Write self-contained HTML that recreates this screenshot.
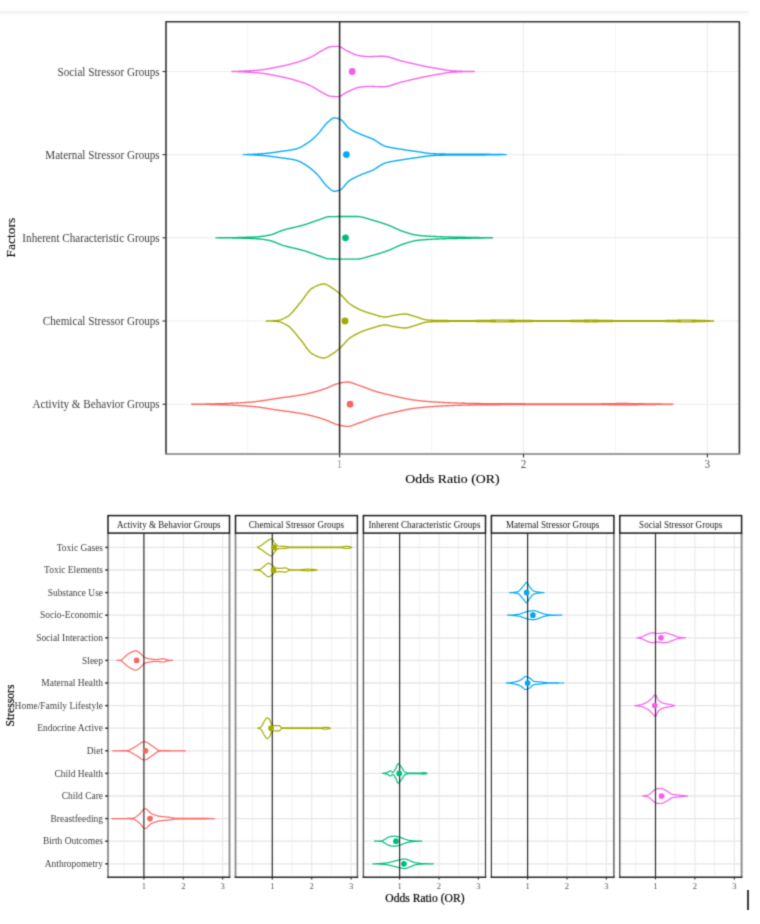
<!DOCTYPE html>
<html><head><meta charset="utf-8"><title>Violin plots</title><style>
html,body{margin:0;padding:0;background:#fff;width:760px;height:924px;overflow:hidden}
svg{display:block}
#w{width:760px;height:924px}
.faint{fill:#c8c8c8}
text{font-family:"Liberation Serif",serif}
.ax{font-size:11.15px;fill:#404040}
.ti{font-size:13.8px;fill:#000;stroke:#000;stroke-width:0.12px}
.st{font-size:9.1px;fill:#1a1a1a}
.bax{font-size:9.45px;fill:#404040}
.tnum{font-size:11.15px;fill:#555}
.one{fill:#999}
.bnum{font-size:8.6px;fill:#5a5a5a}
.fac{font-size:13.5px}
.bti{font-size:11.6px;fill:#000;stroke:#000;stroke-width:0.2px}
</style></head>
<body><div id="w">
<svg width="760" height="924" viewBox="0 0 760 924">
<defs><filter id="bl" x="0" y="0" width="100%" height="100%" color-interpolation-filters="sRGB"><feConvolveMatrix order="3" kernelMatrix="0.0276 0.1109 0.0276 0.1109 0.4462 0.1109 0.0276 0.1109 0.0276" divisor="1" edgeMode="duplicate" preserveAlpha="true"/></filter></defs><g filter="url(#bl)">
<rect x="0" y="0" width="760" height="924" fill="#fff"/>
<rect x="0" y="10.8" width="748.5" height="2.4" fill="#f3f3f3"/>
<rect x="0" y="13.2" width="748.5" height="1.6" fill="#fafafa"/>
<line x1="247.65" y1="21.7" x2="247.65" y2="454.0" stroke="#f4f4f4" stroke-width="0.8"/>
<line x1="431.55" y1="21.7" x2="431.55" y2="454.0" stroke="#f4f4f4" stroke-width="0.8"/>
<line x1="615.45" y1="21.7" x2="615.45" y2="454.0" stroke="#f4f4f4" stroke-width="0.8"/>
<line x1="339.60" y1="21.7" x2="339.60" y2="454.0" stroke="#ebebeb" stroke-width="1.1"/>
<line x1="523.50" y1="21.7" x2="523.50" y2="454.0" stroke="#ebebeb" stroke-width="1.1"/>
<line x1="707.40" y1="21.7" x2="707.40" y2="454.0" stroke="#ebebeb" stroke-width="1.1"/>
<line x1="166.0" y1="71.5" x2="739.4" y2="71.5" stroke="#ebebeb" stroke-width="1.1"/>
<line x1="166.0" y1="154.6" x2="739.4" y2="154.6" stroke="#ebebeb" stroke-width="1.1"/>
<line x1="166.0" y1="237.8" x2="739.4" y2="237.8" stroke="#ebebeb" stroke-width="1.1"/>
<line x1="166.0" y1="321.0" x2="739.4" y2="321.0" stroke="#ebebeb" stroke-width="1.1"/>
<line x1="166.0" y1="404.2" x2="739.4" y2="404.2" stroke="#ebebeb" stroke-width="1.1"/>
<path d="M232.00,71.50 L232.50,71.49 L233.00,71.47 L233.50,71.46 L234.00,71.44 L234.50,71.43 L235.00,71.41 L235.50,71.40 L236.00,71.38 L236.51,71.36 L237.01,71.34 L237.51,71.32 L238.01,71.30 L238.51,71.29 L239.01,71.27 L239.51,71.25 L240.01,71.22 L240.51,71.20 L241.01,71.18 L241.51,71.16 L242.01,71.14 L242.51,71.12 L243.01,71.09 L243.51,71.07 L244.01,71.05 L244.52,71.02 L245.02,71.00 L245.52,70.98 L246.02,70.95 L246.52,70.93 L247.02,70.90 L247.52,70.88 L248.02,70.85 L248.52,70.82 L249.02,70.80 L249.52,70.77 L250.02,70.74 L250.52,70.71 L251.02,70.68 L251.52,70.65 L252.02,70.62 L252.53,70.59 L253.03,70.56 L253.53,70.53 L254.03,70.49 L254.53,70.46 L255.03,70.42 L255.53,70.39 L256.03,70.35 L256.53,70.31 L257.03,70.27 L257.53,70.23 L258.03,70.19 L258.53,70.14 L259.03,70.10 L259.53,70.05 L260.03,70.00 L260.54,69.94 L261.04,69.89 L261.54,69.83 L262.04,69.76 L262.54,69.70 L263.04,69.63 L263.54,69.56 L264.04,69.48 L264.54,69.41 L265.04,69.33 L265.54,69.25 L266.04,69.16 L266.54,69.08 L267.04,68.99 L267.54,68.91 L268.04,68.82 L268.55,68.73 L269.05,68.63 L269.55,68.54 L270.05,68.45 L270.55,68.35 L271.05,68.26 L271.55,68.16 L272.05,68.07 L272.55,67.97 L273.05,67.87 L273.55,67.77 L274.05,67.68 L274.55,67.58 L275.05,67.48 L275.55,67.39 L276.05,67.29 L276.56,67.19 L277.06,67.10 L277.56,67.00 L278.06,66.90 L278.56,66.80 L279.06,66.70 L279.56,66.60 L280.06,66.49 L280.56,66.39 L281.06,66.28 L281.56,66.18 L282.06,66.07 L282.56,65.96 L283.06,65.85 L283.56,65.74 L284.06,65.63 L284.57,65.52 L285.07,65.40 L285.57,65.29 L286.07,65.17 L286.57,65.05 L287.07,64.93 L287.57,64.81 L288.07,64.69 L288.57,64.57 L289.07,64.44 L289.57,64.32 L290.07,64.19 L290.57,64.06 L291.07,63.93 L291.57,63.80 L292.07,63.66 L292.57,63.53 L293.08,63.39 L293.58,63.25 L294.08,63.11 L294.58,62.97 L295.08,62.83 L295.58,62.68 L296.08,62.53 L296.58,62.38 L297.08,62.23 L297.58,62.08 L298.08,61.93 L298.58,61.77 L299.08,61.61 L299.58,61.45 L300.08,61.29 L300.58,61.12 L301.09,60.96 L301.59,60.79 L302.09,60.61 L302.59,60.44 L303.09,60.26 L303.59,60.08 L304.09,59.90 L304.59,59.71 L305.09,59.53 L305.59,59.34 L306.09,59.14 L306.59,58.95 L307.09,58.75 L307.59,58.54 L308.09,58.34 L308.59,58.13 L309.10,57.91 L309.60,57.70 L310.10,57.48 L310.60,57.26 L311.10,57.02 L311.60,56.77 L312.10,56.51 L312.60,56.23 L313.10,55.95 L313.60,55.65 L314.10,55.35 L314.60,55.04 L315.10,54.72 L315.60,54.41 L316.10,54.09 L316.60,53.77 L317.11,53.45 L317.61,53.14 L318.11,52.83 L318.61,52.53 L319.11,52.23 L319.61,51.94 L320.11,51.66 L320.61,51.40 L321.11,51.14 L321.61,50.87 L322.11,50.60 L322.61,50.32 L323.11,50.03 L323.61,49.75 L324.11,49.46 L324.61,49.18 L325.12,48.90 L325.62,48.63 L326.12,48.36 L326.62,48.11 L327.12,47.87 L327.62,47.65 L328.12,47.44 L328.62,47.25 L329.12,47.09 L329.62,46.95 L330.12,46.83 L330.62,46.75 L331.12,46.69 L331.62,46.64 L332.12,46.60 L332.62,46.55 L333.13,46.51 L333.63,46.47 L334.13,46.44 L334.63,46.41 L335.13,46.38 L335.63,46.36 L336.13,46.33 L336.63,46.32 L337.13,46.31 L337.63,46.30 L338.13,46.30 L338.63,46.35 L339.13,46.45 L339.63,46.60 L340.13,46.80 L340.63,47.03 L341.14,47.29 L341.64,47.58 L342.14,47.89 L342.64,48.22 L343.14,48.55 L343.64,48.88 L344.14,49.21 L344.64,49.53 L345.14,49.84 L345.64,50.12 L346.14,50.38 L346.64,50.61 L347.14,50.84 L347.64,51.07 L348.14,51.31 L348.64,51.55 L349.15,51.79 L349.65,52.03 L350.15,52.28 L350.65,52.52 L351.15,52.76 L351.65,53.00 L352.15,53.24 L352.65,53.47 L353.15,53.69 L353.65,53.92 L354.15,54.13 L354.65,54.34 L355.15,54.53 L355.65,54.72 L356.15,54.90 L356.65,55.07 L357.15,55.22 L357.66,55.36 L358.16,55.49 L358.66,55.60 L359.16,55.70 L359.66,55.78 L360.16,55.85 L360.66,55.91 L361.16,55.98 L361.66,56.04 L362.16,56.10 L362.66,56.16 L363.16,56.22 L363.66,56.27 L364.16,56.32 L364.66,56.37 L365.16,56.41 L365.67,56.45 L366.17,56.49 L366.67,56.52 L367.17,56.55 L367.67,56.57 L368.17,56.58 L368.67,56.60 L369.17,56.60 L369.67,56.60 L370.17,56.60 L370.67,56.59 L371.17,56.58 L371.67,56.57 L372.17,56.55 L372.67,56.54 L373.17,56.52 L373.68,56.50 L374.18,56.48 L374.68,56.46 L375.18,56.44 L375.68,56.41 L376.18,56.39 L376.68,56.37 L377.18,56.35 L377.68,56.33 L378.18,56.31 L378.68,56.29 L379.18,56.27 L379.68,56.25 L380.18,56.24 L380.68,56.22 L381.18,56.21 L381.69,56.21 L382.19,56.20 L382.69,56.20 L383.19,56.21 L383.69,56.23 L384.19,56.26 L384.69,56.30 L385.19,56.36 L385.69,56.42 L386.19,56.50 L386.69,56.58 L387.19,56.68 L387.69,56.78 L388.19,56.89 L388.69,57.01 L389.19,57.14 L389.70,57.27 L390.20,57.41 L390.70,57.55 L391.20,57.70 L391.70,57.85 L392.20,58.01 L392.70,58.17 L393.20,58.33 L393.70,58.50 L394.20,58.66 L394.70,58.83 L395.20,59.00 L395.70,59.17 L396.20,59.33 L396.70,59.50 L397.20,59.66 L397.71,59.83 L398.21,59.98 L398.71,60.14 L399.21,60.29 L399.71,60.44 L400.21,60.58 L400.71,60.72 L401.21,60.85 L401.71,60.98 L402.21,61.10 L402.71,61.22 L403.21,61.34 L403.71,61.46 L404.21,61.58 L404.71,61.70 L405.21,61.82 L405.72,61.94 L406.22,62.06 L406.72,62.18 L407.22,62.30 L407.72,62.42 L408.22,62.54 L408.72,62.66 L409.22,62.78 L409.72,62.90 L410.22,63.01 L410.72,63.13 L411.22,63.25 L411.72,63.37 L412.22,63.48 L412.72,63.60 L413.22,63.71 L413.73,63.83 L414.23,63.94 L414.73,64.06 L415.23,64.17 L415.73,64.28 L416.23,64.39 L416.73,64.50 L417.23,64.62 L417.73,64.72 L418.23,64.83 L418.73,64.94 L419.23,65.05 L419.73,65.16 L420.23,65.26 L420.73,65.37 L421.23,65.47 L421.73,65.57 L422.24,65.68 L422.74,65.78 L423.24,65.88 L423.74,65.98 L424.24,66.09 L424.74,66.19 L425.24,66.29 L425.74,66.39 L426.24,66.49 L426.74,66.59 L427.24,66.69 L427.74,66.79 L428.24,66.88 L428.74,66.98 L429.24,67.08 L429.74,67.18 L430.25,67.27 L430.75,67.37 L431.25,67.46 L431.75,67.56 L432.25,67.65 L432.75,67.74 L433.25,67.83 L433.75,67.93 L434.25,68.02 L434.75,68.11 L435.25,68.19 L435.75,68.28 L436.25,68.37 L436.75,68.46 L437.25,68.54 L437.75,68.63 L438.26,68.71 L438.76,68.80 L439.26,68.88 L439.76,68.96 L440.26,69.04 L440.76,69.12 L441.26,69.21 L441.76,69.29 L442.26,69.38 L442.76,69.47 L443.26,69.56 L443.76,69.64 L444.26,69.73 L444.76,69.82 L445.26,69.90 L445.76,69.99 L446.27,70.07 L446.77,70.15 L447.27,70.23 L447.77,70.31 L448.27,70.38 L448.77,70.45 L449.27,70.52 L449.77,70.58 L450.27,70.64 L450.77,70.70 L451.27,70.75 L451.77,70.80 L452.27,70.84 L452.77,70.87 L453.27,70.90 L453.77,70.92 L454.28,70.95 L454.78,70.97 L455.28,71.00 L455.78,71.02 L456.28,71.04 L456.78,71.07 L457.28,71.09 L457.78,71.11 L458.28,71.13 L458.78,71.15 L459.28,71.17 L459.78,71.19 L460.28,71.21 L460.78,71.23 L461.28,71.25 L461.78,71.27 L462.29,71.28 L462.79,71.30 L463.29,71.32 L463.79,71.33 L464.29,71.35 L464.79,71.36 L465.29,71.37 L465.79,71.39 L466.29,71.40 L466.79,71.41 L467.29,71.42 L467.79,71.43 L468.29,71.44 L468.79,71.45 L469.29,71.46 L469.79,71.47 L470.30,71.47 L470.80,71.48 L471.30,71.49 L471.80,71.49 L472.30,71.49 L472.80,71.50 L473.30,71.50 L473.80,71.50 L474.30,71.50 L474.30,71.50 L473.80,71.50 L473.30,71.50 L472.80,71.50 L472.30,71.51 L471.80,71.51 L471.30,71.51 L470.80,71.52 L470.30,71.53 L469.79,71.53 L469.29,71.54 L468.79,71.55 L468.29,71.56 L467.79,71.57 L467.29,71.58 L466.79,71.59 L466.29,71.60 L465.79,71.61 L465.29,71.63 L464.79,71.64 L464.29,71.65 L463.79,71.67 L463.29,71.68 L462.79,71.70 L462.29,71.72 L461.78,71.73 L461.28,71.75 L460.78,71.77 L460.28,71.79 L459.78,71.81 L459.28,71.83 L458.78,71.85 L458.28,71.87 L457.78,71.89 L457.28,71.91 L456.78,71.93 L456.28,71.96 L455.78,71.98 L455.28,72.00 L454.78,72.03 L454.28,72.05 L453.77,72.08 L453.27,72.10 L452.77,72.13 L452.27,72.16 L451.77,72.20 L451.27,72.25 L450.77,72.30 L450.27,72.36 L449.77,72.42 L449.27,72.48 L448.77,72.55 L448.27,72.62 L447.77,72.69 L447.27,72.77 L446.77,72.85 L446.27,72.93 L445.76,73.01 L445.26,73.10 L444.76,73.18 L444.26,73.27 L443.76,73.36 L443.26,73.44 L442.76,73.53 L442.26,73.62 L441.76,73.71 L441.26,73.79 L440.76,73.88 L440.26,73.96 L439.76,74.04 L439.26,74.12 L438.76,74.20 L438.26,74.29 L437.75,74.37 L437.25,74.46 L436.75,74.54 L436.25,74.63 L435.75,74.72 L435.25,74.81 L434.75,74.89 L434.25,74.98 L433.75,75.07 L433.25,75.17 L432.75,75.26 L432.25,75.35 L431.75,75.44 L431.25,75.54 L430.75,75.63 L430.25,75.73 L429.74,75.82 L429.24,75.92 L428.74,76.02 L428.24,76.12 L427.74,76.21 L427.24,76.31 L426.74,76.41 L426.24,76.51 L425.74,76.61 L425.24,76.71 L424.74,76.81 L424.24,76.91 L423.74,77.02 L423.24,77.12 L422.74,77.22 L422.24,77.32 L421.73,77.43 L421.23,77.53 L420.73,77.63 L420.23,77.74 L419.73,77.84 L419.23,77.95 L418.73,78.06 L418.23,78.17 L417.73,78.28 L417.23,78.38 L416.73,78.50 L416.23,78.61 L415.73,78.72 L415.23,78.83 L414.73,78.94 L414.23,79.06 L413.73,79.17 L413.22,79.29 L412.72,79.40 L412.22,79.52 L411.72,79.63 L411.22,79.75 L410.72,79.87 L410.22,79.99 L409.72,80.10 L409.22,80.22 L408.72,80.34 L408.22,80.46 L407.72,80.58 L407.22,80.70 L406.72,80.82 L406.22,80.94 L405.72,81.06 L405.21,81.18 L404.71,81.30 L404.21,81.42 L403.71,81.54 L403.21,81.66 L402.71,81.78 L402.21,81.90 L401.71,82.02 L401.21,82.15 L400.71,82.28 L400.21,82.42 L399.71,82.56 L399.21,82.71 L398.71,82.86 L398.21,83.02 L397.71,83.17 L397.20,83.34 L396.70,83.50 L396.20,83.67 L395.70,83.83 L395.20,84.00 L394.70,84.17 L394.20,84.34 L393.70,84.50 L393.20,84.67 L392.70,84.83 L392.20,84.99 L391.70,85.15 L391.20,85.30 L390.70,85.45 L390.20,85.59 L389.70,85.73 L389.19,85.86 L388.69,85.99 L388.19,86.11 L387.69,86.22 L387.19,86.32 L386.69,86.42 L386.19,86.50 L385.69,86.58 L385.19,86.64 L384.69,86.70 L384.19,86.74 L383.69,86.77 L383.19,86.79 L382.69,86.80 L382.19,86.80 L381.69,86.79 L381.18,86.79 L380.68,86.78 L380.18,86.76 L379.68,86.75 L379.18,86.73 L378.68,86.71 L378.18,86.69 L377.68,86.67 L377.18,86.65 L376.68,86.63 L376.18,86.61 L375.68,86.59 L375.18,86.56 L374.68,86.54 L374.18,86.52 L373.68,86.50 L373.17,86.48 L372.67,86.46 L372.17,86.45 L371.67,86.43 L371.17,86.42 L370.67,86.41 L370.17,86.40 L369.67,86.40 L369.17,86.40 L368.67,86.40 L368.17,86.42 L367.67,86.43 L367.17,86.45 L366.67,86.48 L366.17,86.51 L365.67,86.55 L365.16,86.59 L364.66,86.63 L364.16,86.68 L363.66,86.73 L363.16,86.78 L362.66,86.84 L362.16,86.90 L361.66,86.96 L361.16,87.02 L360.66,87.09 L360.16,87.15 L359.66,87.22 L359.16,87.30 L358.66,87.40 L358.16,87.51 L357.66,87.64 L357.15,87.78 L356.65,87.93 L356.15,88.10 L355.65,88.28 L355.15,88.47 L354.65,88.66 L354.15,88.87 L353.65,89.08 L353.15,89.31 L352.65,89.53 L352.15,89.76 L351.65,90.00 L351.15,90.24 L350.65,90.48 L350.15,90.72 L349.65,90.97 L349.15,91.21 L348.64,91.45 L348.14,91.69 L347.64,91.93 L347.14,92.16 L346.64,92.39 L346.14,92.62 L345.64,92.88 L345.14,93.16 L344.64,93.47 L344.14,93.79 L343.64,94.12 L343.14,94.45 L342.64,94.78 L342.14,95.11 L341.64,95.42 L341.14,95.71 L340.63,95.97 L340.13,96.20 L339.63,96.40 L339.13,96.55 L338.63,96.65 L338.13,96.70 L337.63,96.70 L337.13,96.69 L336.63,96.68 L336.13,96.67 L335.63,96.64 L335.13,96.62 L334.63,96.59 L334.13,96.56 L333.63,96.53 L333.13,96.49 L332.62,96.45 L332.12,96.40 L331.62,96.36 L331.12,96.31 L330.62,96.25 L330.12,96.17 L329.62,96.05 L329.12,95.91 L328.62,95.75 L328.12,95.56 L327.62,95.35 L327.12,95.13 L326.62,94.89 L326.12,94.64 L325.62,94.37 L325.12,94.10 L324.61,93.82 L324.11,93.54 L323.61,93.25 L323.11,92.97 L322.61,92.68 L322.11,92.40 L321.61,92.13 L321.11,91.86 L320.61,91.60 L320.11,91.34 L319.61,91.06 L319.11,90.77 L318.61,90.47 L318.11,90.17 L317.61,89.86 L317.11,89.55 L316.60,89.23 L316.10,88.91 L315.60,88.59 L315.10,88.28 L314.60,87.96 L314.10,87.65 L313.60,87.35 L313.10,87.05 L312.60,86.77 L312.10,86.49 L311.60,86.23 L311.10,85.98 L310.60,85.74 L310.10,85.52 L309.60,85.30 L309.10,85.09 L308.59,84.87 L308.09,84.66 L307.59,84.46 L307.09,84.25 L306.59,84.05 L306.09,83.86 L305.59,83.66 L305.09,83.47 L304.59,83.29 L304.09,83.10 L303.59,82.92 L303.09,82.74 L302.59,82.56 L302.09,82.39 L301.59,82.21 L301.09,82.04 L300.58,81.88 L300.08,81.71 L299.58,81.55 L299.08,81.39 L298.58,81.23 L298.08,81.07 L297.58,80.92 L297.08,80.77 L296.58,80.62 L296.08,80.47 L295.58,80.32 L295.08,80.17 L294.58,80.03 L294.08,79.89 L293.58,79.75 L293.08,79.61 L292.57,79.47 L292.07,79.34 L291.57,79.20 L291.07,79.07 L290.57,78.94 L290.07,78.81 L289.57,78.68 L289.07,78.56 L288.57,78.43 L288.07,78.31 L287.57,78.19 L287.07,78.07 L286.57,77.95 L286.07,77.83 L285.57,77.71 L285.07,77.60 L284.57,77.48 L284.06,77.37 L283.56,77.26 L283.06,77.15 L282.56,77.04 L282.06,76.93 L281.56,76.82 L281.06,76.72 L280.56,76.61 L280.06,76.51 L279.56,76.40 L279.06,76.30 L278.56,76.20 L278.06,76.10 L277.56,76.00 L277.06,75.90 L276.56,75.81 L276.05,75.71 L275.55,75.61 L275.05,75.52 L274.55,75.42 L274.05,75.32 L273.55,75.23 L273.05,75.13 L272.55,75.03 L272.05,74.93 L271.55,74.84 L271.05,74.74 L270.55,74.65 L270.05,74.55 L269.55,74.46 L269.05,74.37 L268.55,74.27 L268.04,74.18 L267.54,74.09 L267.04,74.01 L266.54,73.92 L266.04,73.84 L265.54,73.75 L265.04,73.67 L264.54,73.59 L264.04,73.52 L263.54,73.44 L263.04,73.37 L262.54,73.30 L262.04,73.24 L261.54,73.17 L261.04,73.11 L260.54,73.06 L260.03,73.00 L259.53,72.95 L259.03,72.90 L258.53,72.86 L258.03,72.81 L257.53,72.77 L257.03,72.73 L256.53,72.69 L256.03,72.65 L255.53,72.61 L255.03,72.58 L254.53,72.54 L254.03,72.51 L253.53,72.47 L253.03,72.44 L252.53,72.41 L252.02,72.38 L251.52,72.35 L251.02,72.32 L250.52,72.29 L250.02,72.26 L249.52,72.23 L249.02,72.20 L248.52,72.18 L248.02,72.15 L247.52,72.12 L247.02,72.10 L246.52,72.07 L246.02,72.05 L245.52,72.02 L245.02,72.00 L244.52,71.98 L244.01,71.95 L243.51,71.93 L243.01,71.91 L242.51,71.88 L242.01,71.86 L241.51,71.84 L241.01,71.82 L240.51,71.80 L240.01,71.78 L239.51,71.75 L239.01,71.73 L238.51,71.71 L238.01,71.70 L237.51,71.68 L237.01,71.66 L236.51,71.64 L236.00,71.62 L235.50,71.60 L235.00,71.59 L234.50,71.57 L234.00,71.56 L233.50,71.54 L233.00,71.53 L232.50,71.51 L232.00,71.50Z" fill="#fff" stroke="#F55CEE" stroke-width="1.35" stroke-linejoin="round"/>
<path d="M243.30,154.60 L243.80,154.60 L244.30,154.59 L244.80,154.58 L245.30,154.58 L245.80,154.57 L246.30,154.55 L246.80,154.54 L247.30,154.53 L247.80,154.51 L248.30,154.50 L248.80,154.48 L249.30,154.46 L249.80,154.44 L250.30,154.42 L250.80,154.40 L251.30,154.38 L251.80,154.36 L252.30,154.33 L252.80,154.31 L253.30,154.28 L253.80,154.25 L254.30,154.23 L254.80,154.20 L255.30,154.17 L255.80,154.14 L256.30,154.11 L256.80,154.08 L257.30,154.05 L257.80,154.02 L258.30,153.99 L258.80,153.95 L259.30,153.92 L259.80,153.89 L260.30,153.86 L260.80,153.82 L261.30,153.79 L261.80,153.75 L262.30,153.72 L262.80,153.69 L263.30,153.65 L263.80,153.61 L264.30,153.57 L264.80,153.53 L265.30,153.48 L265.80,153.43 L266.30,153.38 L266.80,153.33 L267.30,153.28 L267.80,153.22 L268.30,153.16 L268.80,153.10 L269.30,153.04 L269.80,152.98 L270.30,152.92 L270.80,152.85 L271.30,152.79 L271.80,152.72 L272.30,152.65 L272.80,152.58 L273.30,152.51 L273.80,152.44 L274.30,152.37 L274.80,152.30 L275.30,152.23 L275.80,152.15 L276.30,152.08 L276.80,152.01 L277.30,151.94 L277.80,151.86 L278.30,151.79 L278.80,151.72 L279.30,151.64 L279.80,151.57 L280.30,151.50 L280.80,151.43 L281.30,151.36 L281.80,151.29 L282.30,151.22 L282.80,151.15 L283.30,151.09 L283.80,151.02 L284.30,150.96 L284.80,150.89 L285.30,150.83 L285.80,150.76 L286.30,150.69 L286.80,150.63 L287.30,150.56 L287.80,150.49 L288.30,150.42 L288.80,150.34 L289.30,150.27 L289.80,150.19 L290.30,150.11 L290.80,150.03 L291.30,149.94 L291.80,149.85 L292.30,149.76 L292.80,149.67 L293.30,149.57 L293.80,149.46 L294.30,149.35 L294.80,149.24 L295.30,149.12 L295.80,149.00 L296.30,148.87 L296.80,148.72 L297.30,148.56 L297.80,148.38 L298.30,148.19 L298.80,147.98 L299.30,147.77 L299.80,147.54 L300.30,147.30 L300.80,147.05 L301.30,146.80 L301.80,146.53 L302.30,146.25 L302.80,145.97 L303.30,145.67 L303.80,145.37 L304.30,145.07 L304.80,144.76 L305.30,144.44 L305.80,144.12 L306.30,143.80 L306.80,143.47 L307.30,143.14 L307.80,142.80 L308.30,142.47 L308.80,142.13 L309.30,141.79 L309.80,141.42 L310.30,141.04 L310.80,140.65 L311.30,140.25 L311.80,139.83 L312.30,139.40 L312.80,138.96 L313.30,138.51 L313.80,138.05 L314.30,137.58 L314.80,137.10 L315.30,136.61 L315.80,136.12 L316.30,135.62 L316.80,135.12 L317.30,134.61 L317.80,134.10 L318.30,133.58 L318.80,133.02 L319.30,132.43 L319.80,131.82 L320.30,131.18 L320.80,130.53 L321.30,129.87 L321.80,129.20 L322.30,128.53 L322.80,127.86 L323.30,127.19 L323.80,126.55 L324.30,125.91 L324.80,125.30 L325.30,124.72 L325.80,124.16 L326.30,123.64 L326.80,123.17 L327.30,122.73 L327.80,122.28 L328.30,121.83 L328.80,121.36 L329.30,120.91 L329.80,120.45 L330.30,120.02 L330.80,119.61 L331.30,119.22 L331.80,118.87 L332.30,118.57 L332.80,118.31 L333.30,118.11 L333.80,117.97 L334.30,117.91 L334.80,117.91 L335.30,117.94 L335.80,118.00 L336.30,118.08 L336.80,118.19 L337.30,118.31 L337.80,118.45 L338.30,118.61 L338.80,118.77 L339.30,118.95 L339.80,119.13 L340.30,119.32 L340.80,119.60 L341.30,119.94 L341.80,120.35 L342.30,120.81 L342.80,121.32 L343.30,121.87 L343.80,122.45 L344.30,123.06 L344.80,123.67 L345.30,124.30 L345.80,124.92 L346.30,125.52 L346.80,126.11 L347.30,126.67 L347.80,127.20 L348.30,127.68 L348.80,128.10 L349.30,128.47 L349.80,128.80 L350.30,129.13 L350.80,129.44 L351.30,129.74 L351.80,130.04 L352.30,130.32 L352.80,130.59 L353.30,130.86 L353.80,131.12 L354.30,131.37 L354.80,131.62 L355.30,131.86 L355.80,132.10 L356.30,132.33 L356.80,132.56 L357.30,132.79 L357.80,133.01 L358.30,133.24 L358.80,133.46 L359.30,133.69 L359.80,133.91 L360.30,134.13 L360.80,134.35 L361.30,134.56 L361.80,134.77 L362.30,134.97 L362.80,135.17 L363.30,135.36 L363.80,135.55 L364.30,135.74 L364.80,135.93 L365.30,136.11 L365.80,136.29 L366.30,136.48 L366.80,136.66 L367.30,136.84 L367.80,137.03 L368.30,137.22 L368.80,137.41 L369.30,137.60 L369.80,137.80 L370.30,138.00 L370.80,138.21 L371.30,138.42 L371.80,138.64 L372.30,138.86 L372.80,139.09 L373.30,139.34 L373.80,139.61 L374.30,139.89 L374.80,140.18 L375.30,140.49 L375.80,140.80 L376.30,141.12 L376.80,141.45 L377.30,141.78 L377.80,142.11 L378.30,142.44 L378.80,142.78 L379.30,143.11 L379.80,143.43 L380.30,143.75 L380.80,144.06 L381.30,144.36 L381.80,144.65 L382.30,144.92 L382.80,145.18 L383.30,145.43 L383.80,145.65 L384.30,145.86 L384.80,146.04 L385.30,146.20 L385.80,146.34 L386.30,146.48 L386.80,146.62 L387.30,146.75 L387.80,146.87 L388.30,146.99 L388.80,147.11 L389.30,147.22 L389.80,147.33 L390.30,147.43 L390.80,147.54 L391.30,147.63 L391.80,147.73 L392.30,147.82 L392.80,147.91 L393.30,148.00 L393.80,148.09 L394.30,148.17 L394.80,148.26 L395.30,148.34 L395.80,148.42 L396.30,148.50 L396.80,148.58 L397.30,148.66 L397.80,148.73 L398.30,148.81 L398.80,148.89 L399.30,148.97 L399.80,149.05 L400.30,149.12 L400.80,149.20 L401.30,149.28 L401.80,149.37 L402.30,149.45 L402.80,149.53 L403.30,149.61 L403.80,149.69 L404.30,149.77 L404.80,149.85 L405.30,149.93 L405.80,150.01 L406.30,150.08 L406.80,150.16 L407.30,150.24 L407.80,150.31 L408.30,150.38 L408.80,150.46 L409.30,150.53 L409.80,150.60 L410.30,150.68 L410.80,150.75 L411.30,150.82 L411.80,150.89 L412.30,150.96 L412.80,151.03 L413.30,151.10 L413.80,151.17 L414.30,151.24 L414.80,151.31 L415.30,151.38 L415.80,151.45 L416.30,151.52 L416.80,151.59 L417.30,151.66 L417.80,151.73 L418.30,151.80 L418.80,151.87 L419.30,151.94 L419.80,152.02 L420.30,152.09 L420.80,152.17 L421.30,152.25 L421.80,152.33 L422.30,152.41 L422.80,152.49 L423.30,152.58 L423.80,152.66 L424.30,152.74 L424.80,152.82 L425.30,152.90 L425.80,152.97 L426.30,153.05 L426.80,153.12 L427.30,153.19 L427.80,153.25 L428.30,153.32 L428.80,153.37 L429.30,153.43 L429.80,153.47 L430.30,153.52 L430.80,153.55 L431.30,153.58 L431.80,153.61 L432.30,153.63 L432.80,153.66 L433.30,153.68 L433.80,153.70 L434.30,153.72 L434.80,153.74 L435.30,153.76 L435.80,153.78 L436.30,153.80 L436.80,153.82 L437.30,153.83 L437.80,153.85 L438.30,153.87 L438.80,153.88 L439.30,153.90 L439.80,153.92 L440.30,153.93 L440.80,153.94 L441.30,153.96 L441.80,153.97 L442.30,153.98 L442.80,153.99 L443.30,154.01 L443.80,154.02 L444.30,154.03 L444.80,154.04 L445.30,154.04 L445.80,154.05 L446.30,154.06 L446.80,154.07 L447.30,154.07 L447.80,154.08 L448.30,154.09 L448.80,154.09 L449.30,154.09 L449.80,154.10 L450.30,154.10 L450.80,154.10 L451.30,154.11 L451.80,154.11 L452.30,154.11 L452.80,154.12 L453.30,154.12 L453.80,154.12 L454.30,154.12 L454.80,154.12 L455.30,154.13 L455.80,154.13 L456.30,154.13 L456.80,154.13 L457.30,154.13 L457.80,154.14 L458.30,154.14 L458.80,154.14 L459.30,154.14 L459.80,154.14 L460.30,154.14 L460.80,154.14 L461.30,154.14 L461.80,154.15 L462.30,154.15 L462.80,154.15 L463.30,154.15 L463.80,154.15 L464.30,154.15 L464.80,154.15 L465.30,154.15 L465.80,154.15 L466.30,154.16 L466.80,154.16 L467.30,154.16 L467.80,154.16 L468.30,154.16 L468.80,154.16 L469.30,154.16 L469.80,154.16 L470.30,154.16 L470.80,154.17 L471.30,154.17 L471.80,154.17 L472.30,154.17 L472.80,154.17 L473.30,154.17 L473.80,154.17 L474.30,154.18 L474.80,154.18 L475.30,154.18 L475.80,154.18 L476.30,154.18 L476.80,154.18 L477.30,154.19 L477.80,154.19 L478.30,154.19 L478.80,154.19 L479.30,154.20 L479.80,154.20 L480.30,154.20 L480.80,154.20 L481.30,154.21 L481.80,154.21 L482.30,154.22 L482.80,154.22 L483.30,154.22 L483.80,154.23 L484.30,154.23 L484.80,154.24 L485.30,154.24 L485.80,154.25 L486.30,154.25 L486.80,154.26 L487.30,154.27 L487.80,154.27 L488.30,154.28 L488.80,154.29 L489.30,154.29 L489.80,154.30 L490.30,154.31 L490.80,154.31 L491.30,154.32 L491.80,154.33 L492.30,154.34 L492.80,154.34 L493.30,154.35 L493.80,154.36 L494.30,154.37 L494.80,154.38 L495.30,154.39 L495.80,154.39 L496.30,154.40 L496.80,154.41 L497.30,154.42 L497.80,154.43 L498.30,154.44 L498.80,154.45 L499.30,154.46 L499.80,154.47 L500.30,154.48 L500.80,154.49 L501.30,154.50 L501.80,154.51 L502.30,154.52 L502.80,154.53 L503.30,154.54 L503.80,154.55 L504.30,154.56 L504.80,154.57 L505.30,154.58 L505.80,154.59 L506.30,154.60 L506.30,154.60 L505.80,154.61 L505.30,154.62 L504.80,154.63 L504.30,154.64 L503.80,154.65 L503.30,154.66 L502.80,154.67 L502.30,154.68 L501.80,154.69 L501.30,154.70 L500.80,154.71 L500.30,154.72 L499.80,154.73 L499.30,154.74 L498.80,154.75 L498.30,154.76 L497.80,154.77 L497.30,154.78 L496.80,154.79 L496.30,154.80 L495.80,154.81 L495.30,154.81 L494.80,154.82 L494.30,154.83 L493.80,154.84 L493.30,154.85 L492.80,154.86 L492.30,154.86 L491.80,154.87 L491.30,154.88 L490.80,154.89 L490.30,154.89 L489.80,154.90 L489.30,154.91 L488.80,154.91 L488.30,154.92 L487.80,154.93 L487.30,154.93 L486.80,154.94 L486.30,154.95 L485.80,154.95 L485.30,154.96 L484.80,154.96 L484.30,154.97 L483.80,154.97 L483.30,154.98 L482.80,154.98 L482.30,154.98 L481.80,154.99 L481.30,154.99 L480.80,155.00 L480.30,155.00 L479.80,155.00 L479.30,155.00 L478.80,155.01 L478.30,155.01 L477.80,155.01 L477.30,155.01 L476.80,155.02 L476.30,155.02 L475.80,155.02 L475.30,155.02 L474.80,155.02 L474.30,155.02 L473.80,155.03 L473.30,155.03 L472.80,155.03 L472.30,155.03 L471.80,155.03 L471.30,155.03 L470.80,155.03 L470.30,155.04 L469.80,155.04 L469.30,155.04 L468.80,155.04 L468.30,155.04 L467.80,155.04 L467.30,155.04 L466.80,155.04 L466.30,155.04 L465.80,155.05 L465.30,155.05 L464.80,155.05 L464.30,155.05 L463.80,155.05 L463.30,155.05 L462.80,155.05 L462.30,155.05 L461.80,155.05 L461.30,155.06 L460.80,155.06 L460.30,155.06 L459.80,155.06 L459.30,155.06 L458.80,155.06 L458.30,155.06 L457.80,155.06 L457.30,155.07 L456.80,155.07 L456.30,155.07 L455.80,155.07 L455.30,155.07 L454.80,155.08 L454.30,155.08 L453.80,155.08 L453.30,155.08 L452.80,155.08 L452.30,155.09 L451.80,155.09 L451.30,155.09 L450.80,155.10 L450.30,155.10 L449.80,155.10 L449.30,155.11 L448.80,155.11 L448.30,155.11 L447.80,155.12 L447.30,155.13 L446.80,155.13 L446.30,155.14 L445.80,155.15 L445.30,155.16 L444.80,155.16 L444.30,155.17 L443.80,155.18 L443.30,155.19 L442.80,155.21 L442.30,155.22 L441.80,155.23 L441.30,155.24 L440.80,155.26 L440.30,155.27 L439.80,155.28 L439.30,155.30 L438.80,155.32 L438.30,155.33 L437.80,155.35 L437.30,155.37 L436.80,155.38 L436.30,155.40 L435.80,155.42 L435.30,155.44 L434.80,155.46 L434.30,155.48 L433.80,155.50 L433.30,155.52 L432.80,155.54 L432.30,155.57 L431.80,155.59 L431.30,155.62 L430.80,155.65 L430.30,155.68 L429.80,155.73 L429.30,155.77 L428.80,155.83 L428.30,155.88 L427.80,155.95 L427.30,156.01 L426.80,156.08 L426.30,156.15 L425.80,156.23 L425.30,156.30 L424.80,156.38 L424.30,156.46 L423.80,156.54 L423.30,156.62 L422.80,156.71 L422.30,156.79 L421.80,156.87 L421.30,156.95 L420.80,157.03 L420.30,157.11 L419.80,157.18 L419.30,157.26 L418.80,157.33 L418.30,157.40 L417.80,157.47 L417.30,157.54 L416.80,157.61 L416.30,157.68 L415.80,157.75 L415.30,157.82 L414.80,157.89 L414.30,157.96 L413.80,158.03 L413.30,158.10 L412.80,158.17 L412.30,158.24 L411.80,158.31 L411.30,158.38 L410.80,158.45 L410.30,158.52 L409.80,158.60 L409.30,158.67 L408.80,158.74 L408.30,158.82 L407.80,158.89 L407.30,158.96 L406.80,159.04 L406.30,159.12 L405.80,159.19 L405.30,159.27 L404.80,159.35 L404.30,159.43 L403.80,159.51 L403.30,159.59 L402.80,159.67 L402.30,159.75 L401.80,159.83 L401.30,159.92 L400.80,160.00 L400.30,160.08 L399.80,160.15 L399.30,160.23 L398.80,160.31 L398.30,160.39 L397.80,160.47 L397.30,160.54 L396.80,160.62 L396.30,160.70 L395.80,160.78 L395.30,160.86 L394.80,160.94 L394.30,161.03 L393.80,161.11 L393.30,161.20 L392.80,161.29 L392.30,161.38 L391.80,161.47 L391.30,161.57 L390.80,161.66 L390.30,161.77 L389.80,161.87 L389.30,161.98 L388.80,162.09 L388.30,162.21 L387.80,162.33 L387.30,162.45 L386.80,162.58 L386.30,162.72 L385.80,162.86 L385.30,163.00 L384.80,163.16 L384.30,163.34 L383.80,163.55 L383.30,163.77 L382.80,164.02 L382.30,164.28 L381.80,164.55 L381.30,164.84 L380.80,165.14 L380.30,165.45 L379.80,165.77 L379.30,166.09 L378.80,166.42 L378.30,166.76 L377.80,167.09 L377.30,167.42 L376.80,167.75 L376.30,168.08 L375.80,168.40 L375.30,168.71 L374.80,169.02 L374.30,169.31 L373.80,169.59 L373.30,169.86 L372.80,170.11 L372.30,170.34 L371.80,170.56 L371.30,170.78 L370.80,170.99 L370.30,171.20 L369.80,171.40 L369.30,171.60 L368.80,171.79 L368.30,171.98 L367.80,172.17 L367.30,172.36 L366.80,172.54 L366.30,172.72 L365.80,172.91 L365.30,173.09 L364.80,173.27 L364.30,173.46 L363.80,173.65 L363.30,173.84 L362.80,174.03 L362.30,174.23 L361.80,174.43 L361.30,174.64 L360.80,174.85 L360.30,175.07 L359.80,175.29 L359.30,175.51 L358.80,175.74 L358.30,175.96 L357.80,176.19 L357.30,176.41 L356.80,176.64 L356.30,176.87 L355.80,177.10 L355.30,177.34 L354.80,177.58 L354.30,177.83 L353.80,178.08 L353.30,178.34 L352.80,178.61 L352.30,178.88 L351.80,179.16 L351.30,179.46 L350.80,179.76 L350.30,180.07 L349.80,180.40 L349.30,180.73 L348.80,181.10 L348.30,181.52 L347.80,182.00 L347.30,182.53 L346.80,183.09 L346.30,183.68 L345.80,184.28 L345.30,184.90 L344.80,185.53 L344.30,186.14 L343.80,186.75 L343.30,187.33 L342.80,187.88 L342.30,188.39 L341.80,188.85 L341.30,189.26 L340.80,189.60 L340.30,189.88 L339.80,190.07 L339.30,190.25 L338.80,190.43 L338.30,190.59 L337.80,190.75 L337.30,190.89 L336.80,191.01 L336.30,191.12 L335.80,191.20 L335.30,191.26 L334.80,191.29 L334.30,191.29 L333.80,191.23 L333.30,191.09 L332.80,190.89 L332.30,190.63 L331.80,190.33 L331.30,189.98 L330.80,189.59 L330.30,189.18 L329.80,188.75 L329.30,188.29 L328.80,187.84 L328.30,187.37 L327.80,186.92 L327.30,186.47 L326.80,186.03 L326.30,185.56 L325.80,185.04 L325.30,184.48 L324.80,183.90 L324.30,183.29 L323.80,182.65 L323.30,182.01 L322.80,181.34 L322.30,180.67 L321.80,180.00 L321.30,179.33 L320.80,178.67 L320.30,178.02 L319.80,177.38 L319.30,176.77 L318.80,176.18 L318.30,175.62 L317.80,175.10 L317.30,174.59 L316.80,174.08 L316.30,173.58 L315.80,173.08 L315.30,172.59 L314.80,172.10 L314.30,171.62 L313.80,171.15 L313.30,170.69 L312.80,170.24 L312.30,169.80 L311.80,169.37 L311.30,168.95 L310.80,168.55 L310.30,168.16 L309.80,167.78 L309.30,167.41 L308.80,167.07 L308.30,166.73 L307.80,166.40 L307.30,166.06 L306.80,165.73 L306.30,165.40 L305.80,165.08 L305.30,164.76 L304.80,164.44 L304.30,164.13 L303.80,163.83 L303.30,163.53 L302.80,163.23 L302.30,162.95 L301.80,162.67 L301.30,162.40 L300.80,162.15 L300.30,161.90 L299.80,161.66 L299.30,161.43 L298.80,161.22 L298.30,161.01 L297.80,160.82 L297.30,160.64 L296.80,160.48 L296.30,160.33 L295.80,160.20 L295.30,160.08 L294.80,159.96 L294.30,159.85 L293.80,159.74 L293.30,159.63 L292.80,159.53 L292.30,159.44 L291.80,159.35 L291.30,159.26 L290.80,159.17 L290.30,159.09 L289.80,159.01 L289.30,158.93 L288.80,158.86 L288.30,158.78 L287.80,158.71 L287.30,158.64 L286.80,158.57 L286.30,158.51 L285.80,158.44 L285.30,158.37 L284.80,158.31 L284.30,158.24 L283.80,158.18 L283.30,158.11 L282.80,158.05 L282.30,157.98 L281.80,157.91 L281.30,157.84 L280.80,157.77 L280.30,157.70 L279.80,157.63 L279.30,157.56 L278.80,157.48 L278.30,157.41 L277.80,157.34 L277.30,157.26 L276.80,157.19 L276.30,157.12 L275.80,157.05 L275.30,156.97 L274.80,156.90 L274.30,156.83 L273.80,156.76 L273.30,156.69 L272.80,156.62 L272.30,156.55 L271.80,156.48 L271.30,156.41 L270.80,156.35 L270.30,156.28 L269.80,156.22 L269.30,156.16 L268.80,156.10 L268.30,156.04 L267.80,155.98 L267.30,155.92 L266.80,155.87 L266.30,155.82 L265.80,155.77 L265.30,155.72 L264.80,155.67 L264.30,155.63 L263.80,155.59 L263.30,155.55 L262.80,155.51 L262.30,155.48 L261.80,155.45 L261.30,155.41 L260.80,155.38 L260.30,155.34 L259.80,155.31 L259.30,155.28 L258.80,155.25 L258.30,155.21 L257.80,155.18 L257.30,155.15 L256.80,155.12 L256.30,155.09 L255.80,155.06 L255.30,155.03 L254.80,155.00 L254.30,154.97 L253.80,154.95 L253.30,154.92 L252.80,154.89 L252.30,154.87 L251.80,154.84 L251.30,154.82 L250.80,154.80 L250.30,154.78 L249.80,154.76 L249.30,154.74 L248.80,154.72 L248.30,154.70 L247.80,154.69 L247.30,154.67 L246.80,154.66 L246.30,154.65 L245.80,154.63 L245.30,154.62 L244.80,154.62 L244.30,154.61 L243.80,154.60 L243.30,154.60Z" fill="#fff" stroke="#00A8F4" stroke-width="1.35" stroke-linejoin="round"/>
<path d="M215.90,237.80 L216.40,237.80 L216.90,237.80 L217.40,237.80 L217.90,237.80 L218.40,237.80 L218.90,237.79 L219.40,237.79 L219.90,237.79 L220.40,237.79 L220.90,237.79 L221.40,237.78 L221.90,237.78 L222.40,237.78 L222.91,237.77 L223.41,237.77 L223.91,237.76 L224.41,237.76 L224.91,237.75 L225.41,237.75 L225.91,237.74 L226.41,237.74 L226.91,237.73 L227.41,237.72 L227.91,237.72 L228.41,237.71 L228.91,237.70 L229.41,237.69 L229.91,237.69 L230.41,237.68 L230.91,237.67 L231.41,237.66 L231.91,237.65 L232.41,237.64 L232.91,237.63 L233.41,237.62 L233.91,237.61 L234.41,237.60 L234.91,237.59 L235.41,237.58 L235.91,237.57 L236.41,237.56 L236.92,237.55 L237.42,237.54 L237.92,237.53 L238.42,237.51 L238.92,237.50 L239.42,237.49 L239.92,237.48 L240.42,237.46 L240.92,237.45 L241.42,237.43 L241.92,237.42 L242.42,237.41 L242.92,237.39 L243.42,237.38 L243.92,237.36 L244.42,237.35 L244.92,237.33 L245.42,237.32 L245.92,237.30 L246.42,237.28 L246.92,237.27 L247.42,237.25 L247.92,237.23 L248.42,237.22 L248.92,237.20 L249.42,237.18 L249.92,237.16 L250.42,237.15 L250.93,237.13 L251.43,237.11 L251.93,237.09 L252.43,237.07 L252.93,237.05 L253.43,237.03 L253.93,237.01 L254.43,236.99 L254.93,236.97 L255.43,236.95 L255.93,236.92 L256.43,236.89 L256.93,236.85 L257.43,236.81 L257.93,236.77 L258.43,236.73 L258.93,236.68 L259.43,236.63 L259.93,236.58 L260.43,236.52 L260.93,236.47 L261.43,236.41 L261.93,236.34 L262.43,236.28 L262.93,236.21 L263.43,236.15 L263.93,236.07 L264.44,236.00 L264.94,235.93 L265.44,235.85 L265.94,235.77 L266.44,235.69 L266.94,235.61 L267.44,235.53 L267.94,235.44 L268.44,235.36 L268.94,235.26 L269.44,235.15 L269.94,235.03 L270.44,234.90 L270.94,234.76 L271.44,234.60 L271.94,234.45 L272.44,234.28 L272.94,234.10 L273.44,233.92 L273.94,233.74 L274.44,233.55 L274.94,233.35 L275.44,233.15 L275.94,232.95 L276.44,232.75 L276.94,232.54 L277.44,232.34 L277.94,232.13 L278.45,231.93 L278.95,231.72 L279.45,231.52 L279.95,231.32 L280.45,231.13 L280.95,230.94 L281.45,230.75 L281.95,230.57 L282.45,230.39 L282.95,230.23 L283.45,230.07 L283.95,229.91 L284.45,229.77 L284.95,229.63 L285.45,229.49 L285.95,229.35 L286.45,229.22 L286.95,229.09 L287.45,228.96 L287.95,228.83 L288.45,228.71 L288.95,228.59 L289.45,228.47 L289.95,228.35 L290.45,228.23 L290.95,228.11 L291.45,227.99 L291.95,227.88 L292.46,227.76 L292.96,227.65 L293.46,227.53 L293.96,227.42 L294.46,227.31 L294.96,227.19 L295.46,227.08 L295.96,226.96 L296.46,226.85 L296.96,226.73 L297.46,226.61 L297.96,226.49 L298.46,226.37 L298.96,226.25 L299.46,226.13 L299.96,226.01 L300.46,225.88 L300.96,225.75 L301.46,225.62 L301.96,225.49 L302.46,225.35 L302.96,225.21 L303.46,225.07 L303.96,224.92 L304.46,224.77 L304.96,224.62 L305.46,224.46 L305.97,224.31 L306.47,224.14 L306.97,223.98 L307.47,223.81 L307.97,223.64 L308.47,223.47 L308.97,223.29 L309.47,223.11 L309.97,222.94 L310.47,222.76 L310.97,222.58 L311.47,222.40 L311.97,222.22 L312.47,222.04 L312.97,221.86 L313.47,221.67 L313.97,221.49 L314.47,221.31 L314.97,221.14 L315.47,220.96 L315.97,220.78 L316.47,220.61 L316.97,220.43 L317.47,220.26 L317.97,220.10 L318.47,219.93 L318.97,219.77 L319.47,219.61 L319.98,219.45 L320.48,219.27 L320.98,219.09 L321.48,218.91 L321.98,218.72 L322.48,218.52 L322.98,218.33 L323.48,218.14 L323.98,217.95 L324.48,217.77 L324.98,217.60 L325.48,217.43 L325.98,217.28 L326.48,217.14 L326.98,217.02 L327.48,216.91 L327.98,216.82 L328.48,216.76 L328.98,216.71 L329.48,216.69 L329.98,216.68 L330.48,216.67 L330.98,216.65 L331.48,216.64 L331.98,216.63 L332.48,216.62 L332.98,216.61 L333.48,216.60 L333.99,216.59 L334.49,216.58 L334.99,216.57 L335.49,216.56 L335.99,216.55 L336.49,216.55 L336.99,216.54 L337.49,216.53 L337.99,216.53 L338.49,216.52 L338.99,216.52 L339.49,216.51 L339.99,216.51 L340.49,216.51 L340.99,216.50 L341.49,216.50 L341.99,216.50 L342.49,216.50 L342.99,216.50 L343.49,216.50 L343.99,216.50 L344.49,216.50 L344.99,216.50 L345.49,216.50 L345.99,216.50 L346.49,216.50 L346.99,216.50 L347.50,216.50 L348.00,216.50 L348.50,216.50 L349.00,216.50 L349.50,216.50 L350.00,216.50 L350.50,216.50 L351.00,216.50 L351.50,216.50 L352.00,216.50 L352.50,216.50 L353.00,216.50 L353.50,216.50 L354.00,216.50 L354.50,216.50 L355.00,216.50 L355.50,216.50 L356.00,216.50 L356.50,216.50 L357.00,216.50 L357.50,216.51 L358.00,216.54 L358.50,216.58 L359.00,216.63 L359.50,216.69 L360.00,216.77 L360.50,216.85 L361.00,216.94 L361.51,217.04 L362.01,217.15 L362.51,217.27 L363.01,217.39 L363.51,217.52 L364.01,217.66 L364.51,217.80 L365.01,217.94 L365.51,218.09 L366.01,218.24 L366.51,218.39 L367.01,218.54 L367.51,218.70 L368.01,218.85 L368.51,219.00 L369.01,219.16 L369.51,219.31 L370.01,219.46 L370.51,219.60 L371.01,219.74 L371.51,219.88 L372.01,220.01 L372.51,220.14 L373.01,220.28 L373.51,220.42 L374.01,220.56 L374.51,220.70 L375.02,220.84 L375.52,220.99 L376.02,221.13 L376.52,221.28 L377.02,221.43 L377.52,221.58 L378.02,221.73 L378.52,221.88 L379.02,222.04 L379.52,222.19 L380.02,222.35 L380.52,222.51 L381.02,222.67 L381.52,222.83 L382.02,222.99 L382.52,223.16 L383.02,223.32 L383.52,223.49 L384.02,223.66 L384.52,223.83 L385.02,224.00 L385.52,224.18 L386.02,224.35 L386.52,224.53 L387.02,224.70 L387.52,224.88 L388.02,225.06 L388.52,225.25 L389.03,225.43 L389.53,225.63 L390.03,225.83 L390.53,226.04 L391.03,226.25 L391.53,226.46 L392.03,226.69 L392.53,226.91 L393.03,227.14 L393.53,227.37 L394.03,227.60 L394.53,227.83 L395.03,228.07 L395.53,228.30 L396.03,228.54 L396.53,228.77 L397.03,229.00 L397.53,229.23 L398.03,229.45 L398.53,229.68 L399.03,229.90 L399.53,230.11 L400.03,230.32 L400.53,230.53 L401.03,230.73 L401.53,230.92 L402.03,231.10 L402.53,231.28 L403.04,231.45 L403.54,231.61 L404.04,231.77 L404.54,231.93 L405.04,232.09 L405.54,232.25 L406.04,232.41 L406.54,232.57 L407.04,232.73 L407.54,232.89 L408.04,233.04 L408.54,233.20 L409.04,233.35 L409.54,233.49 L410.04,233.64 L410.54,233.78 L411.04,233.92 L411.54,234.05 L412.04,234.18 L412.54,234.31 L413.04,234.43 L413.54,234.54 L414.04,234.65 L414.54,234.76 L415.04,234.86 L415.54,234.95 L416.04,235.04 L416.55,235.12 L417.05,235.19 L417.55,235.26 L418.05,235.32 L418.55,235.37 L419.05,235.43 L419.55,235.48 L420.05,235.53 L420.55,235.58 L421.05,235.62 L421.55,235.67 L422.05,235.72 L422.55,235.76 L423.05,235.80 L423.55,235.84 L424.05,235.88 L424.55,235.92 L425.05,235.96 L425.55,235.99 L426.05,236.03 L426.55,236.06 L427.05,236.09 L427.55,236.13 L428.05,236.16 L428.55,236.19 L429.05,236.22 L429.55,236.24 L430.05,236.27 L430.56,236.30 L431.06,236.33 L431.56,236.35 L432.06,236.38 L432.56,236.40 L433.06,236.42 L433.56,236.45 L434.06,236.47 L434.56,236.49 L435.06,236.52 L435.56,236.54 L436.06,236.56 L436.56,236.58 L437.06,236.60 L437.56,236.62 L438.06,236.64 L438.56,236.66 L439.06,236.68 L439.56,236.70 L440.06,236.71 L440.56,236.73 L441.06,236.75 L441.56,236.76 L442.06,236.78 L442.56,236.80 L443.06,236.81 L443.56,236.83 L444.06,236.84 L444.57,236.86 L445.07,236.87 L445.57,236.89 L446.07,236.90 L446.57,236.91 L447.07,236.93 L447.57,236.94 L448.07,236.95 L448.57,236.97 L449.07,236.98 L449.57,236.99 L450.07,237.00 L450.57,237.01 L451.07,237.02 L451.57,237.04 L452.07,237.05 L452.57,237.06 L453.07,237.07 L453.57,237.08 L454.07,237.09 L454.57,237.10 L455.07,237.11 L455.57,237.11 L456.07,237.12 L456.57,237.13 L457.07,237.14 L457.57,237.15 L458.08,237.16 L458.58,237.17 L459.08,237.18 L459.58,237.18 L460.08,237.19 L460.58,237.20 L461.08,237.21 L461.58,237.22 L462.08,237.23 L462.58,237.23 L463.08,237.24 L463.58,237.25 L464.08,237.26 L464.58,237.27 L465.08,237.28 L465.58,237.29 L466.08,237.30 L466.58,237.31 L467.08,237.31 L467.58,237.32 L468.08,237.33 L468.58,237.34 L469.08,237.35 L469.58,237.36 L470.08,237.37 L470.58,237.38 L471.08,237.39 L471.58,237.40 L472.09,237.41 L472.59,237.42 L473.09,237.43 L473.59,237.44 L474.09,237.45 L474.59,237.46 L475.09,237.47 L475.59,237.47 L476.09,237.48 L476.59,237.49 L477.09,237.50 L477.59,237.51 L478.09,237.52 L478.59,237.53 L479.09,237.54 L479.59,237.55 L480.09,237.56 L480.59,237.57 L481.09,237.58 L481.59,237.59 L482.09,237.60 L482.59,237.61 L483.09,237.62 L483.59,237.63 L484.09,237.64 L484.59,237.65 L485.09,237.66 L485.59,237.66 L486.10,237.67 L486.60,237.68 L487.10,237.69 L487.60,237.70 L488.10,237.71 L488.60,237.72 L489.10,237.73 L489.60,237.74 L490.10,237.75 L490.60,237.76 L491.10,237.77 L491.60,237.78 L492.10,237.79 L492.60,237.80 L492.60,237.80 L492.10,237.81 L491.60,237.82 L491.10,237.83 L490.60,237.84 L490.10,237.85 L489.60,237.86 L489.10,237.87 L488.60,237.88 L488.10,237.89 L487.60,237.90 L487.10,237.91 L486.60,237.92 L486.10,237.93 L485.59,237.94 L485.09,237.94 L484.59,237.95 L484.09,237.96 L483.59,237.97 L483.09,237.98 L482.59,237.99 L482.09,238.00 L481.59,238.01 L481.09,238.02 L480.59,238.03 L480.09,238.04 L479.59,238.05 L479.09,238.06 L478.59,238.07 L478.09,238.08 L477.59,238.09 L477.09,238.10 L476.59,238.11 L476.09,238.12 L475.59,238.13 L475.09,238.13 L474.59,238.14 L474.09,238.15 L473.59,238.16 L473.09,238.17 L472.59,238.18 L472.09,238.19 L471.58,238.20 L471.08,238.21 L470.58,238.22 L470.08,238.23 L469.58,238.24 L469.08,238.25 L468.58,238.26 L468.08,238.27 L467.58,238.28 L467.08,238.29 L466.58,238.29 L466.08,238.30 L465.58,238.31 L465.08,238.32 L464.58,238.33 L464.08,238.34 L463.58,238.35 L463.08,238.36 L462.58,238.37 L462.08,238.37 L461.58,238.38 L461.08,238.39 L460.58,238.40 L460.08,238.41 L459.58,238.42 L459.08,238.42 L458.58,238.43 L458.08,238.44 L457.57,238.45 L457.07,238.46 L456.57,238.47 L456.07,238.48 L455.57,238.49 L455.07,238.49 L454.57,238.50 L454.07,238.51 L453.57,238.52 L453.07,238.53 L452.57,238.54 L452.07,238.55 L451.57,238.56 L451.07,238.58 L450.57,238.59 L450.07,238.60 L449.57,238.61 L449.07,238.62 L448.57,238.63 L448.07,238.65 L447.57,238.66 L447.07,238.67 L446.57,238.69 L446.07,238.70 L445.57,238.71 L445.07,238.73 L444.57,238.74 L444.06,238.76 L443.56,238.77 L443.06,238.79 L442.56,238.80 L442.06,238.82 L441.56,238.84 L441.06,238.85 L440.56,238.87 L440.06,238.89 L439.56,238.90 L439.06,238.92 L438.56,238.94 L438.06,238.96 L437.56,238.98 L437.06,239.00 L436.56,239.02 L436.06,239.04 L435.56,239.06 L435.06,239.08 L434.56,239.11 L434.06,239.13 L433.56,239.15 L433.06,239.18 L432.56,239.20 L432.06,239.22 L431.56,239.25 L431.06,239.27 L430.56,239.30 L430.05,239.33 L429.55,239.36 L429.05,239.38 L428.55,239.41 L428.05,239.44 L427.55,239.47 L427.05,239.51 L426.55,239.54 L426.05,239.57 L425.55,239.61 L425.05,239.64 L424.55,239.68 L424.05,239.72 L423.55,239.76 L423.05,239.80 L422.55,239.84 L422.05,239.88 L421.55,239.93 L421.05,239.98 L420.55,240.02 L420.05,240.07 L419.55,240.12 L419.05,240.17 L418.55,240.23 L418.05,240.28 L417.55,240.34 L417.05,240.41 L416.55,240.48 L416.04,240.56 L415.54,240.65 L415.04,240.74 L414.54,240.84 L414.04,240.95 L413.54,241.06 L413.04,241.17 L412.54,241.29 L412.04,241.42 L411.54,241.55 L411.04,241.68 L410.54,241.82 L410.04,241.96 L409.54,242.11 L409.04,242.25 L408.54,242.40 L408.04,242.56 L407.54,242.71 L407.04,242.87 L406.54,243.03 L406.04,243.19 L405.54,243.35 L405.04,243.51 L404.54,243.67 L404.04,243.83 L403.54,243.99 L403.04,244.15 L402.53,244.32 L402.03,244.50 L401.53,244.68 L401.03,244.87 L400.53,245.07 L400.03,245.28 L399.53,245.49 L399.03,245.70 L398.53,245.92 L398.03,246.15 L397.53,246.37 L397.03,246.60 L396.53,246.83 L396.03,247.06 L395.53,247.30 L395.03,247.53 L394.53,247.77 L394.03,248.00 L393.53,248.23 L393.03,248.46 L392.53,248.69 L392.03,248.91 L391.53,249.14 L391.03,249.35 L390.53,249.56 L390.03,249.77 L389.53,249.97 L389.03,250.17 L388.52,250.35 L388.02,250.54 L387.52,250.72 L387.02,250.90 L386.52,251.07 L386.02,251.25 L385.52,251.42 L385.02,251.60 L384.52,251.77 L384.02,251.94 L383.52,252.11 L383.02,252.28 L382.52,252.44 L382.02,252.61 L381.52,252.77 L381.02,252.93 L380.52,253.09 L380.02,253.25 L379.52,253.41 L379.02,253.56 L378.52,253.72 L378.02,253.87 L377.52,254.02 L377.02,254.17 L376.52,254.32 L376.02,254.47 L375.52,254.61 L375.02,254.76 L374.51,254.90 L374.01,255.04 L373.51,255.18 L373.01,255.32 L372.51,255.46 L372.01,255.59 L371.51,255.72 L371.01,255.86 L370.51,256.00 L370.01,256.14 L369.51,256.29 L369.01,256.44 L368.51,256.60 L368.01,256.75 L367.51,256.90 L367.01,257.06 L366.51,257.21 L366.01,257.36 L365.51,257.51 L365.01,257.66 L364.51,257.80 L364.01,257.94 L363.51,258.08 L363.01,258.21 L362.51,258.33 L362.01,258.45 L361.51,258.56 L361.00,258.66 L360.50,258.75 L360.00,258.83 L359.50,258.91 L359.00,258.97 L358.50,259.02 L358.00,259.06 L357.50,259.09 L357.00,259.10 L356.50,259.10 L356.00,259.10 L355.50,259.10 L355.00,259.10 L354.50,259.10 L354.00,259.10 L353.50,259.10 L353.00,259.10 L352.50,259.10 L352.00,259.10 L351.50,259.10 L351.00,259.10 L350.50,259.10 L350.00,259.10 L349.50,259.10 L349.00,259.10 L348.50,259.10 L348.00,259.10 L347.50,259.10 L346.99,259.10 L346.49,259.10 L345.99,259.10 L345.49,259.10 L344.99,259.10 L344.49,259.10 L343.99,259.10 L343.49,259.10 L342.99,259.10 L342.49,259.10 L341.99,259.10 L341.49,259.10 L340.99,259.10 L340.49,259.09 L339.99,259.09 L339.49,259.09 L338.99,259.08 L338.49,259.08 L337.99,259.07 L337.49,259.07 L336.99,259.06 L336.49,259.05 L335.99,259.05 L335.49,259.04 L334.99,259.03 L334.49,259.02 L333.99,259.01 L333.48,259.00 L332.98,258.99 L332.48,258.98 L331.98,258.97 L331.48,258.96 L330.98,258.95 L330.48,258.93 L329.98,258.92 L329.48,258.91 L328.98,258.89 L328.48,258.84 L327.98,258.78 L327.48,258.69 L326.98,258.58 L326.48,258.46 L325.98,258.32 L325.48,258.17 L324.98,258.00 L324.48,257.83 L323.98,257.65 L323.48,257.46 L322.98,257.27 L322.48,257.08 L321.98,256.88 L321.48,256.69 L320.98,256.51 L320.48,256.33 L319.98,256.15 L319.47,255.99 L318.97,255.83 L318.47,255.67 L317.97,255.50 L317.47,255.34 L316.97,255.17 L316.47,254.99 L315.97,254.82 L315.47,254.64 L314.97,254.46 L314.47,254.29 L313.97,254.11 L313.47,253.93 L312.97,253.74 L312.47,253.56 L311.97,253.38 L311.47,253.20 L310.97,253.02 L310.47,252.84 L309.97,252.66 L309.47,252.49 L308.97,252.31 L308.47,252.13 L307.97,251.96 L307.47,251.79 L306.97,251.62 L306.47,251.46 L305.97,251.29 L305.46,251.14 L304.96,250.98 L304.46,250.83 L303.96,250.68 L303.46,250.53 L302.96,250.39 L302.46,250.25 L301.96,250.11 L301.46,249.98 L300.96,249.85 L300.46,249.72 L299.96,249.59 L299.46,249.47 L298.96,249.35 L298.46,249.23 L297.96,249.11 L297.46,248.99 L296.96,248.87 L296.46,248.75 L295.96,248.64 L295.46,248.52 L294.96,248.41 L294.46,248.29 L293.96,248.18 L293.46,248.07 L292.96,247.95 L292.46,247.84 L291.95,247.72 L291.45,247.61 L290.95,247.49 L290.45,247.37 L289.95,247.25 L289.45,247.13 L288.95,247.01 L288.45,246.89 L287.95,246.77 L287.45,246.64 L286.95,246.51 L286.45,246.38 L285.95,246.25 L285.45,246.11 L284.95,245.97 L284.45,245.83 L283.95,245.69 L283.45,245.53 L282.95,245.37 L282.45,245.21 L281.95,245.03 L281.45,244.85 L280.95,244.66 L280.45,244.47 L279.95,244.28 L279.45,244.08 L278.95,243.88 L278.45,243.67 L277.94,243.47 L277.44,243.26 L276.94,243.06 L276.44,242.85 L275.94,242.65 L275.44,242.45 L274.94,242.25 L274.44,242.05 L273.94,241.86 L273.44,241.68 L272.94,241.50 L272.44,241.32 L271.94,241.15 L271.44,241.00 L270.94,240.84 L270.44,240.70 L269.94,240.57 L269.44,240.45 L268.94,240.34 L268.44,240.24 L267.94,240.16 L267.44,240.07 L266.94,239.99 L266.44,239.91 L265.94,239.83 L265.44,239.75 L264.94,239.67 L264.44,239.60 L263.93,239.53 L263.43,239.45 L262.93,239.39 L262.43,239.32 L261.93,239.26 L261.43,239.19 L260.93,239.13 L260.43,239.08 L259.93,239.02 L259.43,238.97 L258.93,238.92 L258.43,238.87 L257.93,238.83 L257.43,238.79 L256.93,238.75 L256.43,238.71 L255.93,238.68 L255.43,238.65 L254.93,238.63 L254.43,238.61 L253.93,238.59 L253.43,238.57 L252.93,238.55 L252.43,238.53 L251.93,238.51 L251.43,238.49 L250.93,238.47 L250.42,238.45 L249.92,238.44 L249.42,238.42 L248.92,238.40 L248.42,238.38 L247.92,238.37 L247.42,238.35 L246.92,238.33 L246.42,238.32 L245.92,238.30 L245.42,238.28 L244.92,238.27 L244.42,238.25 L243.92,238.24 L243.42,238.22 L242.92,238.21 L242.42,238.19 L241.92,238.18 L241.42,238.17 L240.92,238.15 L240.42,238.14 L239.92,238.12 L239.42,238.11 L238.92,238.10 L238.42,238.09 L237.92,238.07 L237.42,238.06 L236.92,238.05 L236.41,238.04 L235.91,238.03 L235.41,238.02 L234.91,238.01 L234.41,238.00 L233.91,237.99 L233.41,237.98 L232.91,237.97 L232.41,237.96 L231.91,237.95 L231.41,237.94 L230.91,237.93 L230.41,237.92 L229.91,237.91 L229.41,237.91 L228.91,237.90 L228.41,237.89 L227.91,237.88 L227.41,237.88 L226.91,237.87 L226.41,237.86 L225.91,237.86 L225.41,237.85 L224.91,237.85 L224.41,237.84 L223.91,237.84 L223.41,237.83 L222.91,237.83 L222.40,237.82 L221.90,237.82 L221.40,237.82 L220.90,237.81 L220.40,237.81 L219.90,237.81 L219.40,237.81 L218.90,237.81 L218.40,237.80 L217.90,237.80 L217.40,237.80 L216.90,237.80 L216.40,237.80 L215.90,237.80Z" fill="#fff" stroke="#00BA7C" stroke-width="1.35" stroke-linejoin="round"/>
<path d="M266.30,321.00 L266.80,321.00 L267.30,321.00 L267.80,320.99 L268.30,320.98 L268.80,320.97 L269.30,320.96 L269.80,320.95 L270.30,320.93 L270.80,320.91 L271.30,320.89 L271.80,320.87 L272.30,320.84 L272.80,320.82 L273.30,320.79 L273.81,320.76 L274.31,320.73 L274.81,320.70 L275.31,320.67 L275.81,320.63 L276.31,320.59 L276.81,320.56 L277.31,320.52 L277.81,320.47 L278.31,320.40 L278.81,320.32 L279.31,320.21 L279.81,320.08 L280.31,319.94 L280.81,319.78 L281.31,319.60 L281.81,319.40 L282.31,319.20 L282.81,318.98 L283.31,318.75 L283.81,318.50 L284.31,318.25 L284.81,317.99 L285.31,317.73 L285.81,317.45 L286.31,317.17 L286.81,316.89 L287.31,316.61 L287.81,316.31 L288.31,315.98 L288.82,315.62 L289.32,315.22 L289.82,314.80 L290.32,314.34 L290.82,313.86 L291.32,313.36 L291.82,312.83 L292.32,312.28 L292.82,311.72 L293.32,311.14 L293.82,310.55 L294.32,309.94 L294.82,309.33 L295.32,308.71 L295.82,308.09 L296.32,307.47 L296.82,306.84 L297.32,306.22 L297.82,305.60 L298.32,304.98 L298.82,304.38 L299.32,303.78 L299.82,303.20 L300.32,302.63 L300.82,302.02 L301.32,301.40 L301.82,300.75 L302.32,300.08 L302.82,299.39 L303.32,298.70 L303.83,297.99 L304.33,297.28 L304.83,296.57 L305.33,295.86 L305.83,295.16 L306.33,294.46 L306.83,293.78 L307.33,293.12 L307.83,292.47 L308.33,291.85 L308.83,291.25 L309.33,290.68 L309.83,290.15 L310.33,289.65 L310.83,289.19 L311.33,288.78 L311.83,288.41 L312.33,288.09 L312.83,287.82 L313.33,287.55 L313.83,287.28 L314.33,287.02 L314.83,286.76 L315.33,286.51 L315.83,286.26 L316.33,286.02 L316.83,285.79 L317.33,285.57 L317.83,285.36 L318.33,285.16 L318.84,284.98 L319.34,284.80 L319.84,284.64 L320.34,284.50 L320.84,284.37 L321.34,284.26 L321.84,284.17 L322.34,284.09 L322.84,284.04 L323.34,284.01 L323.84,284.00 L324.34,284.03 L324.84,284.10 L325.34,284.21 L325.84,284.37 L326.34,284.55 L326.84,284.77 L327.34,285.01 L327.84,285.28 L328.34,285.56 L328.84,285.86 L329.34,286.18 L329.84,286.50 L330.34,286.82 L330.84,287.15 L331.34,287.48 L331.84,287.80 L332.34,288.11 L332.84,288.41 L333.34,288.73 L333.85,289.06 L334.35,289.41 L334.85,289.77 L335.35,290.15 L335.85,290.53 L336.35,290.92 L336.85,291.33 L337.35,291.74 L337.85,292.16 L338.35,292.58 L338.85,293.01 L339.35,293.44 L339.85,293.87 L340.35,294.31 L340.85,294.77 L341.35,295.26 L341.85,295.76 L342.35,296.28 L342.85,296.82 L343.35,297.36 L343.85,297.91 L344.35,298.46 L344.85,299.01 L345.35,299.56 L345.85,300.11 L346.35,300.64 L346.85,301.17 L347.35,301.68 L347.85,302.17 L348.36,302.64 L348.86,303.09 L349.36,303.50 L349.86,303.89 L350.36,304.26 L350.86,304.61 L351.36,304.95 L351.86,305.29 L352.36,305.62 L352.86,305.94 L353.36,306.25 L353.86,306.55 L354.36,306.85 L354.86,307.14 L355.36,307.42 L355.86,307.69 L356.36,307.96 L356.86,308.22 L357.36,308.47 L357.86,308.72 L358.36,308.96 L358.86,309.19 L359.36,309.42 L359.86,309.64 L360.36,309.86 L360.86,310.07 L361.36,310.27 L361.86,310.48 L362.36,310.67 L362.86,310.87 L363.37,311.06 L363.87,311.24 L364.37,311.43 L364.87,311.61 L365.37,311.78 L365.87,311.95 L366.37,312.12 L366.87,312.29 L367.37,312.45 L367.87,312.62 L368.37,312.77 L368.87,312.93 L369.37,313.08 L369.87,313.23 L370.37,313.38 L370.87,313.53 L371.37,313.68 L371.87,313.82 L372.37,313.96 L372.87,314.11 L373.37,314.26 L373.87,314.41 L374.37,314.56 L374.87,314.72 L375.37,314.88 L375.87,315.05 L376.37,315.21 L376.87,315.37 L377.37,315.53 L377.87,315.68 L378.38,315.83 L378.88,315.98 L379.38,316.12 L379.88,316.25 L380.38,316.38 L380.88,316.49 L381.38,316.60 L381.88,316.70 L382.38,316.78 L382.88,316.85 L383.38,316.91 L383.88,316.96 L384.38,316.99 L384.88,317.00 L385.38,316.99 L385.88,316.97 L386.38,316.93 L386.88,316.87 L387.38,316.80 L387.88,316.72 L388.38,316.63 L388.88,316.53 L389.38,316.42 L389.88,316.31 L390.38,316.19 L390.88,316.07 L391.38,315.95 L391.88,315.83 L392.38,315.71 L392.88,315.60 L393.39,315.49 L393.89,315.39 L394.39,315.30 L394.89,315.22 L395.39,315.14 L395.89,315.07 L396.39,314.99 L396.89,314.91 L397.39,314.83 L397.89,314.75 L398.39,314.67 L398.89,314.59 L399.39,314.51 L399.89,314.44 L400.39,314.37 L400.89,314.30 L401.39,314.24 L401.89,314.18 L402.39,314.13 L402.89,314.09 L403.39,314.05 L403.89,314.03 L404.39,314.01 L404.89,314.00 L405.39,314.01 L405.89,314.04 L406.39,314.09 L406.89,314.16 L407.39,314.25 L407.89,314.35 L408.40,314.47 L408.90,314.60 L409.40,314.74 L409.90,314.89 L410.40,315.05 L410.90,315.21 L411.40,315.37 L411.90,315.54 L412.40,315.70 L412.90,315.87 L413.40,316.03 L413.90,316.19 L414.40,316.33 L414.90,316.47 L415.40,316.61 L415.90,316.75 L416.40,316.90 L416.90,317.06 L417.40,317.22 L417.90,317.39 L418.40,317.56 L418.90,317.74 L419.40,317.91 L419.90,318.09 L420.40,318.26 L420.90,318.44 L421.40,318.60 L421.90,318.77 L422.40,318.93 L422.91,319.08 L423.41,319.23 L423.91,319.36 L424.41,319.49 L424.91,319.61 L425.41,319.71 L425.91,319.81 L426.41,319.88 L426.91,319.95 L427.41,319.99 L427.91,320.03 L428.41,320.06 L428.91,320.09 L429.41,320.13 L429.91,320.16 L430.41,320.18 L430.91,320.21 L431.41,320.24 L431.91,320.27 L432.41,320.29 L432.91,320.31 L433.41,320.33 L433.91,320.36 L434.41,320.37 L434.91,320.39 L435.41,320.41 L435.91,320.42 L436.41,320.44 L436.91,320.45 L437.41,320.46 L437.92,320.47 L438.42,320.48 L438.92,320.49 L439.42,320.49 L439.92,320.50 L440.42,320.50 L440.92,320.51 L441.42,320.51 L441.92,320.51 L442.42,320.52 L442.92,320.52 L443.42,320.52 L443.92,320.53 L444.42,320.53 L444.92,320.53 L445.42,320.53 L445.92,320.54 L446.42,320.54 L446.92,320.54 L447.42,320.54 L447.92,320.55 L448.42,320.55 L448.92,320.55 L449.42,320.55 L449.92,320.56 L450.42,320.56 L450.92,320.56 L451.42,320.56 L451.92,320.56 L452.42,320.57 L452.93,320.57 L453.43,320.57 L453.93,320.57 L454.43,320.57 L454.93,320.58 L455.43,320.58 L455.93,320.58 L456.43,320.58 L456.93,320.58 L457.43,320.58 L457.93,320.58 L458.43,320.59 L458.93,320.59 L459.43,320.59 L459.93,320.59 L460.43,320.59 L460.93,320.59 L461.43,320.59 L461.93,320.59 L462.43,320.59 L462.93,320.59 L463.43,320.60 L463.93,320.60 L464.43,320.60 L464.93,320.60 L465.43,320.60 L465.93,320.60 L466.43,320.60 L466.93,320.60 L467.43,320.60 L467.94,320.60 L468.44,320.60 L468.94,320.60 L469.44,320.60 L469.94,320.60 L470.44,320.60 L470.94,320.60 L471.44,320.60 L471.94,320.59 L472.44,320.59 L472.94,320.59 L473.44,320.58 L473.94,320.58 L474.44,320.57 L474.94,320.56 L475.44,320.56 L475.94,320.55 L476.44,320.54 L476.94,320.54 L477.44,320.53 L477.94,320.52 L478.44,320.51 L478.94,320.50 L479.44,320.49 L479.94,320.48 L480.44,320.48 L480.94,320.47 L481.44,320.46 L481.94,320.45 L482.44,320.44 L482.95,320.43 L483.45,320.42 L483.95,320.42 L484.45,320.41 L484.95,320.40 L485.45,320.39 L485.95,320.39 L486.45,320.38 L486.95,320.37 L487.45,320.36 L487.95,320.35 L488.45,320.34 L488.95,320.33 L489.45,320.32 L489.95,320.31 L490.45,320.30 L490.95,320.29 L491.45,320.28 L491.95,320.27 L492.45,320.26 L492.95,320.25 L493.45,320.24 L493.95,320.23 L494.45,320.22 L494.95,320.22 L495.45,320.21 L495.95,320.20 L496.45,320.19 L496.95,320.18 L497.46,320.18 L497.96,320.17 L498.46,320.17 L498.96,320.16 L499.46,320.16 L499.96,320.15 L500.46,320.15 L500.96,320.15 L501.46,320.15 L501.96,320.15 L502.46,320.15 L502.96,320.15 L503.46,320.15 L503.96,320.16 L504.46,320.16 L504.96,320.16 L505.46,320.17 L505.96,320.17 L506.46,320.18 L506.96,320.18 L507.46,320.19 L507.96,320.19 L508.46,320.20 L508.96,320.20 L509.46,320.21 L509.96,320.22 L510.46,320.23 L510.96,320.23 L511.46,320.24 L511.96,320.25 L512.47,320.26 L512.97,320.26 L513.47,320.27 L513.97,320.28 L514.47,320.29 L514.97,320.30 L515.47,320.30 L515.97,320.31 L516.47,320.32 L516.97,320.33 L517.47,320.34 L517.97,320.34 L518.47,320.35 L518.97,320.36 L519.47,320.37 L519.97,320.37 L520.47,320.38 L520.97,320.39 L521.47,320.39 L521.97,320.40 L522.47,320.41 L522.97,320.41 L523.47,320.42 L523.97,320.42 L524.47,320.43 L524.97,320.44 L525.47,320.45 L525.97,320.45 L526.47,320.46 L526.97,320.47 L527.48,320.48 L527.98,320.48 L528.48,320.49 L528.98,320.50 L529.48,320.50 L529.98,320.51 L530.48,320.52 L530.98,320.53 L531.48,320.53 L531.98,320.54 L532.48,320.55 L532.98,320.55 L533.48,320.56 L533.98,320.56 L534.48,320.57 L534.98,320.57 L535.48,320.58 L535.98,320.58 L536.48,320.59 L536.98,320.59 L537.48,320.59 L537.98,320.60 L538.48,320.60 L538.98,320.60 L539.48,320.60 L539.98,320.60 L540.48,320.60 L540.98,320.60 L541.48,320.60 L541.98,320.60 L542.49,320.60 L542.99,320.60 L543.49,320.60 L543.99,320.60 L544.49,320.60 L544.99,320.60 L545.49,320.60 L545.99,320.60 L546.49,320.60 L546.99,320.60 L547.49,320.60 L547.99,320.60 L548.49,320.60 L548.99,320.60 L549.49,320.60 L549.99,320.60 L550.49,320.60 L550.99,320.60 L551.49,320.60 L551.99,320.60 L552.49,320.60 L552.99,320.60 L553.49,320.60 L553.99,320.60 L554.49,320.60 L554.99,320.60 L555.49,320.60 L555.99,320.60 L556.49,320.60 L556.99,320.60 L557.50,320.60 L558.00,320.60 L558.50,320.60 L559.00,320.60 L559.50,320.60 L560.00,320.60 L560.50,320.60 L561.00,320.60 L561.50,320.60 L562.00,320.60 L562.50,320.60 L563.00,320.60 L563.50,320.60 L564.00,320.60 L564.50,320.60 L565.00,320.60 L565.50,320.60 L566.00,320.60 L566.50,320.60 L567.00,320.59 L567.50,320.59 L568.00,320.58 L568.50,320.58 L569.00,320.57 L569.50,320.57 L570.00,320.56 L570.50,320.55 L571.00,320.54 L571.50,320.54 L572.01,320.53 L572.51,320.52 L573.01,320.51 L573.51,320.50 L574.01,320.49 L574.51,320.48 L575.01,320.47 L575.51,320.46 L576.01,320.45 L576.51,320.44 L577.01,320.43 L577.51,320.42 L578.01,320.42 L578.51,320.41 L579.01,320.40 L579.51,320.39 L580.01,320.38 L580.51,320.37 L581.01,320.36 L581.51,320.35 L582.01,320.34 L582.51,320.33 L583.01,320.32 L583.51,320.31 L584.01,320.30 L584.51,320.29 L585.01,320.28 L585.51,320.27 L586.01,320.26 L586.51,320.25 L587.02,320.24 L587.52,320.23 L588.02,320.22 L588.52,320.22 L589.02,320.21 L589.52,320.21 L590.02,320.20 L590.52,320.20 L591.02,320.20 L591.52,320.20 L592.02,320.20 L592.52,320.21 L593.02,320.21 L593.52,320.22 L594.02,320.22 L594.52,320.23 L595.02,320.24 L595.52,320.25 L596.02,320.25 L596.52,320.26 L597.02,320.27 L597.52,320.28 L598.02,320.29 L598.52,320.31 L599.02,320.32 L599.52,320.33 L600.02,320.34 L600.52,320.35 L601.02,320.36 L601.52,320.37 L602.03,320.38 L602.53,320.39 L603.03,320.39 L603.53,320.40 L604.03,320.41 L604.53,320.41 L605.03,320.42 L605.53,320.43 L606.03,320.44 L606.53,320.45 L607.03,320.45 L607.53,320.46 L608.03,320.47 L608.53,320.48 L609.03,320.49 L609.53,320.49 L610.03,320.50 L610.53,320.51 L611.03,320.52 L611.53,320.53 L612.03,320.53 L612.53,320.54 L613.03,320.55 L613.53,320.55 L614.03,320.56 L614.53,320.57 L615.03,320.57 L615.53,320.58 L616.03,320.58 L616.53,320.59 L617.04,320.59 L617.54,320.59 L618.04,320.60 L618.54,320.60 L619.04,320.60 L619.54,320.60 L620.04,320.60 L620.54,320.60 L621.04,320.60 L621.54,320.60 L622.04,320.60 L622.54,320.60 L623.04,320.60 L623.54,320.60 L624.04,320.60 L624.54,320.60 L625.04,320.60 L625.54,320.60 L626.04,320.60 L626.54,320.60 L627.04,320.60 L627.54,320.60 L628.04,320.60 L628.54,320.60 L629.04,320.60 L629.54,320.60 L630.04,320.60 L630.54,320.60 L631.04,320.60 L631.54,320.60 L632.05,320.60 L632.55,320.60 L633.05,320.60 L633.55,320.60 L634.05,320.60 L634.55,320.60 L635.05,320.60 L635.55,320.60 L636.05,320.60 L636.55,320.60 L637.05,320.60 L637.55,320.60 L638.05,320.60 L638.55,320.60 L639.05,320.60 L639.55,320.60 L640.05,320.60 L640.55,320.60 L641.05,320.60 L641.55,320.60 L642.05,320.60 L642.55,320.60 L643.05,320.60 L643.55,320.60 L644.05,320.60 L644.55,320.60 L645.05,320.60 L645.55,320.60 L646.05,320.60 L646.56,320.60 L647.06,320.60 L647.56,320.60 L648.06,320.60 L648.56,320.60 L649.06,320.60 L649.56,320.60 L650.06,320.60 L650.56,320.60 L651.06,320.60 L651.56,320.60 L652.06,320.60 L652.56,320.60 L653.06,320.60 L653.56,320.60 L654.06,320.60 L654.56,320.60 L655.06,320.60 L655.56,320.60 L656.06,320.60 L656.56,320.60 L657.06,320.60 L657.56,320.60 L658.06,320.60 L658.56,320.60 L659.06,320.60 L659.56,320.60 L660.06,320.60 L660.56,320.60 L661.06,320.60 L661.57,320.59 L662.07,320.59 L662.57,320.59 L663.07,320.58 L663.57,320.58 L664.07,320.57 L664.57,320.56 L665.07,320.55 L665.57,320.55 L666.07,320.54 L666.57,320.53 L667.07,320.52 L667.57,320.51 L668.07,320.50 L668.57,320.49 L669.07,320.48 L669.57,320.47 L670.07,320.46 L670.57,320.45 L671.07,320.44 L671.57,320.43 L672.07,320.42 L672.57,320.41 L673.07,320.40 L673.57,320.39 L674.07,320.38 L674.57,320.37 L675.07,320.36 L675.57,320.34 L676.07,320.33 L676.58,320.32 L677.08,320.30 L677.58,320.29 L678.08,320.27 L678.58,320.26 L679.08,320.25 L679.58,320.23 L680.08,320.22 L680.58,320.21 L681.08,320.20 L681.58,320.19 L682.08,320.18 L682.58,320.17 L683.08,320.16 L683.58,320.16 L684.08,320.15 L684.58,320.15 L685.08,320.15 L685.58,320.15 L686.08,320.15 L686.58,320.15 L687.08,320.16 L687.58,320.16 L688.08,320.16 L688.58,320.17 L689.08,320.17 L689.58,320.18 L690.08,320.18 L690.58,320.19 L691.08,320.20 L691.59,320.20 L692.09,320.21 L692.59,320.22 L693.09,320.23 L693.59,320.24 L694.09,320.25 L694.59,320.26 L695.09,320.27 L695.59,320.28 L696.09,320.29 L696.59,320.30 L697.09,320.31 L697.59,320.32 L698.09,320.33 L698.59,320.34 L699.09,320.35 L699.59,320.37 L700.09,320.38 L700.59,320.39 L701.09,320.40 L701.59,320.42 L702.09,320.43 L702.59,320.44 L703.09,320.46 L703.59,320.48 L704.09,320.50 L704.59,320.52 L705.09,320.54 L705.59,320.56 L706.09,320.58 L706.60,320.61 L707.10,320.63 L707.60,320.66 L708.10,320.68 L708.60,320.71 L709.10,320.73 L709.60,320.76 L710.10,320.79 L710.60,320.82 L711.10,320.85 L711.60,320.88 L712.10,320.91 L712.60,320.94 L713.10,320.97 L713.60,321.00 L713.60,321.00 L713.10,321.03 L712.60,321.06 L712.10,321.09 L711.60,321.12 L711.10,321.15 L710.60,321.18 L710.10,321.21 L709.60,321.24 L709.10,321.27 L708.60,321.29 L708.10,321.32 L707.60,321.34 L707.10,321.37 L706.60,321.39 L706.09,321.42 L705.59,321.44 L705.09,321.46 L704.59,321.48 L704.09,321.50 L703.59,321.52 L703.09,321.54 L702.59,321.56 L702.09,321.57 L701.59,321.58 L701.09,321.60 L700.59,321.61 L700.09,321.62 L699.59,321.63 L699.09,321.65 L698.59,321.66 L698.09,321.67 L697.59,321.68 L697.09,321.69 L696.59,321.70 L696.09,321.71 L695.59,321.72 L695.09,321.73 L694.59,321.74 L694.09,321.75 L693.59,321.76 L693.09,321.77 L692.59,321.78 L692.09,321.79 L691.59,321.80 L691.08,321.80 L690.58,321.81 L690.08,321.82 L689.58,321.82 L689.08,321.83 L688.58,321.83 L688.08,321.84 L687.58,321.84 L687.08,321.84 L686.58,321.85 L686.08,321.85 L685.58,321.85 L685.08,321.85 L684.58,321.85 L684.08,321.85 L683.58,321.84 L683.08,321.84 L682.58,321.83 L682.08,321.82 L681.58,321.81 L681.08,321.80 L680.58,321.79 L680.08,321.78 L679.58,321.77 L679.08,321.75 L678.58,321.74 L678.08,321.73 L677.58,321.71 L677.08,321.70 L676.58,321.68 L676.07,321.67 L675.57,321.66 L675.07,321.64 L674.57,321.63 L674.07,321.62 L673.57,321.61 L673.07,321.60 L672.57,321.59 L672.07,321.58 L671.57,321.57 L671.07,321.56 L670.57,321.55 L670.07,321.54 L669.57,321.53 L669.07,321.52 L668.57,321.51 L668.07,321.50 L667.57,321.49 L667.07,321.48 L666.57,321.47 L666.07,321.46 L665.57,321.45 L665.07,321.45 L664.57,321.44 L664.07,321.43 L663.57,321.42 L663.07,321.42 L662.57,321.41 L662.07,321.41 L661.57,321.41 L661.06,321.40 L660.56,321.40 L660.06,321.40 L659.56,321.40 L659.06,321.40 L658.56,321.40 L658.06,321.40 L657.56,321.40 L657.06,321.40 L656.56,321.40 L656.06,321.40 L655.56,321.40 L655.06,321.40 L654.56,321.40 L654.06,321.40 L653.56,321.40 L653.06,321.40 L652.56,321.40 L652.06,321.40 L651.56,321.40 L651.06,321.40 L650.56,321.40 L650.06,321.40 L649.56,321.40 L649.06,321.40 L648.56,321.40 L648.06,321.40 L647.56,321.40 L647.06,321.40 L646.56,321.40 L646.05,321.40 L645.55,321.40 L645.05,321.40 L644.55,321.40 L644.05,321.40 L643.55,321.40 L643.05,321.40 L642.55,321.40 L642.05,321.40 L641.55,321.40 L641.05,321.40 L640.55,321.40 L640.05,321.40 L639.55,321.40 L639.05,321.40 L638.55,321.40 L638.05,321.40 L637.55,321.40 L637.05,321.40 L636.55,321.40 L636.05,321.40 L635.55,321.40 L635.05,321.40 L634.55,321.40 L634.05,321.40 L633.55,321.40 L633.05,321.40 L632.55,321.40 L632.05,321.40 L631.54,321.40 L631.04,321.40 L630.54,321.40 L630.04,321.40 L629.54,321.40 L629.04,321.40 L628.54,321.40 L628.04,321.40 L627.54,321.40 L627.04,321.40 L626.54,321.40 L626.04,321.40 L625.54,321.40 L625.04,321.40 L624.54,321.40 L624.04,321.40 L623.54,321.40 L623.04,321.40 L622.54,321.40 L622.04,321.40 L621.54,321.40 L621.04,321.40 L620.54,321.40 L620.04,321.40 L619.54,321.40 L619.04,321.40 L618.54,321.40 L618.04,321.40 L617.54,321.41 L617.04,321.41 L616.53,321.41 L616.03,321.42 L615.53,321.42 L615.03,321.43 L614.53,321.43 L614.03,321.44 L613.53,321.45 L613.03,321.45 L612.53,321.46 L612.03,321.47 L611.53,321.47 L611.03,321.48 L610.53,321.49 L610.03,321.50 L609.53,321.51 L609.03,321.51 L608.53,321.52 L608.03,321.53 L607.53,321.54 L607.03,321.55 L606.53,321.55 L606.03,321.56 L605.53,321.57 L605.03,321.58 L604.53,321.59 L604.03,321.59 L603.53,321.60 L603.03,321.61 L602.53,321.61 L602.03,321.62 L601.52,321.63 L601.02,321.64 L600.52,321.65 L600.02,321.66 L599.52,321.67 L599.02,321.68 L598.52,321.69 L598.02,321.71 L597.52,321.72 L597.02,321.73 L596.52,321.74 L596.02,321.75 L595.52,321.75 L595.02,321.76 L594.52,321.77 L594.02,321.78 L593.52,321.78 L593.02,321.79 L592.52,321.79 L592.02,321.80 L591.52,321.80 L591.02,321.80 L590.52,321.80 L590.02,321.80 L589.52,321.79 L589.02,321.79 L588.52,321.78 L588.02,321.78 L587.52,321.77 L587.02,321.76 L586.51,321.75 L586.01,321.74 L585.51,321.73 L585.01,321.72 L584.51,321.71 L584.01,321.70 L583.51,321.69 L583.01,321.68 L582.51,321.67 L582.01,321.66 L581.51,321.65 L581.01,321.64 L580.51,321.63 L580.01,321.62 L579.51,321.61 L579.01,321.60 L578.51,321.59 L578.01,321.58 L577.51,321.58 L577.01,321.57 L576.51,321.56 L576.01,321.55 L575.51,321.54 L575.01,321.53 L574.51,321.52 L574.01,321.51 L573.51,321.50 L573.01,321.49 L572.51,321.48 L572.01,321.47 L571.50,321.46 L571.00,321.46 L570.50,321.45 L570.00,321.44 L569.50,321.43 L569.00,321.43 L568.50,321.42 L568.00,321.42 L567.50,321.41 L567.00,321.41 L566.50,321.40 L566.00,321.40 L565.50,321.40 L565.00,321.40 L564.50,321.40 L564.00,321.40 L563.50,321.40 L563.00,321.40 L562.50,321.40 L562.00,321.40 L561.50,321.40 L561.00,321.40 L560.50,321.40 L560.00,321.40 L559.50,321.40 L559.00,321.40 L558.50,321.40 L558.00,321.40 L557.50,321.40 L556.99,321.40 L556.49,321.40 L555.99,321.40 L555.49,321.40 L554.99,321.40 L554.49,321.40 L553.99,321.40 L553.49,321.40 L552.99,321.40 L552.49,321.40 L551.99,321.40 L551.49,321.40 L550.99,321.40 L550.49,321.40 L549.99,321.40 L549.49,321.40 L548.99,321.40 L548.49,321.40 L547.99,321.40 L547.49,321.40 L546.99,321.40 L546.49,321.40 L545.99,321.40 L545.49,321.40 L544.99,321.40 L544.49,321.40 L543.99,321.40 L543.49,321.40 L542.99,321.40 L542.49,321.40 L541.98,321.40 L541.48,321.40 L540.98,321.40 L540.48,321.40 L539.98,321.40 L539.48,321.40 L538.98,321.40 L538.48,321.40 L537.98,321.40 L537.48,321.41 L536.98,321.41 L536.48,321.41 L535.98,321.42 L535.48,321.42 L534.98,321.43 L534.48,321.43 L533.98,321.44 L533.48,321.44 L532.98,321.45 L532.48,321.45 L531.98,321.46 L531.48,321.47 L530.98,321.47 L530.48,321.48 L529.98,321.49 L529.48,321.50 L528.98,321.50 L528.48,321.51 L527.98,321.52 L527.48,321.52 L526.97,321.53 L526.47,321.54 L525.97,321.55 L525.47,321.55 L524.97,321.56 L524.47,321.57 L523.97,321.58 L523.47,321.58 L522.97,321.59 L522.47,321.59 L521.97,321.60 L521.47,321.61 L520.97,321.61 L520.47,321.62 L519.97,321.63 L519.47,321.63 L518.97,321.64 L518.47,321.65 L517.97,321.66 L517.47,321.66 L516.97,321.67 L516.47,321.68 L515.97,321.69 L515.47,321.70 L514.97,321.70 L514.47,321.71 L513.97,321.72 L513.47,321.73 L512.97,321.74 L512.47,321.74 L511.96,321.75 L511.46,321.76 L510.96,321.77 L510.46,321.77 L509.96,321.78 L509.46,321.79 L508.96,321.80 L508.46,321.80 L507.96,321.81 L507.46,321.81 L506.96,321.82 L506.46,321.82 L505.96,321.83 L505.46,321.83 L504.96,321.84 L504.46,321.84 L503.96,321.84 L503.46,321.85 L502.96,321.85 L502.46,321.85 L501.96,321.85 L501.46,321.85 L500.96,321.85 L500.46,321.85 L499.96,321.85 L499.46,321.84 L498.96,321.84 L498.46,321.83 L497.96,321.83 L497.46,321.82 L496.95,321.82 L496.45,321.81 L495.95,321.80 L495.45,321.79 L494.95,321.78 L494.45,321.78 L493.95,321.77 L493.45,321.76 L492.95,321.75 L492.45,321.74 L491.95,321.73 L491.45,321.72 L490.95,321.71 L490.45,321.70 L489.95,321.69 L489.45,321.68 L488.95,321.67 L488.45,321.66 L487.95,321.65 L487.45,321.64 L486.95,321.63 L486.45,321.62 L485.95,321.61 L485.45,321.61 L484.95,321.60 L484.45,321.59 L483.95,321.58 L483.45,321.58 L482.95,321.57 L482.44,321.56 L481.94,321.55 L481.44,321.54 L480.94,321.53 L480.44,321.52 L479.94,321.52 L479.44,321.51 L478.94,321.50 L478.44,321.49 L477.94,321.48 L477.44,321.47 L476.94,321.46 L476.44,321.46 L475.94,321.45 L475.44,321.44 L474.94,321.44 L474.44,321.43 L473.94,321.42 L473.44,321.42 L472.94,321.41 L472.44,321.41 L471.94,321.41 L471.44,321.40 L470.94,321.40 L470.44,321.40 L469.94,321.40 L469.44,321.40 L468.94,321.40 L468.44,321.40 L467.94,321.40 L467.43,321.40 L466.93,321.40 L466.43,321.40 L465.93,321.40 L465.43,321.40 L464.93,321.40 L464.43,321.40 L463.93,321.40 L463.43,321.40 L462.93,321.41 L462.43,321.41 L461.93,321.41 L461.43,321.41 L460.93,321.41 L460.43,321.41 L459.93,321.41 L459.43,321.41 L458.93,321.41 L458.43,321.41 L457.93,321.42 L457.43,321.42 L456.93,321.42 L456.43,321.42 L455.93,321.42 L455.43,321.42 L454.93,321.42 L454.43,321.43 L453.93,321.43 L453.43,321.43 L452.93,321.43 L452.42,321.43 L451.92,321.44 L451.42,321.44 L450.92,321.44 L450.42,321.44 L449.92,321.44 L449.42,321.45 L448.92,321.45 L448.42,321.45 L447.92,321.45 L447.42,321.46 L446.92,321.46 L446.42,321.46 L445.92,321.46 L445.42,321.47 L444.92,321.47 L444.42,321.47 L443.92,321.47 L443.42,321.48 L442.92,321.48 L442.42,321.48 L441.92,321.49 L441.42,321.49 L440.92,321.49 L440.42,321.50 L439.92,321.50 L439.42,321.51 L438.92,321.51 L438.42,321.52 L437.92,321.53 L437.41,321.54 L436.91,321.55 L436.41,321.56 L435.91,321.58 L435.41,321.59 L434.91,321.61 L434.41,321.63 L433.91,321.64 L433.41,321.67 L432.91,321.69 L432.41,321.71 L431.91,321.73 L431.41,321.76 L430.91,321.79 L430.41,321.82 L429.91,321.84 L429.41,321.87 L428.91,321.91 L428.41,321.94 L427.91,321.97 L427.41,322.01 L426.91,322.05 L426.41,322.12 L425.91,322.19 L425.41,322.29 L424.91,322.39 L424.41,322.51 L423.91,322.64 L423.41,322.77 L422.91,322.92 L422.40,323.07 L421.90,323.23 L421.40,323.40 L420.90,323.56 L420.40,323.74 L419.90,323.91 L419.40,324.09 L418.90,324.26 L418.40,324.44 L417.90,324.61 L417.40,324.78 L416.90,324.94 L416.40,325.10 L415.90,325.25 L415.40,325.39 L414.90,325.53 L414.40,325.67 L413.90,325.81 L413.40,325.97 L412.90,326.13 L412.40,326.30 L411.90,326.46 L411.40,326.63 L410.90,326.79 L410.40,326.95 L409.90,327.11 L409.40,327.26 L408.90,327.40 L408.40,327.53 L407.89,327.65 L407.39,327.75 L406.89,327.84 L406.39,327.91 L405.89,327.96 L405.39,327.99 L404.89,328.00 L404.39,327.99 L403.89,327.97 L403.39,327.95 L402.89,327.91 L402.39,327.87 L401.89,327.82 L401.39,327.76 L400.89,327.70 L400.39,327.63 L399.89,327.56 L399.39,327.49 L398.89,327.41 L398.39,327.33 L397.89,327.25 L397.39,327.17 L396.89,327.09 L396.39,327.01 L395.89,326.93 L395.39,326.86 L394.89,326.78 L394.39,326.70 L393.89,326.61 L393.39,326.51 L392.88,326.40 L392.38,326.29 L391.88,326.17 L391.38,326.05 L390.88,325.93 L390.38,325.81 L389.88,325.69 L389.38,325.58 L388.88,325.47 L388.38,325.37 L387.88,325.28 L387.38,325.20 L386.88,325.13 L386.38,325.07 L385.88,325.03 L385.38,325.01 L384.88,325.00 L384.38,325.01 L383.88,325.04 L383.38,325.09 L382.88,325.15 L382.38,325.22 L381.88,325.30 L381.38,325.40 L380.88,325.51 L380.38,325.62 L379.88,325.75 L379.38,325.88 L378.88,326.02 L378.38,326.17 L377.87,326.32 L377.37,326.47 L376.87,326.63 L376.37,326.79 L375.87,326.95 L375.37,327.12 L374.87,327.28 L374.37,327.44 L373.87,327.59 L373.37,327.74 L372.87,327.89 L372.37,328.04 L371.87,328.18 L371.37,328.32 L370.87,328.47 L370.37,328.62 L369.87,328.77 L369.37,328.92 L368.87,329.07 L368.37,329.23 L367.87,329.38 L367.37,329.55 L366.87,329.71 L366.37,329.88 L365.87,330.05 L365.37,330.22 L364.87,330.39 L364.37,330.57 L363.87,330.76 L363.37,330.94 L362.86,331.13 L362.36,331.33 L361.86,331.52 L361.36,331.73 L360.86,331.93 L360.36,332.14 L359.86,332.36 L359.36,332.58 L358.86,332.81 L358.36,333.04 L357.86,333.28 L357.36,333.53 L356.86,333.78 L356.36,334.04 L355.86,334.31 L355.36,334.58 L354.86,334.86 L354.36,335.15 L353.86,335.45 L353.36,335.75 L352.86,336.06 L352.36,336.38 L351.86,336.71 L351.36,337.05 L350.86,337.39 L350.36,337.74 L349.86,338.11 L349.36,338.50 L348.86,338.91 L348.36,339.36 L347.85,339.83 L347.35,340.32 L346.85,340.83 L346.35,341.36 L345.85,341.89 L345.35,342.44 L344.85,342.99 L344.35,343.54 L343.85,344.09 L343.35,344.64 L342.85,345.18 L342.35,345.72 L341.85,346.24 L341.35,346.74 L340.85,347.23 L340.35,347.69 L339.85,348.13 L339.35,348.56 L338.85,348.99 L338.35,349.42 L337.85,349.84 L337.35,350.26 L336.85,350.67 L336.35,351.08 L335.85,351.47 L335.35,351.85 L334.85,352.23 L334.35,352.59 L333.85,352.94 L333.34,353.27 L332.84,353.59 L332.34,353.89 L331.84,354.20 L331.34,354.52 L330.84,354.85 L330.34,355.18 L329.84,355.50 L329.34,355.82 L328.84,356.14 L328.34,356.44 L327.84,356.72 L327.34,356.99 L326.84,357.23 L326.34,357.45 L325.84,357.63 L325.34,357.79 L324.84,357.90 L324.34,357.97 L323.84,358.00 L323.34,357.99 L322.84,357.96 L322.34,357.91 L321.84,357.83 L321.34,357.74 L320.84,357.63 L320.34,357.50 L319.84,357.36 L319.34,357.20 L318.84,357.02 L318.33,356.84 L317.83,356.64 L317.33,356.43 L316.83,356.21 L316.33,355.98 L315.83,355.74 L315.33,355.49 L314.83,355.24 L314.33,354.98 L313.83,354.72 L313.33,354.45 L312.83,354.18 L312.33,353.91 L311.83,353.59 L311.33,353.22 L310.83,352.81 L310.33,352.35 L309.83,351.85 L309.33,351.32 L308.83,350.75 L308.33,350.15 L307.83,349.53 L307.33,348.88 L306.83,348.22 L306.33,347.54 L305.83,346.84 L305.33,346.14 L304.83,345.43 L304.33,344.72 L303.83,344.01 L303.32,343.30 L302.82,342.61 L302.32,341.92 L301.82,341.25 L301.32,340.60 L300.82,339.98 L300.32,339.37 L299.82,338.80 L299.32,338.22 L298.82,337.62 L298.32,337.02 L297.82,336.40 L297.32,335.78 L296.82,335.16 L296.32,334.53 L295.82,333.91 L295.32,333.29 L294.82,332.67 L294.32,332.06 L293.82,331.45 L293.32,330.86 L292.82,330.28 L292.32,329.72 L291.82,329.17 L291.32,328.64 L290.82,328.14 L290.32,327.66 L289.82,327.20 L289.32,326.78 L288.82,326.38 L288.31,326.02 L287.81,325.69 L287.31,325.39 L286.81,325.11 L286.31,324.83 L285.81,324.55 L285.31,324.27 L284.81,324.01 L284.31,323.75 L283.81,323.50 L283.31,323.25 L282.81,323.02 L282.31,322.80 L281.81,322.60 L281.31,322.40 L280.81,322.22 L280.31,322.06 L279.81,321.92 L279.31,321.79 L278.81,321.68 L278.31,321.60 L277.81,321.53 L277.31,321.48 L276.81,321.44 L276.31,321.41 L275.81,321.37 L275.31,321.33 L274.81,321.30 L274.31,321.27 L273.81,321.24 L273.30,321.21 L272.80,321.18 L272.30,321.16 L271.80,321.13 L271.30,321.11 L270.80,321.09 L270.30,321.07 L269.80,321.05 L269.30,321.04 L268.80,321.03 L268.30,321.02 L267.80,321.01 L267.30,321.00 L266.80,321.00 L266.30,321.00Z" fill="#fff" stroke="#A2AA00" stroke-width="1.35" stroke-linejoin="round"/>
<path d="M191.60,404.20 L192.10,404.20 L192.60,404.20 L193.10,404.19 L193.60,404.19 L194.10,404.19 L194.60,404.18 L195.10,404.18 L195.60,404.18 L196.10,404.17 L196.60,404.17 L197.10,404.16 L197.60,404.16 L198.11,404.15 L198.61,404.14 L199.11,404.14 L199.61,404.13 L200.11,404.12 L200.61,404.12 L201.11,404.11 L201.61,404.10 L202.11,404.09 L202.61,404.08 L203.11,404.07 L203.61,404.06 L204.11,404.06 L204.61,404.05 L205.11,404.04 L205.61,404.03 L206.11,404.02 L206.61,404.01 L207.11,404.00 L207.61,403.99 L208.11,403.97 L208.61,403.96 L209.11,403.95 L209.61,403.94 L210.12,403.93 L210.62,403.92 L211.12,403.91 L211.62,403.89 L212.12,403.88 L212.62,403.87 L213.12,403.86 L213.62,403.84 L214.12,403.83 L214.62,403.82 L215.12,403.81 L215.62,403.79 L216.12,403.78 L216.62,403.77 L217.12,403.75 L217.62,403.74 L218.12,403.73 L218.62,403.72 L219.12,403.70 L219.62,403.69 L220.12,403.67 L220.62,403.66 L221.12,403.65 L221.62,403.63 L222.13,403.62 L222.63,403.60 L223.13,403.58 L223.63,403.57 L224.13,403.55 L224.63,403.53 L225.13,403.52 L225.63,403.50 L226.13,403.48 L226.63,403.46 L227.13,403.44 L227.63,403.42 L228.13,403.40 L228.63,403.38 L229.13,403.36 L229.63,403.34 L230.13,403.32 L230.63,403.30 L231.13,403.28 L231.63,403.26 L232.13,403.23 L232.63,403.21 L233.13,403.19 L233.63,403.16 L234.14,403.14 L234.64,403.11 L235.14,403.09 L235.64,403.06 L236.14,403.04 L236.64,403.01 L237.14,402.98 L237.64,402.96 L238.14,402.93 L238.64,402.90 L239.14,402.87 L239.64,402.84 L240.14,402.81 L240.64,402.78 L241.14,402.75 L241.64,402.72 L242.14,402.69 L242.64,402.66 L243.14,402.63 L243.64,402.60 L244.14,402.57 L244.64,402.53 L245.14,402.50 L245.64,402.47 L246.15,402.43 L246.65,402.40 L247.15,402.37 L247.65,402.33 L248.15,402.29 L248.65,402.26 L249.15,402.22 L249.65,402.19 L250.15,402.15 L250.65,402.11 L251.15,402.07 L251.65,402.03 L252.15,401.99 L252.65,401.94 L253.15,401.90 L253.65,401.85 L254.15,401.80 L254.65,401.74 L255.15,401.69 L255.65,401.63 L256.15,401.57 L256.65,401.51 L257.15,401.45 L257.65,401.38 L258.16,401.32 L258.66,401.25 L259.16,401.18 L259.66,401.12 L260.16,401.04 L260.66,400.97 L261.16,400.90 L261.66,400.83 L262.16,400.75 L262.66,400.68 L263.16,400.60 L263.66,400.52 L264.16,400.44 L264.66,400.36 L265.16,400.29 L265.66,400.21 L266.16,400.13 L266.66,400.05 L267.16,399.96 L267.66,399.88 L268.16,399.80 L268.66,399.72 L269.16,399.64 L269.66,399.56 L270.17,399.48 L270.67,399.40 L271.17,399.32 L271.67,399.24 L272.17,399.16 L272.67,399.08 L273.17,399.00 L273.67,398.92 L274.17,398.84 L274.67,398.76 L275.17,398.69 L275.67,398.61 L276.17,398.54 L276.67,398.46 L277.17,398.39 L277.67,398.32 L278.17,398.25 L278.67,398.18 L279.17,398.11 L279.67,398.04 L280.17,397.97 L280.67,397.90 L281.17,397.83 L281.67,397.76 L282.18,397.70 L282.68,397.63 L283.18,397.56 L283.68,397.49 L284.18,397.43 L284.68,397.36 L285.18,397.29 L285.68,397.23 L286.18,397.16 L286.68,397.09 L287.18,397.03 L287.68,396.96 L288.18,396.89 L288.68,396.82 L289.18,396.75 L289.68,396.69 L290.18,396.62 L290.68,396.55 L291.18,396.48 L291.68,396.41 L292.18,396.34 L292.68,396.26 L293.18,396.19 L293.68,396.12 L294.19,396.05 L294.69,395.97 L295.19,395.90 L295.69,395.82 L296.19,395.74 L296.69,395.66 L297.19,395.58 L297.69,395.50 L298.19,395.42 L298.69,395.34 L299.19,395.26 L299.69,395.17 L300.19,395.09 L300.69,395.00 L301.19,394.91 L301.69,394.82 L302.19,394.73 L302.69,394.63 L303.19,394.54 L303.69,394.44 L304.19,394.34 L304.69,394.24 L305.19,394.14 L305.69,394.04 L306.20,393.93 L306.70,393.82 L307.20,393.71 L307.70,393.60 L308.20,393.48 L308.70,393.37 L309.20,393.25 L309.70,393.13 L310.20,393.01 L310.70,392.89 L311.20,392.76 L311.70,392.63 L312.20,392.51 L312.70,392.38 L313.20,392.25 L313.70,392.11 L314.20,391.98 L314.70,391.84 L315.20,391.70 L315.70,391.56 L316.20,391.42 L316.70,391.28 L317.20,391.14 L317.70,390.99 L318.21,390.85 L318.71,390.70 L319.21,390.55 L319.71,390.40 L320.21,390.25 L320.71,390.09 L321.21,389.94 L321.71,389.79 L322.21,389.63 L322.71,389.47 L323.21,389.31 L323.71,389.15 L324.21,388.99 L324.71,388.83 L325.21,388.66 L325.71,388.48 L326.21,388.28 L326.71,388.09 L327.21,387.88 L327.71,387.66 L328.21,387.45 L328.71,387.22 L329.21,387.00 L329.71,386.77 L330.22,386.54 L330.72,386.31 L331.22,386.08 L331.72,385.86 L332.22,385.63 L332.72,385.42 L333.22,385.20 L333.72,384.99 L334.22,384.79 L334.72,384.60 L335.22,384.42 L335.72,384.24 L336.22,384.08 L336.72,383.93 L337.22,383.79 L337.72,383.67 L338.22,383.55 L338.72,383.43 L339.22,383.31 L339.72,383.19 L340.22,383.07 L340.72,382.95 L341.22,382.83 L341.72,382.72 L342.23,382.62 L342.73,382.52 L343.23,382.42 L343.73,382.33 L344.23,382.25 L344.73,382.18 L345.23,382.12 L345.73,382.08 L346.23,382.04 L346.73,382.01 L347.23,382.00 L347.73,382.01 L348.23,382.03 L348.73,382.08 L349.23,382.16 L349.73,382.25 L350.23,382.36 L350.73,382.48 L351.23,382.62 L351.73,382.77 L352.23,382.93 L352.73,383.11 L353.23,383.29 L353.73,383.47 L354.24,383.66 L354.74,383.86 L355.24,384.05 L355.74,384.24 L356.24,384.44 L356.74,384.62 L357.24,384.81 L357.74,384.98 L358.24,385.15 L358.74,385.31 L359.24,385.47 L359.74,385.64 L360.24,385.81 L360.74,385.98 L361.24,386.15 L361.74,386.33 L362.24,386.51 L362.74,386.69 L363.24,386.87 L363.74,387.06 L364.24,387.24 L364.74,387.43 L365.24,387.62 L365.74,387.81 L366.25,387.99 L366.75,388.18 L367.25,388.37 L367.75,388.56 L368.25,388.75 L368.75,388.94 L369.25,389.13 L369.75,389.31 L370.25,389.50 L370.75,389.68 L371.25,389.86 L371.75,390.04 L372.25,390.22 L372.75,390.40 L373.25,390.57 L373.75,390.74 L374.25,390.90 L374.75,391.07 L375.25,391.23 L375.75,391.39 L376.25,391.54 L376.75,391.69 L377.25,391.83 L377.75,391.98 L378.26,392.12 L378.76,392.26 L379.26,392.40 L379.76,392.54 L380.26,392.67 L380.76,392.81 L381.26,392.94 L381.76,393.07 L382.26,393.20 L382.76,393.33 L383.26,393.46 L383.76,393.59 L384.26,393.72 L384.76,393.84 L385.26,393.97 L385.76,394.09 L386.26,394.21 L386.76,394.33 L387.26,394.45 L387.76,394.57 L388.26,394.69 L388.76,394.81 L389.26,394.93 L389.76,395.05 L390.27,395.16 L390.77,395.28 L391.27,395.39 L391.77,395.51 L392.27,395.62 L392.77,395.73 L393.27,395.85 L393.77,395.96 L394.27,396.07 L394.77,396.18 L395.27,396.29 L395.77,396.40 L396.27,396.52 L396.77,396.63 L397.27,396.74 L397.77,396.86 L398.27,396.97 L398.77,397.08 L399.27,397.20 L399.77,397.31 L400.27,397.42 L400.77,397.54 L401.27,397.65 L401.77,397.76 L402.28,397.87 L402.78,397.98 L403.28,398.09 L403.78,398.20 L404.28,398.31 L404.78,398.42 L405.28,398.52 L405.78,398.63 L406.28,398.73 L406.78,398.83 L407.28,398.93 L407.78,399.03 L408.28,399.12 L408.78,399.21 L409.28,399.31 L409.78,399.39 L410.28,399.48 L410.78,399.57 L411.28,399.65 L411.78,399.73 L412.28,399.80 L412.78,399.87 L413.28,399.94 L413.78,400.01 L414.29,400.08 L414.79,400.14 L415.29,400.20 L415.79,400.27 L416.29,400.33 L416.79,400.39 L417.29,400.45 L417.79,400.50 L418.29,400.56 L418.79,400.62 L419.29,400.67 L419.79,400.73 L420.29,400.78 L420.79,400.83 L421.29,400.88 L421.79,400.93 L422.29,400.98 L422.79,401.03 L423.29,401.08 L423.79,401.13 L424.29,401.17 L424.79,401.22 L425.29,401.26 L425.79,401.31 L426.30,401.35 L426.80,401.39 L427.30,401.43 L427.80,401.48 L428.30,401.52 L428.80,401.56 L429.30,401.59 L429.80,401.63 L430.30,401.67 L430.80,401.71 L431.30,401.74 L431.80,401.78 L432.30,401.81 L432.80,401.85 L433.30,401.88 L433.80,401.92 L434.30,401.95 L434.80,401.98 L435.30,402.01 L435.80,402.05 L436.30,402.08 L436.80,402.11 L437.30,402.14 L437.80,402.17 L438.30,402.20 L438.81,402.23 L439.31,402.26 L439.81,402.29 L440.31,402.32 L440.81,402.34 L441.31,402.37 L441.81,402.40 L442.31,402.42 L442.81,402.45 L443.31,402.48 L443.81,402.50 L444.31,402.53 L444.81,402.55 L445.31,402.57 L445.81,402.60 L446.31,402.62 L446.81,402.64 L447.31,402.67 L447.81,402.69 L448.31,402.71 L448.81,402.73 L449.31,402.75 L449.81,402.77 L450.31,402.79 L450.82,402.81 L451.32,402.83 L451.82,402.85 L452.32,402.87 L452.82,402.89 L453.32,402.91 L453.82,402.93 L454.32,402.95 L454.82,402.97 L455.32,402.99 L455.82,403.00 L456.32,403.02 L456.82,403.04 L457.32,403.06 L457.82,403.08 L458.32,403.09 L458.82,403.11 L459.32,403.13 L459.82,403.14 L460.32,403.16 L460.82,403.18 L461.32,403.19 L461.82,403.21 L462.32,403.22 L462.83,403.24 L463.33,403.25 L463.83,403.27 L464.33,403.28 L464.83,403.29 L465.33,403.30 L465.83,403.32 L466.33,403.33 L466.83,403.34 L467.33,403.35 L467.83,403.36 L468.33,403.37 L468.83,403.38 L469.33,403.39 L469.83,403.40 L470.33,403.41 L470.83,403.41 L471.33,403.42 L471.83,403.43 L472.33,403.44 L472.83,403.44 L473.33,403.45 L473.83,403.46 L474.33,403.46 L474.84,403.47 L475.34,403.48 L475.84,403.49 L476.34,403.49 L476.84,403.50 L477.34,403.50 L477.84,403.51 L478.34,403.52 L478.84,403.52 L479.34,403.53 L479.84,403.54 L480.34,403.54 L480.84,403.55 L481.34,403.55 L481.84,403.56 L482.34,403.56 L482.84,403.57 L483.34,403.58 L483.84,403.58 L484.34,403.59 L484.84,403.59 L485.34,403.60 L485.84,403.60 L486.34,403.61 L486.85,403.61 L487.35,403.62 L487.85,403.62 L488.35,403.62 L488.85,403.63 L489.35,403.63 L489.85,403.64 L490.35,403.64 L490.85,403.64 L491.35,403.65 L491.85,403.65 L492.35,403.66 L492.85,403.66 L493.35,403.66 L493.85,403.67 L494.35,403.67 L494.85,403.67 L495.35,403.68 L495.85,403.68 L496.35,403.68 L496.85,403.68 L497.35,403.69 L497.85,403.69 L498.35,403.69 L498.86,403.69 L499.36,403.70 L499.86,403.70 L500.36,403.70 L500.86,403.70 L501.36,403.71 L501.86,403.71 L502.36,403.71 L502.86,403.71 L503.36,403.71 L503.86,403.72 L504.36,403.72 L504.86,403.72 L505.36,403.72 L505.86,403.72 L506.36,403.73 L506.86,403.73 L507.36,403.73 L507.86,403.73 L508.36,403.73 L508.86,403.74 L509.36,403.74 L509.86,403.74 L510.36,403.74 L510.87,403.74 L511.37,403.75 L511.87,403.75 L512.37,403.75 L512.87,403.75 L513.37,403.75 L513.87,403.76 L514.37,403.76 L514.87,403.76 L515.37,403.76 L515.87,403.76 L516.37,403.76 L516.87,403.77 L517.37,403.77 L517.87,403.77 L518.37,403.77 L518.87,403.77 L519.37,403.77 L519.87,403.78 L520.37,403.78 L520.87,403.78 L521.37,403.78 L521.87,403.78 L522.37,403.78 L522.88,403.79 L523.38,403.79 L523.88,403.79 L524.38,403.79 L524.88,403.79 L525.38,403.79 L525.88,403.80 L526.38,403.80 L526.88,403.80 L527.38,403.80 L527.88,403.80 L528.38,403.80 L528.88,403.80 L529.38,403.81 L529.88,403.81 L530.38,403.81 L530.88,403.81 L531.38,403.81 L531.88,403.81 L532.38,403.81 L532.88,403.81 L533.38,403.82 L533.88,403.82 L534.38,403.82 L534.89,403.82 L535.39,403.82 L535.89,403.82 L536.39,403.82 L536.89,403.82 L537.39,403.82 L537.89,403.83 L538.39,403.83 L538.89,403.83 L539.39,403.83 L539.89,403.83 L540.39,403.83 L540.89,403.83 L541.39,403.83 L541.89,403.83 L542.39,403.83 L542.89,403.84 L543.39,403.84 L543.89,403.84 L544.39,403.84 L544.89,403.84 L545.39,403.84 L545.89,403.84 L546.39,403.84 L546.90,403.84 L547.40,403.84 L547.90,403.84 L548.40,403.84 L548.90,403.84 L549.40,403.84 L549.90,403.84 L550.40,403.85 L550.90,403.85 L551.40,403.85 L551.90,403.85 L552.40,403.85 L552.90,403.85 L553.40,403.85 L553.90,403.85 L554.40,403.85 L554.90,403.85 L555.40,403.85 L555.90,403.85 L556.40,403.85 L556.90,403.85 L557.40,403.85 L557.90,403.85 L558.40,403.85 L558.91,403.85 L559.41,403.85 L559.91,403.85 L560.41,403.85 L560.91,403.85 L561.41,403.85 L561.91,403.85 L562.41,403.85 L562.91,403.85 L563.41,403.85 L563.91,403.85 L564.41,403.85 L564.91,403.85 L565.41,403.85 L565.91,403.85 L566.41,403.85 L566.91,403.85 L567.41,403.85 L567.91,403.85 L568.41,403.85 L568.91,403.85 L569.41,403.85 L569.91,403.85 L570.41,403.85 L570.92,403.85 L571.42,403.85 L571.92,403.85 L572.42,403.85 L572.92,403.84 L573.42,403.84 L573.92,403.84 L574.42,403.84 L574.92,403.84 L575.42,403.84 L575.92,403.84 L576.42,403.84 L576.92,403.84 L577.42,403.84 L577.92,403.84 L578.42,403.84 L578.92,403.84 L579.42,403.84 L579.92,403.84 L580.42,403.84 L580.92,403.84 L581.42,403.84 L581.92,403.83 L582.42,403.83 L582.93,403.83 L583.43,403.83 L583.93,403.83 L584.43,403.83 L584.93,403.83 L585.43,403.83 L585.93,403.83 L586.43,403.83 L586.93,403.83 L587.43,403.83 L587.93,403.83 L588.43,403.82 L588.93,403.82 L589.43,403.82 L589.93,403.82 L590.43,403.82 L590.93,403.82 L591.43,403.82 L591.93,403.82 L592.43,403.82 L592.93,403.82 L593.43,403.82 L593.93,403.81 L594.43,403.81 L594.94,403.81 L595.44,403.81 L595.94,403.81 L596.44,403.81 L596.94,403.81 L597.44,403.81 L597.94,403.81 L598.44,403.80 L598.94,403.80 L599.44,403.80 L599.94,403.80 L600.44,403.80 L600.94,403.80 L601.44,403.79 L601.94,403.79 L602.44,403.78 L602.94,403.78 L603.44,403.77 L603.94,403.77 L604.44,403.76 L604.94,403.75 L605.44,403.75 L605.94,403.74 L606.44,403.73 L606.95,403.72 L607.45,403.71 L607.95,403.70 L608.45,403.69 L608.95,403.68 L609.45,403.67 L609.95,403.66 L610.45,403.65 L610.95,403.64 L611.45,403.63 L611.95,403.62 L612.45,403.61 L612.95,403.61 L613.45,403.60 L613.95,403.59 L614.45,403.58 L614.95,403.57 L615.45,403.56 L615.95,403.55 L616.45,403.54 L616.95,403.54 L617.45,403.53 L617.95,403.53 L618.45,403.52 L618.96,403.51 L619.46,403.51 L619.96,403.51 L620.46,403.50 L620.96,403.50 L621.46,403.50 L621.96,403.50 L622.46,403.50 L622.96,403.50 L623.46,403.50 L623.96,403.50 L624.46,403.51 L624.96,403.51 L625.46,403.51 L625.96,403.52 L626.46,403.52 L626.96,403.52 L627.46,403.53 L627.96,403.53 L628.46,403.54 L628.96,403.55 L629.46,403.55 L629.96,403.56 L630.46,403.57 L630.97,403.57 L631.47,403.58 L631.97,403.59 L632.47,403.59 L632.97,403.60 L633.47,403.61 L633.97,403.62 L634.47,403.63 L634.97,403.64 L635.47,403.64 L635.97,403.65 L636.47,403.66 L636.97,403.67 L637.47,403.68 L637.97,403.69 L638.47,403.70 L638.97,403.70 L639.47,403.71 L639.97,403.72 L640.47,403.73 L640.97,403.74 L641.47,403.75 L641.97,403.75 L642.47,403.76 L642.98,403.77 L643.48,403.78 L643.98,403.79 L644.48,403.79 L644.98,403.80 L645.48,403.81 L645.98,403.81 L646.48,403.82 L646.98,403.83 L647.48,403.83 L647.98,403.84 L648.48,403.85 L648.98,403.85 L649.48,403.86 L649.98,403.87 L650.48,403.88 L650.98,403.88 L651.48,403.89 L651.98,403.90 L652.48,403.90 L652.98,403.91 L653.48,403.92 L653.98,403.92 L654.48,403.93 L654.99,403.94 L655.49,403.95 L655.99,403.95 L656.49,403.96 L656.99,403.97 L657.49,403.97 L657.99,403.98 L658.49,403.99 L658.99,404.00 L659.49,404.00 L659.99,404.01 L660.49,404.02 L660.99,404.02 L661.49,404.03 L661.99,404.04 L662.49,404.05 L662.99,404.05 L663.49,404.06 L663.99,404.07 L664.49,404.07 L664.99,404.08 L665.49,404.09 L665.99,404.10 L666.49,404.10 L667.00,404.11 L667.50,404.12 L668.00,404.13 L668.50,404.13 L669.00,404.14 L669.50,404.15 L670.00,404.16 L670.50,404.16 L671.00,404.17 L671.50,404.18 L672.00,404.19 L672.50,404.19 L673.00,404.20 L673.00,404.20 L672.50,404.21 L672.00,404.21 L671.50,404.22 L671.00,404.23 L670.50,404.24 L670.00,404.24 L669.50,404.25 L669.00,404.26 L668.50,404.27 L668.00,404.27 L667.50,404.28 L667.00,404.29 L666.49,404.30 L665.99,404.30 L665.49,404.31 L664.99,404.32 L664.49,404.33 L663.99,404.33 L663.49,404.34 L662.99,404.35 L662.49,404.35 L661.99,404.36 L661.49,404.37 L660.99,404.38 L660.49,404.38 L659.99,404.39 L659.49,404.40 L658.99,404.40 L658.49,404.41 L657.99,404.42 L657.49,404.43 L656.99,404.43 L656.49,404.44 L655.99,404.45 L655.49,404.45 L654.99,404.46 L654.48,404.47 L653.98,404.48 L653.48,404.48 L652.98,404.49 L652.48,404.50 L651.98,404.50 L651.48,404.51 L650.98,404.52 L650.48,404.52 L649.98,404.53 L649.48,404.54 L648.98,404.55 L648.48,404.55 L647.98,404.56 L647.48,404.57 L646.98,404.57 L646.48,404.58 L645.98,404.59 L645.48,404.59 L644.98,404.60 L644.48,404.61 L643.98,404.61 L643.48,404.62 L642.98,404.63 L642.47,404.64 L641.97,404.65 L641.47,404.65 L640.97,404.66 L640.47,404.67 L639.97,404.68 L639.47,404.69 L638.97,404.70 L638.47,404.70 L637.97,404.71 L637.47,404.72 L636.97,404.73 L636.47,404.74 L635.97,404.75 L635.47,404.76 L634.97,404.76 L634.47,404.77 L633.97,404.78 L633.47,404.79 L632.97,404.80 L632.47,404.81 L631.97,404.81 L631.47,404.82 L630.97,404.83 L630.46,404.83 L629.96,404.84 L629.46,404.85 L628.96,404.85 L628.46,404.86 L627.96,404.87 L627.46,404.87 L626.96,404.88 L626.46,404.88 L625.96,404.88 L625.46,404.89 L624.96,404.89 L624.46,404.89 L623.96,404.90 L623.46,404.90 L622.96,404.90 L622.46,404.90 L621.96,404.90 L621.46,404.90 L620.96,404.90 L620.46,404.90 L619.96,404.89 L619.46,404.89 L618.96,404.89 L618.45,404.88 L617.95,404.87 L617.45,404.87 L616.95,404.86 L616.45,404.86 L615.95,404.85 L615.45,404.84 L614.95,404.83 L614.45,404.82 L613.95,404.81 L613.45,404.80 L612.95,404.79 L612.45,404.79 L611.95,404.78 L611.45,404.77 L610.95,404.76 L610.45,404.75 L609.95,404.74 L609.45,404.73 L608.95,404.72 L608.45,404.71 L607.95,404.70 L607.45,404.69 L606.95,404.68 L606.44,404.67 L605.94,404.66 L605.44,404.65 L604.94,404.65 L604.44,404.64 L603.94,404.63 L603.44,404.63 L602.94,404.62 L602.44,404.62 L601.94,404.61 L601.44,404.61 L600.94,404.60 L600.44,404.60 L599.94,404.60 L599.44,404.60 L598.94,404.60 L598.44,404.60 L597.94,404.59 L597.44,404.59 L596.94,404.59 L596.44,404.59 L595.94,404.59 L595.44,404.59 L594.94,404.59 L594.43,404.59 L593.93,404.59 L593.43,404.58 L592.93,404.58 L592.43,404.58 L591.93,404.58 L591.43,404.58 L590.93,404.58 L590.43,404.58 L589.93,404.58 L589.43,404.58 L588.93,404.58 L588.43,404.58 L587.93,404.57 L587.43,404.57 L586.93,404.57 L586.43,404.57 L585.93,404.57 L585.43,404.57 L584.93,404.57 L584.43,404.57 L583.93,404.57 L583.43,404.57 L582.93,404.57 L582.42,404.57 L581.92,404.57 L581.42,404.56 L580.92,404.56 L580.42,404.56 L579.92,404.56 L579.42,404.56 L578.92,404.56 L578.42,404.56 L577.92,404.56 L577.42,404.56 L576.92,404.56 L576.42,404.56 L575.92,404.56 L575.42,404.56 L574.92,404.56 L574.42,404.56 L573.92,404.56 L573.42,404.56 L572.92,404.56 L572.42,404.55 L571.92,404.55 L571.42,404.55 L570.92,404.55 L570.41,404.55 L569.91,404.55 L569.41,404.55 L568.91,404.55 L568.41,404.55 L567.91,404.55 L567.41,404.55 L566.91,404.55 L566.41,404.55 L565.91,404.55 L565.41,404.55 L564.91,404.55 L564.41,404.55 L563.91,404.55 L563.41,404.55 L562.91,404.55 L562.41,404.55 L561.91,404.55 L561.41,404.55 L560.91,404.55 L560.41,404.55 L559.91,404.55 L559.41,404.55 L558.91,404.55 L558.40,404.55 L557.90,404.55 L557.40,404.55 L556.90,404.55 L556.40,404.55 L555.90,404.55 L555.40,404.55 L554.90,404.55 L554.40,404.55 L553.90,404.55 L553.40,404.55 L552.90,404.55 L552.40,404.55 L551.90,404.55 L551.40,404.55 L550.90,404.55 L550.40,404.55 L549.90,404.56 L549.40,404.56 L548.90,404.56 L548.40,404.56 L547.90,404.56 L547.40,404.56 L546.90,404.56 L546.39,404.56 L545.89,404.56 L545.39,404.56 L544.89,404.56 L544.39,404.56 L543.89,404.56 L543.39,404.56 L542.89,404.56 L542.39,404.57 L541.89,404.57 L541.39,404.57 L540.89,404.57 L540.39,404.57 L539.89,404.57 L539.39,404.57 L538.89,404.57 L538.39,404.57 L537.89,404.57 L537.39,404.58 L536.89,404.58 L536.39,404.58 L535.89,404.58 L535.39,404.58 L534.89,404.58 L534.38,404.58 L533.88,404.58 L533.38,404.58 L532.88,404.59 L532.38,404.59 L531.88,404.59 L531.38,404.59 L530.88,404.59 L530.38,404.59 L529.88,404.59 L529.38,404.59 L528.88,404.60 L528.38,404.60 L527.88,404.60 L527.38,404.60 L526.88,404.60 L526.38,404.60 L525.88,404.60 L525.38,404.61 L524.88,404.61 L524.38,404.61 L523.88,404.61 L523.38,404.61 L522.88,404.61 L522.37,404.62 L521.87,404.62 L521.37,404.62 L520.87,404.62 L520.37,404.62 L519.87,404.62 L519.37,404.63 L518.87,404.63 L518.37,404.63 L517.87,404.63 L517.37,404.63 L516.87,404.63 L516.37,404.64 L515.87,404.64 L515.37,404.64 L514.87,404.64 L514.37,404.64 L513.87,404.64 L513.37,404.65 L512.87,404.65 L512.37,404.65 L511.87,404.65 L511.37,404.65 L510.87,404.66 L510.36,404.66 L509.86,404.66 L509.36,404.66 L508.86,404.66 L508.36,404.67 L507.86,404.67 L507.36,404.67 L506.86,404.67 L506.36,404.67 L505.86,404.68 L505.36,404.68 L504.86,404.68 L504.36,404.68 L503.86,404.68 L503.36,404.69 L502.86,404.69 L502.36,404.69 L501.86,404.69 L501.36,404.69 L500.86,404.70 L500.36,404.70 L499.86,404.70 L499.36,404.70 L498.86,404.71 L498.35,404.71 L497.85,404.71 L497.35,404.71 L496.85,404.72 L496.35,404.72 L495.85,404.72 L495.35,404.72 L494.85,404.73 L494.35,404.73 L493.85,404.73 L493.35,404.74 L492.85,404.74 L492.35,404.74 L491.85,404.75 L491.35,404.75 L490.85,404.76 L490.35,404.76 L489.85,404.76 L489.35,404.77 L488.85,404.77 L488.35,404.78 L487.85,404.78 L487.35,404.78 L486.85,404.79 L486.34,404.79 L485.84,404.80 L485.34,404.80 L484.84,404.81 L484.34,404.81 L483.84,404.82 L483.34,404.82 L482.84,404.83 L482.34,404.84 L481.84,404.84 L481.34,404.85 L480.84,404.85 L480.34,404.86 L479.84,404.86 L479.34,404.87 L478.84,404.88 L478.34,404.88 L477.84,404.89 L477.34,404.90 L476.84,404.90 L476.34,404.91 L475.84,404.91 L475.34,404.92 L474.84,404.93 L474.33,404.94 L473.83,404.94 L473.33,404.95 L472.83,404.96 L472.33,404.96 L471.83,404.97 L471.33,404.98 L470.83,404.99 L470.33,404.99 L469.83,405.00 L469.33,405.01 L468.83,405.02 L468.33,405.03 L467.83,405.04 L467.33,405.05 L466.83,405.06 L466.33,405.07 L465.83,405.08 L465.33,405.10 L464.83,405.11 L464.33,405.12 L463.83,405.13 L463.33,405.15 L462.83,405.16 L462.32,405.18 L461.82,405.19 L461.32,405.21 L460.82,405.22 L460.32,405.24 L459.82,405.26 L459.32,405.27 L458.82,405.29 L458.32,405.31 L457.82,405.32 L457.32,405.34 L456.82,405.36 L456.32,405.38 L455.82,405.40 L455.32,405.41 L454.82,405.43 L454.32,405.45 L453.82,405.47 L453.32,405.49 L452.82,405.51 L452.32,405.53 L451.82,405.55 L451.32,405.57 L450.82,405.59 L450.31,405.61 L449.81,405.63 L449.31,405.65 L448.81,405.67 L448.31,405.69 L447.81,405.71 L447.31,405.73 L446.81,405.76 L446.31,405.78 L445.81,405.80 L445.31,405.83 L444.81,405.85 L444.31,405.87 L443.81,405.90 L443.31,405.92 L442.81,405.95 L442.31,405.98 L441.81,406.00 L441.31,406.03 L440.81,406.06 L440.31,406.08 L439.81,406.11 L439.31,406.14 L438.81,406.17 L438.30,406.20 L437.80,406.23 L437.30,406.26 L436.80,406.29 L436.30,406.32 L435.80,406.35 L435.30,406.39 L434.80,406.42 L434.30,406.45 L433.80,406.48 L433.30,406.52 L432.80,406.55 L432.30,406.59 L431.80,406.62 L431.30,406.66 L430.80,406.69 L430.30,406.73 L429.80,406.77 L429.30,406.81 L428.80,406.84 L428.30,406.88 L427.80,406.92 L427.30,406.97 L426.80,407.01 L426.30,407.05 L425.79,407.09 L425.29,407.14 L424.79,407.18 L424.29,407.23 L423.79,407.27 L423.29,407.32 L422.79,407.37 L422.29,407.42 L421.79,407.47 L421.29,407.52 L420.79,407.57 L420.29,407.62 L419.79,407.67 L419.29,407.73 L418.79,407.78 L418.29,407.84 L417.79,407.90 L417.29,407.95 L416.79,408.01 L416.29,408.07 L415.79,408.13 L415.29,408.20 L414.79,408.26 L414.29,408.32 L413.78,408.39 L413.28,408.46 L412.78,408.53 L412.28,408.60 L411.78,408.67 L411.28,408.75 L410.78,408.83 L410.28,408.92 L409.78,409.01 L409.28,409.09 L408.78,409.19 L408.28,409.28 L407.78,409.37 L407.28,409.47 L406.78,409.57 L406.28,409.67 L405.78,409.77 L405.28,409.88 L404.78,409.98 L404.28,410.09 L403.78,410.20 L403.28,410.31 L402.78,410.42 L402.28,410.53 L401.77,410.64 L401.27,410.75 L400.77,410.86 L400.27,410.98 L399.77,411.09 L399.27,411.20 L398.77,411.32 L398.27,411.43 L397.77,411.54 L397.27,411.66 L396.77,411.77 L396.27,411.88 L395.77,412.00 L395.27,412.11 L394.77,412.22 L394.27,412.33 L393.77,412.44 L393.27,412.55 L392.77,412.67 L392.27,412.78 L391.77,412.89 L391.27,413.01 L390.77,413.12 L390.27,413.24 L389.76,413.35 L389.26,413.47 L388.76,413.59 L388.26,413.71 L387.76,413.83 L387.26,413.95 L386.76,414.07 L386.26,414.19 L385.76,414.31 L385.26,414.43 L384.76,414.56 L384.26,414.68 L383.76,414.81 L383.26,414.94 L382.76,415.07 L382.26,415.20 L381.76,415.33 L381.26,415.46 L380.76,415.59 L380.26,415.73 L379.76,415.86 L379.26,416.00 L378.76,416.14 L378.26,416.28 L377.75,416.42 L377.25,416.57 L376.75,416.71 L376.25,416.86 L375.75,417.01 L375.25,417.17 L374.75,417.33 L374.25,417.50 L373.75,417.66 L373.25,417.83 L372.75,418.00 L372.25,418.18 L371.75,418.36 L371.25,418.54 L370.75,418.72 L370.25,418.90 L369.75,419.09 L369.25,419.27 L368.75,419.46 L368.25,419.65 L367.75,419.84 L367.25,420.03 L366.75,420.22 L366.25,420.41 L365.74,420.59 L365.24,420.78 L364.74,420.97 L364.24,421.16 L363.74,421.34 L363.24,421.53 L362.74,421.71 L362.24,421.89 L361.74,422.07 L361.24,422.25 L360.74,422.42 L360.24,422.59 L359.74,422.76 L359.24,422.93 L358.74,423.09 L358.24,423.25 L357.74,423.42 L357.24,423.59 L356.74,423.78 L356.24,423.96 L355.74,424.16 L355.24,424.35 L354.74,424.54 L354.24,424.74 L353.73,424.93 L353.23,425.11 L352.73,425.29 L352.23,425.47 L351.73,425.63 L351.23,425.78 L350.73,425.92 L350.23,426.04 L349.73,426.15 L349.23,426.24 L348.73,426.32 L348.23,426.37 L347.73,426.39 L347.23,426.40 L346.73,426.39 L346.23,426.36 L345.73,426.32 L345.23,426.28 L344.73,426.22 L344.23,426.15 L343.73,426.07 L343.23,425.98 L342.73,425.88 L342.23,425.78 L341.72,425.68 L341.22,425.57 L340.72,425.45 L340.22,425.33 L339.72,425.21 L339.22,425.09 L338.72,424.97 L338.22,424.85 L337.72,424.73 L337.22,424.61 L336.72,424.47 L336.22,424.32 L335.72,424.16 L335.22,423.98 L334.72,423.80 L334.22,423.61 L333.72,423.41 L333.22,423.20 L332.72,422.98 L332.22,422.77 L331.72,422.54 L331.22,422.32 L330.72,422.09 L330.22,421.86 L329.71,421.63 L329.21,421.40 L328.71,421.18 L328.21,420.95 L327.71,420.74 L327.21,420.52 L326.71,420.31 L326.21,420.12 L325.71,419.92 L325.21,419.74 L324.71,419.57 L324.21,419.41 L323.71,419.25 L323.21,419.09 L322.71,418.93 L322.21,418.77 L321.71,418.61 L321.21,418.46 L320.71,418.31 L320.21,418.15 L319.71,418.00 L319.21,417.85 L318.71,417.70 L318.21,417.55 L317.70,417.41 L317.20,417.26 L316.70,417.12 L316.20,416.98 L315.70,416.84 L315.20,416.70 L314.70,416.56 L314.20,416.42 L313.70,416.29 L313.20,416.15 L312.70,416.02 L312.20,415.89 L311.70,415.77 L311.20,415.64 L310.70,415.51 L310.20,415.39 L309.70,415.27 L309.20,415.15 L308.70,415.03 L308.20,414.92 L307.70,414.80 L307.20,414.69 L306.70,414.58 L306.20,414.47 L305.69,414.36 L305.19,414.26 L304.69,414.16 L304.19,414.06 L303.69,413.96 L303.19,413.86 L302.69,413.77 L302.19,413.67 L301.69,413.58 L301.19,413.49 L300.69,413.40 L300.19,413.31 L299.69,413.23 L299.19,413.14 L298.69,413.06 L298.19,412.98 L297.69,412.90 L297.19,412.82 L296.69,412.74 L296.19,412.66 L295.69,412.58 L295.19,412.50 L294.69,412.43 L294.19,412.35 L293.68,412.28 L293.18,412.21 L292.68,412.14 L292.18,412.06 L291.68,411.99 L291.18,411.92 L290.68,411.85 L290.18,411.78 L289.68,411.71 L289.18,411.65 L288.68,411.58 L288.18,411.51 L287.68,411.44 L287.18,411.37 L286.68,411.31 L286.18,411.24 L285.68,411.17 L285.18,411.11 L284.68,411.04 L284.18,410.97 L283.68,410.91 L283.18,410.84 L282.68,410.77 L282.18,410.70 L281.67,410.64 L281.17,410.57 L280.67,410.50 L280.17,410.43 L279.67,410.36 L279.17,410.29 L278.67,410.22 L278.17,410.15 L277.67,410.08 L277.17,410.01 L276.67,409.94 L276.17,409.86 L275.67,409.79 L275.17,409.71 L274.67,409.64 L274.17,409.56 L273.67,409.48 L273.17,409.40 L272.67,409.32 L272.17,409.24 L271.67,409.16 L271.17,409.08 L270.67,409.00 L270.17,408.92 L269.66,408.84 L269.16,408.76 L268.66,408.68 L268.16,408.60 L267.66,408.52 L267.16,408.44 L266.66,408.35 L266.16,408.27 L265.66,408.19 L265.16,408.11 L264.66,408.04 L264.16,407.96 L263.66,407.88 L263.16,407.80 L262.66,407.72 L262.16,407.65 L261.66,407.57 L261.16,407.50 L260.66,407.43 L260.16,407.36 L259.66,407.28 L259.16,407.22 L258.66,407.15 L258.16,407.08 L257.65,407.02 L257.15,406.95 L256.65,406.89 L256.15,406.83 L255.65,406.77 L255.15,406.71 L254.65,406.66 L254.15,406.60 L253.65,406.55 L253.15,406.50 L252.65,406.46 L252.15,406.41 L251.65,406.37 L251.15,406.33 L250.65,406.29 L250.15,406.25 L249.65,406.21 L249.15,406.18 L248.65,406.14 L248.15,406.11 L247.65,406.07 L247.15,406.03 L246.65,406.00 L246.15,405.97 L245.64,405.93 L245.14,405.90 L244.64,405.87 L244.14,405.83 L243.64,405.80 L243.14,405.77 L242.64,405.74 L242.14,405.71 L241.64,405.68 L241.14,405.65 L240.64,405.62 L240.14,405.59 L239.64,405.56 L239.14,405.53 L238.64,405.50 L238.14,405.47 L237.64,405.44 L237.14,405.42 L236.64,405.39 L236.14,405.36 L235.64,405.34 L235.14,405.31 L234.64,405.29 L234.14,405.26 L233.63,405.24 L233.13,405.21 L232.63,405.19 L232.13,405.17 L231.63,405.14 L231.13,405.12 L230.63,405.10 L230.13,405.08 L229.63,405.06 L229.13,405.04 L228.63,405.02 L228.13,405.00 L227.63,404.98 L227.13,404.96 L226.63,404.94 L226.13,404.92 L225.63,404.90 L225.13,404.88 L224.63,404.87 L224.13,404.85 L223.63,404.83 L223.13,404.82 L222.63,404.80 L222.13,404.78 L221.62,404.77 L221.12,404.75 L220.62,404.74 L220.12,404.73 L219.62,404.71 L219.12,404.70 L218.62,404.68 L218.12,404.67 L217.62,404.66 L217.12,404.65 L216.62,404.63 L216.12,404.62 L215.62,404.61 L215.12,404.59 L214.62,404.58 L214.12,404.57 L213.62,404.56 L213.12,404.54 L212.62,404.53 L212.12,404.52 L211.62,404.51 L211.12,404.49 L210.62,404.48 L210.12,404.47 L209.61,404.46 L209.11,404.45 L208.61,404.44 L208.11,404.43 L207.61,404.41 L207.11,404.40 L206.61,404.39 L206.11,404.38 L205.61,404.37 L205.11,404.36 L204.61,404.35 L204.11,404.34 L203.61,404.34 L203.11,404.33 L202.61,404.32 L202.11,404.31 L201.61,404.30 L201.11,404.29 L200.61,404.28 L200.11,404.28 L199.61,404.27 L199.11,404.26 L198.61,404.26 L198.11,404.25 L197.60,404.24 L197.10,404.24 L196.60,404.23 L196.10,404.23 L195.60,404.22 L195.10,404.22 L194.60,404.22 L194.10,404.21 L193.60,404.21 L193.10,404.21 L192.60,404.20 L192.10,404.20 L191.60,404.20Z" fill="#fff" stroke="#F86660" stroke-width="1.35" stroke-linejoin="round"/>
<line x1="339.6" y1="21.7" x2="339.6" y2="454.0" stroke="#222" stroke-width="1.5"/>
<circle cx="352.2" cy="71.5" r="3.4" fill="#F55CEE"/>
<circle cx="346.4" cy="154.6" r="3.4" fill="#00A8F4"/>
<circle cx="345.5" cy="237.8" r="3.4" fill="#00BA7C"/>
<circle cx="345.0" cy="321.0" r="3.4" fill="#A2AA00"/>
<circle cx="350.1" cy="404.2" r="3.4" fill="#F86660"/>
<path d="M166.0,454.0 L166.0,21.7 L739.4,21.7 L739.4,454.0" fill="none" stroke="#333" stroke-width="1.6" stroke-linejoin="round"/>
<line x1="165.2" y1="454.0" x2="740.1999999999999" y2="454.0" stroke="#7a7a7a" stroke-width="1.7"/>
<line x1="162.5" y1="71.5" x2="166.0" y2="71.5" stroke="#333" stroke-width="1.1"/>
<text transform="translate(159.70,75.70) scale(1,1.08)" text-anchor="end" class="ax">Social Stressor Groups</text>
<line x1="162.5" y1="154.6" x2="166.0" y2="154.6" stroke="#333" stroke-width="1.1"/>
<text transform="translate(159.70,158.80) scale(1,1.08)" text-anchor="end" class="ax">Maternal Stressor Groups</text>
<line x1="162.5" y1="237.8" x2="166.0" y2="237.8" stroke="#333" stroke-width="1.1"/>
<text transform="translate(159.70,242.00) scale(1,1.08)" text-anchor="end" class="ax">Inherent Characteristic Groups</text>
<line x1="162.5" y1="321.0" x2="166.0" y2="321.0" stroke="#333" stroke-width="1.1"/>
<text transform="translate(159.70,325.20) scale(1,1.08)" text-anchor="end" class="ax">Chemical Stressor Groups</text>
<line x1="162.5" y1="404.2" x2="166.0" y2="404.2" stroke="#333" stroke-width="1.1"/>
<text transform="translate(159.70,408.40) scale(1,1.08)" text-anchor="end" class="ax">Activity &amp; Behavior Groups</text>
<line x1="339.60" y1="454.0" x2="339.60" y2="457.5" stroke="#333" stroke-width="1.1"/>
<text transform="translate(339.60,468.20) scale(1,1.04)" text-anchor="middle" class="tnum one">1</text>
<line x1="523.50" y1="454.0" x2="523.50" y2="457.5" stroke="#333" stroke-width="1.1"/>
<text transform="translate(523.50,468.20) scale(1,1.04)" text-anchor="middle" class="tnum">2</text>
<line x1="707.40" y1="454.0" x2="707.40" y2="457.5" stroke="#333" stroke-width="1.1"/>
<text transform="translate(707.40,468.20) scale(1,1.04)" text-anchor="middle" class="tnum">3</text>
<text transform="translate(452.40,482.90) scale(1,0.93)" text-anchor="middle" class="ti">Odds Ratio (OR)</text>
<text transform="translate(15.35,237.60) rotate(-90)" text-anchor="middle" class="ti fac">Factors</text>
<line x1="124.20" y1="533.1" x2="124.20" y2="877.2" stroke="#f0f0f0" stroke-width="0.9"/>
<line x1="163.60" y1="533.1" x2="163.60" y2="877.2" stroke="#f0f0f0" stroke-width="0.9"/>
<line x1="203.00" y1="533.1" x2="203.00" y2="877.2" stroke="#f0f0f0" stroke-width="0.9"/>
<line x1="183.30" y1="533.1" x2="183.30" y2="877.2" stroke="#e8e8e8" stroke-width="1.1"/>
<line x1="222.70" y1="533.1" x2="222.70" y2="877.2" stroke="#e8e8e8" stroke-width="1.1"/>
<line x1="108.0" y1="547.40" x2="229.50" y2="547.40" stroke="#e6e6e6" stroke-width="1.3"/>
<line x1="108.0" y1="570.00" x2="229.50" y2="570.00" stroke="#e6e6e6" stroke-width="1.3"/>
<line x1="108.0" y1="592.60" x2="229.50" y2="592.60" stroke="#e6e6e6" stroke-width="1.3"/>
<line x1="108.0" y1="615.20" x2="229.50" y2="615.20" stroke="#e6e6e6" stroke-width="1.3"/>
<line x1="108.0" y1="637.80" x2="229.50" y2="637.80" stroke="#e6e6e6" stroke-width="1.3"/>
<line x1="108.0" y1="660.40" x2="229.50" y2="660.40" stroke="#e6e6e6" stroke-width="1.3"/>
<line x1="108.0" y1="683.00" x2="229.50" y2="683.00" stroke="#e6e6e6" stroke-width="1.3"/>
<line x1="108.0" y1="705.60" x2="229.50" y2="705.60" stroke="#e6e6e6" stroke-width="1.3"/>
<line x1="108.0" y1="728.20" x2="229.50" y2="728.20" stroke="#e6e6e6" stroke-width="1.3"/>
<line x1="108.0" y1="750.80" x2="229.50" y2="750.80" stroke="#e6e6e6" stroke-width="1.3"/>
<line x1="108.0" y1="773.40" x2="229.50" y2="773.40" stroke="#e6e6e6" stroke-width="1.3"/>
<line x1="108.0" y1="796.00" x2="229.50" y2="796.00" stroke="#e6e6e6" stroke-width="1.3"/>
<line x1="108.0" y1="818.60" x2="229.50" y2="818.60" stroke="#e6e6e6" stroke-width="1.3"/>
<line x1="108.0" y1="841.20" x2="229.50" y2="841.20" stroke="#e6e6e6" stroke-width="1.3"/>
<line x1="108.0" y1="863.80" x2="229.50" y2="863.80" stroke="#e6e6e6" stroke-width="1.3"/>
<path d="M117.00,660.40 L117.25,660.40 L117.50,660.40 L117.75,660.39 L118.00,660.38 L118.25,660.37 L118.50,660.36 L118.75,660.35 L119.00,660.34 L119.25,660.32 L119.50,660.30 L119.75,660.28 L120.01,660.26 L120.26,660.23 L120.51,660.21 L120.76,660.18 L121.01,660.15 L121.26,660.09 L121.51,659.97 L121.76,659.81 L122.01,659.61 L122.26,659.38 L122.51,659.13 L122.76,658.87 L123.01,658.59 L123.26,658.32 L123.51,658.06 L123.76,657.81 L124.01,657.59 L124.26,657.38 L124.51,657.16 L124.76,656.94 L125.01,656.71 L125.26,656.49 L125.52,656.26 L125.77,656.03 L126.02,655.80 L126.27,655.58 L126.52,655.35 L126.77,655.13 L127.02,654.92 L127.27,654.71 L127.52,654.51 L127.77,654.31 L128.02,654.13 L128.27,653.95 L128.52,653.78 L128.77,653.63 L129.02,653.49 L129.27,653.35 L129.52,653.21 L129.77,653.07 L130.02,652.93 L130.27,652.79 L130.52,652.65 L130.77,652.52 L131.03,652.38 L131.28,652.25 L131.53,652.12 L131.78,651.99 L132.03,651.86 L132.28,651.74 L132.53,651.63 L132.78,651.52 L133.03,651.42 L133.28,651.32 L133.53,651.23 L133.78,651.14 L134.03,651.07 L134.28,651.00 L134.53,650.94 L134.78,650.89 L135.03,650.85 L135.28,650.82 L135.53,650.81 L135.78,650.80 L136.03,650.81 L136.28,650.85 L136.54,650.90 L136.79,650.98 L137.04,651.08 L137.29,651.20 L137.54,651.33 L137.79,651.48 L138.04,651.64 L138.29,651.82 L138.54,652.00 L138.79,652.19 L139.04,652.39 L139.29,652.59 L139.54,652.79 L139.79,653.00 L140.04,653.21 L140.29,653.42 L140.54,653.62 L140.79,653.82 L141.04,654.02 L141.29,654.24 L141.54,654.50 L141.79,654.77 L142.05,655.07 L142.30,655.36 L142.55,655.66 L142.80,655.96 L143.05,656.25 L143.30,656.52 L143.55,656.76 L143.80,656.98 L144.05,657.16 L144.30,657.30 L144.55,657.41 L144.80,657.52 L145.05,657.63 L145.30,657.73 L145.55,657.82 L145.80,657.91 L146.05,657.99 L146.30,658.08 L146.55,658.15 L146.80,658.22 L147.05,658.29 L147.30,658.36 L147.55,658.42 L147.81,658.48 L148.06,658.54 L148.31,658.59 L148.56,658.64 L148.81,658.68 L149.06,658.73 L149.31,658.77 L149.56,658.81 L149.81,658.85 L150.06,658.89 L150.31,658.92 L150.56,658.96 L150.81,659.00 L151.06,659.04 L151.31,659.07 L151.56,659.11 L151.81,659.14 L152.06,659.18 L152.31,659.21 L152.56,659.24 L152.81,659.27 L153.06,659.30 L153.32,659.33 L153.57,659.35 L153.82,659.38 L154.07,659.40 L154.32,659.42 L154.57,659.44 L154.82,659.45 L155.07,659.47 L155.32,659.48 L155.57,659.49 L155.82,659.49 L156.07,659.50 L156.32,659.50 L156.57,659.50 L156.82,659.49 L157.07,659.48 L157.32,659.46 L157.57,659.44 L157.82,659.41 L158.07,659.38 L158.32,659.35 L158.57,659.32 L158.83,659.29 L159.08,659.25 L159.33,659.21 L159.58,659.18 L159.83,659.14 L160.08,659.10 L160.33,659.06 L160.58,659.03 L160.83,658.99 L161.08,658.96 L161.33,658.93 L161.58,658.90 L161.83,658.87 L162.08,658.85 L162.33,658.83 L162.58,658.82 L162.83,658.81 L163.08,658.80 L163.33,658.80 L163.58,658.82 L163.83,658.85 L164.08,658.90 L164.34,658.95 L164.59,659.02 L164.84,659.09 L165.09,659.18 L165.34,659.26 L165.59,659.35 L165.84,659.45 L166.09,659.54 L166.34,659.64 L166.59,659.73 L166.84,659.81 L167.09,659.89 L167.34,659.97 L167.59,660.03 L167.84,660.08 L168.09,660.13 L168.34,660.15 L168.59,660.18 L168.84,660.20 L169.09,660.22 L169.34,660.24 L169.59,660.26 L169.85,660.28 L170.10,660.30 L170.35,660.32 L170.60,660.33 L170.85,660.35 L171.10,660.36 L171.35,660.37 L171.60,660.38 L171.85,660.39 L172.10,660.40 L172.35,660.40 L172.60,660.40 L172.60,660.40 L172.35,660.40 L172.10,660.40 L171.85,660.41 L171.60,660.42 L171.35,660.43 L171.10,660.44 L170.85,660.45 L170.60,660.47 L170.35,660.48 L170.10,660.50 L169.85,660.52 L169.59,660.54 L169.34,660.56 L169.09,660.58 L168.84,660.60 L168.59,660.62 L168.34,660.65 L168.09,660.67 L167.84,660.72 L167.59,660.77 L167.34,660.83 L167.09,660.91 L166.84,660.99 L166.59,661.07 L166.34,661.16 L166.09,661.26 L165.84,661.35 L165.59,661.45 L165.34,661.54 L165.09,661.62 L164.84,661.71 L164.59,661.78 L164.34,661.85 L164.08,661.90 L163.83,661.95 L163.58,661.98 L163.33,662.00 L163.08,662.00 L162.83,661.99 L162.58,661.98 L162.33,661.97 L162.08,661.95 L161.83,661.93 L161.58,661.90 L161.33,661.87 L161.08,661.84 L160.83,661.81 L160.58,661.77 L160.33,661.74 L160.08,661.70 L159.83,661.66 L159.58,661.62 L159.33,661.59 L159.08,661.55 L158.83,661.51 L158.57,661.48 L158.32,661.45 L158.07,661.42 L157.82,661.39 L157.57,661.36 L157.32,661.34 L157.07,661.32 L156.82,661.31 L156.57,661.30 L156.32,661.30 L156.07,661.30 L155.82,661.31 L155.57,661.31 L155.32,661.32 L155.07,661.33 L154.82,661.35 L154.57,661.36 L154.32,661.38 L154.07,661.40 L153.82,661.42 L153.57,661.45 L153.32,661.47 L153.06,661.50 L152.81,661.53 L152.56,661.56 L152.31,661.59 L152.06,661.62 L151.81,661.66 L151.56,661.69 L151.31,661.73 L151.06,661.76 L150.81,661.80 L150.56,661.84 L150.31,661.88 L150.06,661.91 L149.81,661.95 L149.56,661.99 L149.31,662.03 L149.06,662.07 L148.81,662.12 L148.56,662.16 L148.31,662.21 L148.06,662.26 L147.81,662.32 L147.55,662.38 L147.30,662.44 L147.05,662.51 L146.80,662.58 L146.55,662.65 L146.30,662.72 L146.05,662.81 L145.80,662.89 L145.55,662.98 L145.30,663.07 L145.05,663.17 L144.80,663.28 L144.55,663.39 L144.30,663.50 L144.05,663.64 L143.80,663.82 L143.55,664.04 L143.30,664.28 L143.05,664.55 L142.80,664.84 L142.55,665.14 L142.30,665.44 L142.05,665.73 L141.79,666.03 L141.54,666.30 L141.29,666.56 L141.04,666.78 L140.79,666.98 L140.54,667.18 L140.29,667.38 L140.04,667.59 L139.79,667.80 L139.54,668.01 L139.29,668.21 L139.04,668.41 L138.79,668.61 L138.54,668.80 L138.29,668.98 L138.04,669.16 L137.79,669.32 L137.54,669.47 L137.29,669.60 L137.04,669.72 L136.79,669.82 L136.54,669.90 L136.28,669.95 L136.03,669.99 L135.78,670.00 L135.53,669.99 L135.28,669.98 L135.03,669.95 L134.78,669.91 L134.53,669.86 L134.28,669.80 L134.03,669.73 L133.78,669.66 L133.53,669.57 L133.28,669.48 L133.03,669.38 L132.78,669.28 L132.53,669.17 L132.28,669.06 L132.03,668.94 L131.78,668.81 L131.53,668.68 L131.28,668.55 L131.03,668.42 L130.77,668.28 L130.52,668.15 L130.27,668.01 L130.02,667.87 L129.77,667.73 L129.52,667.59 L129.27,667.45 L129.02,667.31 L128.77,667.17 L128.52,667.02 L128.27,666.85 L128.02,666.67 L127.77,666.49 L127.52,666.29 L127.27,666.09 L127.02,665.88 L126.77,665.67 L126.52,665.45 L126.27,665.22 L126.02,665.00 L125.77,664.77 L125.52,664.54 L125.26,664.31 L125.01,664.09 L124.76,663.86 L124.51,663.64 L124.26,663.42 L124.01,663.21 L123.76,662.99 L123.51,662.74 L123.26,662.48 L123.01,662.21 L122.76,661.93 L122.51,661.67 L122.26,661.42 L122.01,661.19 L121.76,660.99 L121.51,660.83 L121.26,660.71 L121.01,660.65 L120.76,660.62 L120.51,660.59 L120.26,660.57 L120.01,660.54 L119.75,660.52 L119.50,660.50 L119.25,660.48 L119.00,660.46 L118.75,660.45 L118.50,660.44 L118.25,660.43 L118.00,660.42 L117.75,660.41 L117.50,660.40 L117.25,660.40 L117.00,660.40Z" fill="#fff" stroke="#F86660" stroke-width="1.2" stroke-linejoin="round"/>
<path d="M112.70,750.80 L112.95,750.80 L113.20,750.80 L113.45,750.80 L113.70,750.80 L113.95,750.80 L114.20,750.80 L114.45,750.80 L114.71,750.80 L114.96,750.79 L115.21,750.79 L115.46,750.79 L115.71,750.79 L115.96,750.79 L116.21,750.79 L116.46,750.78 L116.71,750.78 L116.96,750.78 L117.21,750.78 L117.46,750.77 L117.71,750.77 L117.96,750.77 L118.22,750.77 L118.47,750.76 L118.72,750.76 L118.97,750.76 L119.22,750.75 L119.47,750.75 L119.72,750.74 L119.97,750.74 L120.22,750.74 L120.47,750.73 L120.72,750.73 L120.97,750.72 L121.22,750.72 L121.47,750.71 L121.72,750.71 L121.98,750.70 L122.23,750.70 L122.48,750.69 L122.73,750.68 L122.98,750.68 L123.23,750.67 L123.48,750.67 L123.73,750.66 L123.98,750.65 L124.23,750.65 L124.48,750.64 L124.73,750.63 L124.98,750.62 L125.23,750.62 L125.49,750.61 L125.74,750.60 L125.99,750.59 L126.24,750.58 L126.49,750.58 L126.74,750.57 L126.99,750.56 L127.24,750.55 L127.49,750.53 L127.74,750.50 L127.99,750.46 L128.24,750.41 L128.49,750.35 L128.74,750.28 L128.99,750.20 L129.25,750.11 L129.50,750.01 L129.75,749.90 L130.00,749.79 L130.25,749.67 L130.50,749.54 L130.75,749.41 L131.00,749.28 L131.25,749.13 L131.50,748.99 L131.75,748.84 L132.00,748.69 L132.25,748.54 L132.50,748.38 L132.76,748.22 L133.01,748.06 L133.26,747.91 L133.51,747.75 L133.76,747.59 L134.01,747.43 L134.26,747.28 L134.51,747.13 L134.76,746.98 L135.01,746.83 L135.26,746.69 L135.51,746.55 L135.76,746.42 L136.01,746.29 L136.26,746.15 L136.52,746.00 L136.77,745.84 L137.02,745.68 L137.27,745.51 L137.52,745.34 L137.77,745.16 L138.02,744.98 L138.27,744.80 L138.52,744.62 L138.77,744.43 L139.02,744.25 L139.27,744.06 L139.52,743.88 L139.77,743.70 L140.03,743.52 L140.28,743.35 L140.53,743.18 L140.78,743.01 L141.03,742.85 L141.28,742.70 L141.53,742.56 L141.78,742.42 L142.03,742.30 L142.28,742.18 L142.53,742.08 L142.78,741.98 L143.03,741.90 L143.28,741.83 L143.53,741.78 L143.79,741.73 L144.04,741.71 L144.29,741.70 L144.54,741.71 L144.79,741.73 L145.04,741.76 L145.29,741.81 L145.54,741.88 L145.79,741.95 L146.04,742.04 L146.29,742.13 L146.54,742.24 L146.79,742.36 L147.04,742.49 L147.30,742.62 L147.55,742.76 L147.80,742.91 L148.05,743.07 L148.30,743.23 L148.55,743.39 L148.80,743.56 L149.05,743.74 L149.30,743.92 L149.55,744.10 L149.80,744.28 L150.05,744.46 L150.30,744.64 L150.55,744.82 L150.80,745.01 L151.06,745.19 L151.31,745.36 L151.56,745.54 L151.81,745.71 L152.06,745.88 L152.31,746.04 L152.56,746.20 L152.81,746.35 L153.06,746.50 L153.31,746.65 L153.56,746.82 L153.81,747.00 L154.06,747.18 L154.31,747.37 L154.57,747.57 L154.82,747.76 L155.07,747.97 L155.32,748.17 L155.57,748.37 L155.82,748.57 L156.07,748.77 L156.32,748.96 L156.57,749.15 L156.82,749.33 L157.07,749.51 L157.32,749.67 L157.57,749.83 L157.82,749.97 L158.07,750.10 L158.33,750.22 L158.58,750.32 L158.83,750.40 L159.08,750.47 L159.33,750.52 L159.58,750.54 L159.83,750.55 L160.08,750.56 L160.33,750.56 L160.58,750.57 L160.83,750.58 L161.08,750.58 L161.33,750.59 L161.58,750.59 L161.84,750.60 L162.09,750.60 L162.34,750.61 L162.59,750.61 L162.84,750.62 L163.09,750.62 L163.34,750.63 L163.59,750.63 L163.84,750.64 L164.09,750.64 L164.34,750.65 L164.59,750.65 L164.84,750.65 L165.09,750.66 L165.34,750.66 L165.60,750.67 L165.85,750.67 L166.10,750.67 L166.35,750.68 L166.60,750.68 L166.85,750.69 L167.10,750.69 L167.35,750.69 L167.60,750.70 L167.85,750.70 L168.10,750.70 L168.35,750.71 L168.60,750.71 L168.85,750.71 L169.11,750.72 L169.36,750.72 L169.61,750.72 L169.86,750.72 L170.11,750.73 L170.36,750.73 L170.61,750.73 L170.86,750.73 L171.11,750.74 L171.36,750.74 L171.61,750.74 L171.86,750.74 L172.11,750.75 L172.36,750.75 L172.61,750.75 L172.87,750.75 L173.12,750.76 L173.37,750.76 L173.62,750.76 L173.87,750.76 L174.12,750.76 L174.37,750.77 L174.62,750.77 L174.87,750.77 L175.12,750.77 L175.37,750.77 L175.62,750.77 L175.87,750.77 L176.12,750.78 L176.38,750.78 L176.63,750.78 L176.88,750.78 L177.13,750.78 L177.38,750.78 L177.63,750.78 L177.88,750.79 L178.13,750.79 L178.38,750.79 L178.63,750.79 L178.88,750.79 L179.13,750.79 L179.38,750.79 L179.63,750.79 L179.88,750.79 L180.14,750.79 L180.39,750.79 L180.64,750.79 L180.89,750.79 L181.14,750.80 L181.39,750.80 L181.64,750.80 L181.89,750.80 L182.14,750.80 L182.39,750.80 L182.64,750.80 L182.89,750.80 L183.14,750.80 L183.39,750.80 L183.65,750.80 L183.90,750.80 L184.15,750.80 L184.40,750.80 L184.65,750.80 L184.90,750.80 L185.15,750.80 L185.40,750.80 L185.40,750.80 L185.15,750.80 L184.90,750.80 L184.65,750.80 L184.40,750.80 L184.15,750.80 L183.90,750.80 L183.65,750.80 L183.39,750.80 L183.14,750.80 L182.89,750.80 L182.64,750.80 L182.39,750.80 L182.14,750.80 L181.89,750.80 L181.64,750.80 L181.39,750.80 L181.14,750.80 L180.89,750.81 L180.64,750.81 L180.39,750.81 L180.14,750.81 L179.88,750.81 L179.63,750.81 L179.38,750.81 L179.13,750.81 L178.88,750.81 L178.63,750.81 L178.38,750.81 L178.13,750.81 L177.88,750.81 L177.63,750.82 L177.38,750.82 L177.13,750.82 L176.88,750.82 L176.63,750.82 L176.38,750.82 L176.12,750.82 L175.87,750.83 L175.62,750.83 L175.37,750.83 L175.12,750.83 L174.87,750.83 L174.62,750.83 L174.37,750.83 L174.12,750.84 L173.87,750.84 L173.62,750.84 L173.37,750.84 L173.12,750.84 L172.87,750.85 L172.61,750.85 L172.36,750.85 L172.11,750.85 L171.86,750.86 L171.61,750.86 L171.36,750.86 L171.11,750.86 L170.86,750.87 L170.61,750.87 L170.36,750.87 L170.11,750.87 L169.86,750.88 L169.61,750.88 L169.36,750.88 L169.11,750.88 L168.85,750.89 L168.60,750.89 L168.35,750.89 L168.10,750.90 L167.85,750.90 L167.60,750.90 L167.35,750.91 L167.10,750.91 L166.85,750.91 L166.60,750.92 L166.35,750.92 L166.10,750.93 L165.85,750.93 L165.60,750.93 L165.34,750.94 L165.09,750.94 L164.84,750.95 L164.59,750.95 L164.34,750.95 L164.09,750.96 L163.84,750.96 L163.59,750.97 L163.34,750.97 L163.09,750.98 L162.84,750.98 L162.59,750.99 L162.34,750.99 L162.09,751.00 L161.84,751.00 L161.58,751.01 L161.33,751.01 L161.08,751.02 L160.83,751.02 L160.58,751.03 L160.33,751.04 L160.08,751.04 L159.83,751.05 L159.58,751.06 L159.33,751.08 L159.08,751.13 L158.83,751.20 L158.58,751.28 L158.33,751.38 L158.07,751.50 L157.82,751.63 L157.57,751.77 L157.32,751.93 L157.07,752.09 L156.82,752.27 L156.57,752.45 L156.32,752.64 L156.07,752.83 L155.82,753.03 L155.57,753.23 L155.32,753.43 L155.07,753.63 L154.82,753.84 L154.57,754.03 L154.31,754.23 L154.06,754.42 L153.81,754.60 L153.56,754.78 L153.31,754.95 L153.06,755.10 L152.81,755.25 L152.56,755.40 L152.31,755.56 L152.06,755.72 L151.81,755.89 L151.56,756.06 L151.31,756.24 L151.06,756.41 L150.80,756.59 L150.55,756.78 L150.30,756.96 L150.05,757.14 L149.80,757.32 L149.55,757.50 L149.30,757.68 L149.05,757.86 L148.80,758.04 L148.55,758.21 L148.30,758.37 L148.05,758.53 L147.80,758.69 L147.55,758.84 L147.30,758.98 L147.04,759.11 L146.79,759.24 L146.54,759.36 L146.29,759.47 L146.04,759.56 L145.79,759.65 L145.54,759.72 L145.29,759.79 L145.04,759.84 L144.79,759.87 L144.54,759.89 L144.29,759.90 L144.04,759.89 L143.79,759.87 L143.53,759.82 L143.28,759.77 L143.03,759.70 L142.78,759.62 L142.53,759.52 L142.28,759.42 L142.03,759.30 L141.78,759.18 L141.53,759.04 L141.28,758.90 L141.03,758.75 L140.78,758.59 L140.53,758.42 L140.28,758.25 L140.03,758.08 L139.77,757.90 L139.52,757.72 L139.27,757.54 L139.02,757.35 L138.77,757.17 L138.52,756.98 L138.27,756.80 L138.02,756.62 L137.77,756.44 L137.52,756.26 L137.27,756.09 L137.02,755.92 L136.77,755.76 L136.52,755.60 L136.26,755.45 L136.01,755.31 L135.76,755.18 L135.51,755.05 L135.26,754.91 L135.01,754.77 L134.76,754.62 L134.51,754.47 L134.26,754.32 L134.01,754.17 L133.76,754.01 L133.51,753.85 L133.26,753.69 L133.01,753.54 L132.76,753.38 L132.50,753.22 L132.25,753.06 L132.00,752.91 L131.75,752.76 L131.50,752.61 L131.25,752.47 L131.00,752.32 L130.75,752.19 L130.50,752.06 L130.25,751.93 L130.00,751.81 L129.75,751.70 L129.50,751.59 L129.25,751.49 L128.99,751.40 L128.74,751.32 L128.49,751.25 L128.24,751.19 L127.99,751.14 L127.74,751.10 L127.49,751.07 L127.24,751.05 L126.99,751.04 L126.74,751.03 L126.49,751.02 L126.24,751.02 L125.99,751.01 L125.74,751.00 L125.49,750.99 L125.23,750.98 L124.98,750.98 L124.73,750.97 L124.48,750.96 L124.23,750.95 L123.98,750.95 L123.73,750.94 L123.48,750.93 L123.23,750.93 L122.98,750.92 L122.73,750.92 L122.48,750.91 L122.23,750.90 L121.98,750.90 L121.72,750.89 L121.47,750.89 L121.22,750.88 L120.97,750.88 L120.72,750.87 L120.47,750.87 L120.22,750.86 L119.97,750.86 L119.72,750.86 L119.47,750.85 L119.22,750.85 L118.97,750.84 L118.72,750.84 L118.47,750.84 L118.22,750.83 L117.96,750.83 L117.71,750.83 L117.46,750.83 L117.21,750.82 L116.96,750.82 L116.71,750.82 L116.46,750.82 L116.21,750.81 L115.96,750.81 L115.71,750.81 L115.46,750.81 L115.21,750.81 L114.96,750.81 L114.71,750.80 L114.45,750.80 L114.20,750.80 L113.95,750.80 L113.70,750.80 L113.45,750.80 L113.20,750.80 L112.95,750.80 L112.70,750.80Z" fill="#fff" stroke="#F86660" stroke-width="1.2" stroke-linejoin="round"/>
<path d="M111.80,818.60 L112.05,818.60 L112.30,818.60 L112.55,818.60 L112.80,818.60 L113.05,818.60 L113.30,818.60 L113.55,818.60 L113.80,818.60 L114.05,818.60 L114.30,818.60 L114.56,818.60 L114.81,818.60 L115.06,818.60 L115.31,818.59 L115.56,818.59 L115.81,818.59 L116.06,818.59 L116.31,818.59 L116.56,818.59 L116.81,818.59 L117.06,818.59 L117.31,818.59 L117.56,818.59 L117.81,818.58 L118.06,818.58 L118.31,818.58 L118.56,818.58 L118.81,818.58 L119.06,818.58 L119.31,818.57 L119.57,818.57 L119.82,818.57 L120.07,818.57 L120.32,818.57 L120.57,818.56 L120.82,818.56 L121.07,818.56 L121.32,818.56 L121.57,818.55 L121.82,818.55 L122.07,818.55 L122.32,818.55 L122.57,818.54 L122.82,818.54 L123.07,818.54 L123.32,818.53 L123.57,818.53 L123.82,818.53 L124.07,818.52 L124.32,818.52 L124.57,818.52 L124.83,818.51 L125.08,818.51 L125.33,818.50 L125.58,818.50 L125.83,818.50 L126.08,818.49 L126.33,818.49 L126.58,818.48 L126.83,818.48 L127.08,818.47 L127.33,818.47 L127.58,818.46 L127.83,818.46 L128.08,818.45 L128.33,818.45 L128.58,818.44 L128.83,818.44 L129.08,818.43 L129.33,818.43 L129.58,818.42 L129.84,818.42 L130.09,818.41 L130.34,818.40 L130.59,818.40 L130.84,818.39 L131.09,818.39 L131.34,818.38 L131.59,818.37 L131.84,818.37 L132.09,818.36 L132.34,818.35 L132.59,818.34 L132.84,818.31 L133.09,818.27 L133.34,818.21 L133.59,818.13 L133.84,818.04 L134.09,817.94 L134.34,817.83 L134.59,817.70 L134.84,817.56 L135.10,817.42 L135.35,817.27 L135.60,817.10 L135.85,816.93 L136.10,816.76 L136.35,816.58 L136.60,816.39 L136.85,816.20 L137.10,816.01 L137.35,815.82 L137.60,815.62 L137.85,815.43 L138.10,815.23 L138.35,815.04 L138.60,814.85 L138.85,814.66 L139.10,814.47 L139.35,814.28 L139.60,814.07 L139.85,813.83 L140.11,813.58 L140.36,813.30 L140.61,813.01 L140.86,812.71 L141.11,812.40 L141.36,812.08 L141.61,811.76 L141.86,811.44 L142.11,811.12 L142.36,810.81 L142.61,810.51 L142.86,810.22 L143.11,809.95 L143.36,809.69 L143.61,809.46 L143.86,809.26 L144.11,809.08 L144.36,808.93 L144.61,808.82 L144.86,808.74 L145.11,808.70 L145.37,808.71 L145.62,808.75 L145.87,808.83 L146.12,808.95 L146.37,809.09 L146.62,809.26 L146.87,809.45 L147.12,809.66 L147.37,809.89 L147.62,810.13 L147.87,810.39 L148.12,810.66 L148.37,810.93 L148.62,811.20 L148.87,811.48 L149.12,811.75 L149.37,812.01 L149.62,812.27 L149.87,812.52 L150.12,812.75 L150.38,812.96 L150.63,813.15 L150.88,813.32 L151.13,813.46 L151.38,813.58 L151.63,813.70 L151.88,813.82 L152.13,813.93 L152.38,814.04 L152.63,814.15 L152.88,814.26 L153.13,814.37 L153.38,814.47 L153.63,814.57 L153.88,814.67 L154.13,814.77 L154.38,814.86 L154.63,814.95 L154.88,815.04 L155.13,815.13 L155.38,815.22 L155.64,815.30 L155.89,815.38 L156.14,815.46 L156.39,815.54 L156.64,815.61 L156.89,815.68 L157.14,815.75 L157.39,815.82 L157.64,815.88 L157.89,815.94 L158.14,816.00 L158.39,816.05 L158.64,816.11 L158.89,816.16 L159.14,816.20 L159.39,816.25 L159.64,816.29 L159.89,816.33 L160.14,816.37 L160.39,816.40 L160.65,816.44 L160.90,816.47 L161.15,816.50 L161.40,816.53 L161.65,816.56 L161.90,816.59 L162.15,816.62 L162.40,816.64 L162.65,816.67 L162.90,816.69 L163.15,816.72 L163.40,816.74 L163.65,816.76 L163.90,816.79 L164.15,816.81 L164.40,816.83 L164.65,816.85 L164.90,816.87 L165.15,816.89 L165.40,816.92 L165.65,816.94 L165.91,816.96 L166.16,816.98 L166.41,817.00 L166.66,817.03 L166.91,817.05 L167.16,817.08 L167.41,817.10 L167.66,817.13 L167.91,817.16 L168.16,817.18 L168.41,817.21 L168.66,817.25 L168.91,817.28 L169.16,817.32 L169.41,817.35 L169.66,817.39 L169.91,817.43 L170.16,817.48 L170.41,817.52 L170.66,817.56 L170.92,817.61 L171.17,817.65 L171.42,817.70 L171.67,817.74 L171.92,817.79 L172.17,817.83 L172.42,817.88 L172.67,817.92 L172.92,817.96 L173.17,818.00 L173.42,818.04 L173.67,818.08 L173.92,818.12 L174.17,818.15 L174.42,818.19 L174.67,818.22 L174.92,818.24 L175.17,818.27 L175.42,818.29 L175.67,818.31 L175.92,818.33 L176.18,818.34 L176.43,818.35 L176.68,818.35 L176.93,818.35 L177.18,818.35 L177.43,818.35 L177.68,818.35 L177.93,818.35 L178.18,818.35 L178.43,818.35 L178.68,818.35 L178.93,818.35 L179.18,818.35 L179.43,818.35 L179.68,818.35 L179.93,818.35 L180.18,818.35 L180.43,818.35 L180.68,818.35 L180.93,818.35 L181.19,818.35 L181.44,818.35 L181.69,818.35 L181.94,818.35 L182.19,818.35 L182.44,818.35 L182.69,818.35 L182.94,818.35 L183.19,818.35 L183.44,818.35 L183.69,818.35 L183.94,818.35 L184.19,818.35 L184.44,818.35 L184.69,818.35 L184.94,818.35 L185.19,818.35 L185.44,818.35 L185.69,818.35 L185.94,818.35 L186.19,818.35 L186.45,818.35 L186.70,818.35 L186.95,818.35 L187.20,818.35 L187.45,818.35 L187.70,818.35 L187.95,818.35 L188.20,818.35 L188.45,818.35 L188.70,818.35 L188.95,818.35 L189.20,818.35 L189.45,818.35 L189.70,818.35 L189.95,818.35 L190.20,818.35 L190.45,818.35 L190.70,818.35 L190.95,818.35 L191.20,818.35 L191.46,818.35 L191.71,818.35 L191.96,818.35 L192.21,818.35 L192.46,818.35 L192.71,818.35 L192.96,818.35 L193.21,818.35 L193.46,818.35 L193.71,818.35 L193.96,818.35 L194.21,818.35 L194.46,818.35 L194.71,818.35 L194.96,818.35 L195.21,818.35 L195.46,818.35 L195.71,818.35 L195.96,818.35 L196.21,818.35 L196.46,818.35 L196.72,818.35 L196.97,818.35 L197.22,818.35 L197.47,818.35 L197.72,818.35 L197.97,818.35 L198.22,818.35 L198.47,818.35 L198.72,818.35 L198.97,818.35 L199.22,818.35 L199.47,818.35 L199.72,818.35 L199.97,818.35 L200.22,818.35 L200.47,818.35 L200.72,818.35 L200.97,818.35 L201.22,818.35 L201.47,818.35 L201.73,818.36 L201.98,818.36 L202.23,818.36 L202.48,818.36 L202.73,818.36 L202.98,818.37 L203.23,818.37 L203.48,818.37 L203.73,818.37 L203.98,818.38 L204.23,818.38 L204.48,818.38 L204.73,818.39 L204.98,818.39 L205.23,818.40 L205.48,818.40 L205.73,818.40 L205.98,818.41 L206.23,818.41 L206.48,818.42 L206.73,818.42 L206.99,818.43 L207.24,818.43 L207.49,818.44 L207.74,818.44 L207.99,818.45 L208.24,818.45 L208.49,818.46 L208.74,818.46 L208.99,818.47 L209.24,818.47 L209.49,818.48 L209.74,818.49 L209.99,818.49 L210.24,818.50 L210.49,818.50 L210.74,818.51 L210.99,818.52 L211.24,818.52 L211.49,818.53 L211.74,818.53 L212.00,818.54 L212.25,818.55 L212.50,818.55 L212.75,818.56 L213.00,818.56 L213.25,818.57 L213.50,818.58 L213.75,818.58 L214.00,818.59 L214.25,818.59 L214.50,818.60 L214.50,818.60 L214.25,818.61 L214.00,818.61 L213.75,818.62 L213.50,818.62 L213.25,818.63 L213.00,818.64 L212.75,818.64 L212.50,818.65 L212.25,818.65 L212.00,818.66 L211.74,818.67 L211.49,818.67 L211.24,818.68 L210.99,818.68 L210.74,818.69 L210.49,818.70 L210.24,818.70 L209.99,818.71 L209.74,818.71 L209.49,818.72 L209.24,818.73 L208.99,818.73 L208.74,818.74 L208.49,818.74 L208.24,818.75 L207.99,818.75 L207.74,818.76 L207.49,818.76 L207.24,818.77 L206.99,818.77 L206.73,818.78 L206.48,818.78 L206.23,818.79 L205.98,818.79 L205.73,818.80 L205.48,818.80 L205.23,818.80 L204.98,818.81 L204.73,818.81 L204.48,818.82 L204.23,818.82 L203.98,818.82 L203.73,818.83 L203.48,818.83 L203.23,818.83 L202.98,818.83 L202.73,818.84 L202.48,818.84 L202.23,818.84 L201.98,818.84 L201.73,818.84 L201.47,818.85 L201.22,818.85 L200.97,818.85 L200.72,818.85 L200.47,818.85 L200.22,818.85 L199.97,818.85 L199.72,818.85 L199.47,818.85 L199.22,818.85 L198.97,818.85 L198.72,818.85 L198.47,818.85 L198.22,818.85 L197.97,818.85 L197.72,818.85 L197.47,818.85 L197.22,818.85 L196.97,818.85 L196.72,818.85 L196.46,818.85 L196.21,818.85 L195.96,818.85 L195.71,818.85 L195.46,818.85 L195.21,818.85 L194.96,818.85 L194.71,818.85 L194.46,818.85 L194.21,818.85 L193.96,818.85 L193.71,818.85 L193.46,818.85 L193.21,818.85 L192.96,818.85 L192.71,818.85 L192.46,818.85 L192.21,818.85 L191.96,818.85 L191.71,818.85 L191.46,818.85 L191.20,818.85 L190.95,818.85 L190.70,818.85 L190.45,818.85 L190.20,818.85 L189.95,818.85 L189.70,818.85 L189.45,818.85 L189.20,818.85 L188.95,818.85 L188.70,818.85 L188.45,818.85 L188.20,818.85 L187.95,818.85 L187.70,818.85 L187.45,818.85 L187.20,818.85 L186.95,818.85 L186.70,818.85 L186.45,818.85 L186.19,818.85 L185.94,818.85 L185.69,818.85 L185.44,818.85 L185.19,818.85 L184.94,818.85 L184.69,818.85 L184.44,818.85 L184.19,818.85 L183.94,818.85 L183.69,818.85 L183.44,818.85 L183.19,818.85 L182.94,818.85 L182.69,818.85 L182.44,818.85 L182.19,818.85 L181.94,818.85 L181.69,818.85 L181.44,818.85 L181.19,818.85 L180.93,818.85 L180.68,818.85 L180.43,818.85 L180.18,818.85 L179.93,818.85 L179.68,818.85 L179.43,818.85 L179.18,818.85 L178.93,818.85 L178.68,818.85 L178.43,818.85 L178.18,818.85 L177.93,818.85 L177.68,818.85 L177.43,818.85 L177.18,818.85 L176.93,818.85 L176.68,818.85 L176.43,818.85 L176.18,818.86 L175.92,818.87 L175.67,818.89 L175.42,818.91 L175.17,818.93 L174.92,818.96 L174.67,818.98 L174.42,819.01 L174.17,819.05 L173.92,819.08 L173.67,819.12 L173.42,819.16 L173.17,819.20 L172.92,819.24 L172.67,819.28 L172.42,819.32 L172.17,819.37 L171.92,819.41 L171.67,819.46 L171.42,819.50 L171.17,819.55 L170.92,819.59 L170.66,819.64 L170.41,819.68 L170.16,819.72 L169.91,819.77 L169.66,819.81 L169.41,819.85 L169.16,819.88 L168.91,819.92 L168.66,819.95 L168.41,819.99 L168.16,820.02 L167.91,820.04 L167.66,820.07 L167.41,820.10 L167.16,820.12 L166.91,820.15 L166.66,820.17 L166.41,820.20 L166.16,820.22 L165.91,820.24 L165.65,820.26 L165.40,820.28 L165.15,820.31 L164.90,820.33 L164.65,820.35 L164.40,820.37 L164.15,820.39 L163.90,820.41 L163.65,820.44 L163.40,820.46 L163.15,820.48 L162.90,820.51 L162.65,820.53 L162.40,820.56 L162.15,820.58 L161.90,820.61 L161.65,820.64 L161.40,820.67 L161.15,820.70 L160.90,820.73 L160.65,820.76 L160.39,820.80 L160.14,820.83 L159.89,820.87 L159.64,820.91 L159.39,820.95 L159.14,821.00 L158.89,821.04 L158.64,821.09 L158.39,821.15 L158.14,821.20 L157.89,821.26 L157.64,821.32 L157.39,821.38 L157.14,821.45 L156.89,821.52 L156.64,821.59 L156.39,821.66 L156.14,821.74 L155.89,821.82 L155.64,821.90 L155.38,821.98 L155.13,822.07 L154.88,822.16 L154.63,822.25 L154.38,822.34 L154.13,822.43 L153.88,822.53 L153.63,822.63 L153.38,822.73 L153.13,822.83 L152.88,822.94 L152.63,823.05 L152.38,823.16 L152.13,823.27 L151.88,823.38 L151.63,823.50 L151.38,823.62 L151.13,823.74 L150.88,823.88 L150.63,824.05 L150.38,824.24 L150.12,824.45 L149.87,824.68 L149.62,824.93 L149.37,825.19 L149.12,825.45 L148.87,825.72 L148.62,826.00 L148.37,826.27 L148.12,826.54 L147.87,826.81 L147.62,827.07 L147.37,827.31 L147.12,827.54 L146.87,827.75 L146.62,827.94 L146.37,828.11 L146.12,828.25 L145.87,828.37 L145.62,828.45 L145.37,828.49 L145.11,828.50 L144.86,828.46 L144.61,828.38 L144.36,828.27 L144.11,828.12 L143.86,827.94 L143.61,827.74 L143.36,827.51 L143.11,827.25 L142.86,826.98 L142.61,826.69 L142.36,826.39 L142.11,826.08 L141.86,825.76 L141.61,825.44 L141.36,825.12 L141.11,824.80 L140.86,824.49 L140.61,824.19 L140.36,823.90 L140.11,823.62 L139.85,823.37 L139.60,823.13 L139.35,822.92 L139.10,822.73 L138.85,822.54 L138.60,822.35 L138.35,822.16 L138.10,821.97 L137.85,821.77 L137.60,821.58 L137.35,821.38 L137.10,821.19 L136.85,821.00 L136.60,820.81 L136.35,820.62 L136.10,820.44 L135.85,820.27 L135.60,820.10 L135.35,819.93 L135.10,819.78 L134.84,819.64 L134.59,819.50 L134.34,819.37 L134.09,819.26 L133.84,819.16 L133.59,819.07 L133.34,818.99 L133.09,818.93 L132.84,818.89 L132.59,818.86 L132.34,818.85 L132.09,818.84 L131.84,818.83 L131.59,818.83 L131.34,818.82 L131.09,818.81 L130.84,818.81 L130.59,818.80 L130.34,818.80 L130.09,818.79 L129.84,818.78 L129.58,818.78 L129.33,818.77 L129.08,818.77 L128.83,818.76 L128.58,818.76 L128.33,818.75 L128.08,818.75 L127.83,818.74 L127.58,818.74 L127.33,818.73 L127.08,818.73 L126.83,818.72 L126.58,818.72 L126.33,818.71 L126.08,818.71 L125.83,818.70 L125.58,818.70 L125.33,818.70 L125.08,818.69 L124.83,818.69 L124.57,818.68 L124.32,818.68 L124.07,818.68 L123.82,818.67 L123.57,818.67 L123.32,818.67 L123.07,818.66 L122.82,818.66 L122.57,818.66 L122.32,818.65 L122.07,818.65 L121.82,818.65 L121.57,818.65 L121.32,818.64 L121.07,818.64 L120.82,818.64 L120.57,818.64 L120.32,818.63 L120.07,818.63 L119.82,818.63 L119.57,818.63 L119.31,818.63 L119.06,818.62 L118.81,818.62 L118.56,818.62 L118.31,818.62 L118.06,818.62 L117.81,818.62 L117.56,818.61 L117.31,818.61 L117.06,818.61 L116.81,818.61 L116.56,818.61 L116.31,818.61 L116.06,818.61 L115.81,818.61 L115.56,818.61 L115.31,818.61 L115.06,818.60 L114.81,818.60 L114.56,818.60 L114.30,818.60 L114.05,818.60 L113.80,818.60 L113.55,818.60 L113.30,818.60 L113.05,818.60 L112.80,818.60 L112.55,818.60 L112.30,818.60 L112.05,818.60 L111.80,818.60Z" fill="#fff" stroke="#F86660" stroke-width="1.2" stroke-linejoin="round"/>
<line x1="143.90" y1="533.1" x2="143.90" y2="877.2" stroke="#2a2a2a" stroke-width="1.2"/>
<circle cx="136.6" cy="660.40" r="2.85" fill="#F86660"/>
<circle cx="145.5" cy="750.80" r="2.85" fill="#F86660"/>
<circle cx="150.0" cy="818.60" r="2.85" fill="#F86660"/>
<line x1="108.0" y1="533.1" x2="108.0" y2="877.2" stroke="#8a8a8a" stroke-width="1.8"/>
<line x1="229.50" y1="533.1" x2="229.50" y2="877.2" stroke="#8a8a8a" stroke-width="1.8"/>
<line x1="107.15" y1="877.2" x2="230.35" y2="877.2" stroke="#262626" stroke-width="1.4"/>
<rect x="108.0" y="515.6" width="121.50" height="17.50" fill="#fff" stroke="#1a1a1a" stroke-width="1.5"/>
<text transform="translate(168.75,528.20) scale(1,1.06)" text-anchor="middle" class="st">Activity &amp; Behavior Groups</text>
<line x1="143.90" y1="877.2" x2="143.90" y2="879.4000000000001" stroke="#222" stroke-width="1.1"/>
<text transform="translate(143.90,888.80)" text-anchor="middle" class="bnum">1</text>
<line x1="183.30" y1="877.2" x2="183.30" y2="879.4000000000001" stroke="#222" stroke-width="1.1"/>
<text transform="translate(183.30,888.80)" text-anchor="middle" class="bnum">2</text>
<line x1="222.70" y1="877.2" x2="222.70" y2="879.4000000000001" stroke="#222" stroke-width="1.1"/>
<text transform="translate(222.70,888.80)" text-anchor="middle" class="bnum">3</text>
<line x1="252.60" y1="533.1" x2="252.60" y2="877.2" stroke="#f0f0f0" stroke-width="0.9"/>
<line x1="292.00" y1="533.1" x2="292.00" y2="877.2" stroke="#f0f0f0" stroke-width="0.9"/>
<line x1="331.40" y1="533.1" x2="331.40" y2="877.2" stroke="#f0f0f0" stroke-width="0.9"/>
<line x1="311.70" y1="533.1" x2="311.70" y2="877.2" stroke="#e8e8e8" stroke-width="1.1"/>
<line x1="351.10" y1="533.1" x2="351.10" y2="877.2" stroke="#e8e8e8" stroke-width="1.1"/>
<line x1="235.5" y1="547.40" x2="357.40" y2="547.40" stroke="#e6e6e6" stroke-width="1.3"/>
<line x1="235.5" y1="570.00" x2="357.40" y2="570.00" stroke="#e6e6e6" stroke-width="1.3"/>
<line x1="235.5" y1="592.60" x2="357.40" y2="592.60" stroke="#e6e6e6" stroke-width="1.3"/>
<line x1="235.5" y1="615.20" x2="357.40" y2="615.20" stroke="#e6e6e6" stroke-width="1.3"/>
<line x1="235.5" y1="637.80" x2="357.40" y2="637.80" stroke="#e6e6e6" stroke-width="1.3"/>
<line x1="235.5" y1="660.40" x2="357.40" y2="660.40" stroke="#e6e6e6" stroke-width="1.3"/>
<line x1="235.5" y1="683.00" x2="357.40" y2="683.00" stroke="#e6e6e6" stroke-width="1.3"/>
<line x1="235.5" y1="705.60" x2="357.40" y2="705.60" stroke="#e6e6e6" stroke-width="1.3"/>
<line x1="235.5" y1="728.20" x2="357.40" y2="728.20" stroke="#e6e6e6" stroke-width="1.3"/>
<line x1="235.5" y1="750.80" x2="357.40" y2="750.80" stroke="#e6e6e6" stroke-width="1.3"/>
<line x1="235.5" y1="773.40" x2="357.40" y2="773.40" stroke="#e6e6e6" stroke-width="1.3"/>
<line x1="235.5" y1="796.00" x2="357.40" y2="796.00" stroke="#e6e6e6" stroke-width="1.3"/>
<line x1="235.5" y1="818.60" x2="357.40" y2="818.60" stroke="#e6e6e6" stroke-width="1.3"/>
<line x1="235.5" y1="841.20" x2="357.40" y2="841.20" stroke="#e6e6e6" stroke-width="1.3"/>
<line x1="235.5" y1="863.80" x2="357.40" y2="863.80" stroke="#e6e6e6" stroke-width="1.3"/>
<path d="M257.40,547.40 L257.65,547.28 L257.90,547.16 L258.15,547.04 L258.40,546.91 L258.65,546.79 L258.90,546.65 L259.15,546.52 L259.40,546.39 L259.65,546.25 L259.90,546.11 L260.15,545.96 L260.40,545.82 L260.66,545.67 L260.91,545.52 L261.16,545.37 L261.41,545.21 L261.66,545.04 L261.91,544.87 L262.16,544.69 L262.41,544.50 L262.66,544.31 L262.91,544.12 L263.16,543.93 L263.41,543.73 L263.66,543.53 L263.91,543.34 L264.16,543.14 L264.41,542.94 L264.66,542.75 L264.91,542.56 L265.16,542.37 L265.41,542.19 L265.66,542.01 L265.91,541.84 L266.16,541.67 L266.41,541.51 L266.66,541.36 L266.92,541.21 L267.17,541.05 L267.42,540.88 L267.67,540.72 L267.92,540.55 L268.17,540.38 L268.42,540.21 L268.67,540.05 L268.92,539.89 L269.17,539.74 L269.42,539.60 L269.67,539.46 L269.92,539.34 L270.17,539.22 L270.42,539.13 L270.67,539.04 L270.92,538.98 L271.17,538.93 L271.42,538.91 L271.67,538.90 L271.92,538.99 L272.17,539.16 L272.42,539.42 L272.67,539.73 L272.92,540.10 L273.18,540.51 L273.43,540.94 L273.68,541.38 L273.93,541.81 L274.18,542.23 L274.43,542.61 L274.68,542.95 L274.93,543.23 L275.18,543.49 L275.43,543.75 L275.68,544.02 L275.93,544.29 L276.18,544.56 L276.43,544.82 L276.68,545.07 L276.93,545.30 L277.18,545.52 L277.43,545.71 L277.68,545.88 L277.93,546.01 L278.18,546.11 L278.43,546.18 L278.68,546.21 L278.93,546.22 L279.18,546.23 L279.44,546.25 L279.69,546.26 L279.94,546.27 L280.19,546.27 L280.44,546.28 L280.69,546.29 L280.94,546.29 L281.19,546.30 L281.44,546.30 L281.69,546.31 L281.94,546.31 L282.19,546.32 L282.44,546.32 L282.69,546.32 L282.94,546.33 L283.19,546.33 L283.44,546.34 L283.69,546.35 L283.94,546.35 L284.19,546.36 L284.44,546.37 L284.69,546.38 L284.94,546.40 L285.19,546.41 L285.44,546.44 L285.69,546.47 L285.95,546.51 L286.20,546.56 L286.45,546.61 L286.70,546.67 L286.95,546.72 L287.20,546.78 L287.45,546.84 L287.70,546.90 L287.95,546.95 L288.20,547.00 L288.45,547.04 L288.70,547.08 L288.95,547.11 L289.20,547.14 L289.45,547.15 L289.70,547.15 L289.95,547.15 L290.20,547.15 L290.45,547.15 L290.70,547.15 L290.95,547.15 L291.20,547.15 L291.45,547.15 L291.70,547.15 L291.95,547.15 L292.21,547.15 L292.46,547.15 L292.71,547.15 L292.96,547.15 L293.21,547.15 L293.46,547.15 L293.71,547.15 L293.96,547.15 L294.21,547.15 L294.46,547.15 L294.71,547.15 L294.96,547.15 L295.21,547.15 L295.46,547.15 L295.71,547.15 L295.96,547.15 L296.21,547.15 L296.46,547.15 L296.71,547.15 L296.96,547.15 L297.21,547.15 L297.46,547.15 L297.71,547.15 L297.96,547.15 L298.21,547.15 L298.47,547.15 L298.72,547.15 L298.97,547.15 L299.22,547.15 L299.47,547.15 L299.72,547.15 L299.97,547.15 L300.22,547.15 L300.47,547.15 L300.72,547.15 L300.97,547.15 L301.22,547.15 L301.47,547.15 L301.72,547.15 L301.97,547.15 L302.22,547.15 L302.47,547.15 L302.72,547.15 L302.97,547.15 L303.22,547.15 L303.47,547.15 L303.72,547.15 L303.97,547.15 L304.22,547.15 L304.47,547.15 L304.73,547.15 L304.98,547.15 L305.23,547.15 L305.48,547.15 L305.73,547.15 L305.98,547.15 L306.23,547.15 L306.48,547.15 L306.73,547.15 L306.98,547.15 L307.23,547.15 L307.48,547.15 L307.73,547.15 L307.98,547.15 L308.23,547.15 L308.48,547.15 L308.73,547.15 L308.98,547.15 L309.23,547.15 L309.48,547.15 L309.73,547.15 L309.98,547.15 L310.23,547.15 L310.48,547.15 L310.73,547.15 L310.99,547.15 L311.24,547.15 L311.49,547.15 L311.74,547.15 L311.99,547.15 L312.24,547.15 L312.49,547.15 L312.74,547.15 L312.99,547.15 L313.24,547.15 L313.49,547.15 L313.74,547.15 L313.99,547.15 L314.24,547.15 L314.49,547.15 L314.74,547.15 L314.99,547.15 L315.24,547.15 L315.49,547.15 L315.74,547.15 L315.99,547.15 L316.24,547.15 L316.49,547.15 L316.74,547.15 L316.99,547.15 L317.25,547.15 L317.50,547.15 L317.75,547.15 L318.00,547.15 L318.25,547.15 L318.50,547.15 L318.75,547.15 L319.00,547.15 L319.25,547.15 L319.50,547.15 L319.75,547.15 L320.00,547.15 L320.25,547.15 L320.50,547.15 L320.75,547.15 L321.00,547.15 L321.25,547.15 L321.50,547.15 L321.75,547.15 L322.00,547.15 L322.25,547.15 L322.50,547.15 L322.75,547.15 L323.00,547.15 L323.25,547.15 L323.51,547.15 L323.76,547.15 L324.01,547.15 L324.26,547.15 L324.51,547.15 L324.76,547.15 L325.01,547.15 L325.26,547.15 L325.51,547.15 L325.76,547.15 L326.01,547.15 L326.26,547.15 L326.51,547.15 L326.76,547.15 L327.01,547.15 L327.26,547.15 L327.51,547.15 L327.76,547.15 L328.01,547.15 L328.26,547.15 L328.51,547.15 L328.76,547.15 L329.01,547.15 L329.26,547.15 L329.51,547.15 L329.76,547.15 L330.02,547.15 L330.27,547.15 L330.52,547.15 L330.77,547.15 L331.02,547.15 L331.27,547.15 L331.52,547.15 L331.77,547.15 L332.02,547.15 L332.27,547.15 L332.52,547.15 L332.77,547.15 L333.02,547.15 L333.27,547.15 L333.52,547.15 L333.77,547.15 L334.02,547.15 L334.27,547.15 L334.52,547.15 L334.77,547.15 L335.02,547.15 L335.27,547.15 L335.52,547.15 L335.77,547.15 L336.02,547.15 L336.28,547.15 L336.53,547.15 L336.78,547.15 L337.03,547.15 L337.28,547.15 L337.53,547.15 L337.78,547.15 L338.03,547.15 L338.28,547.15 L338.53,547.15 L338.78,547.15 L339.03,547.15 L339.28,547.15 L339.53,547.15 L339.78,547.15 L340.03,547.15 L340.28,547.15 L340.53,547.14 L340.78,547.12 L341.03,547.10 L341.28,547.07 L341.53,547.04 L341.78,547.01 L342.03,546.97 L342.28,546.93 L342.54,546.88 L342.79,546.84 L343.04,546.79 L343.29,546.75 L343.54,546.70 L343.79,546.65 L344.04,546.61 L344.29,546.56 L344.54,546.52 L344.79,546.48 L345.04,546.44 L345.29,546.41 L345.54,546.38 L345.79,546.35 L346.04,546.33 L346.29,546.31 L346.54,546.30 L346.79,546.30 L347.04,546.30 L347.29,546.31 L347.54,546.33 L347.79,546.36 L348.04,546.39 L348.29,546.42 L348.54,546.46 L348.80,546.51 L349.05,546.56 L349.30,546.62 L349.55,546.68 L349.80,546.75 L350.05,546.82 L350.30,546.89 L350.55,546.97 L350.80,547.05 L351.05,547.13 L351.30,547.22 L351.55,547.31 L351.80,547.40 L351.80,547.40 L351.55,547.49 L351.30,547.58 L351.05,547.67 L350.80,547.75 L350.55,547.83 L350.30,547.91 L350.05,547.98 L349.80,548.05 L349.55,548.12 L349.30,548.18 L349.05,548.24 L348.80,548.29 L348.54,548.34 L348.29,548.38 L348.04,548.41 L347.79,548.44 L347.54,548.47 L347.29,548.49 L347.04,548.50 L346.79,548.50 L346.54,548.50 L346.29,548.49 L346.04,548.47 L345.79,548.45 L345.54,548.42 L345.29,548.39 L345.04,548.36 L344.79,548.32 L344.54,548.28 L344.29,548.24 L344.04,548.19 L343.79,548.15 L343.54,548.10 L343.29,548.05 L343.04,548.01 L342.79,547.96 L342.54,547.92 L342.28,547.87 L342.03,547.83 L341.78,547.79 L341.53,547.76 L341.28,547.73 L341.03,547.70 L340.78,547.68 L340.53,547.66 L340.28,547.65 L340.03,547.65 L339.78,547.65 L339.53,547.65 L339.28,547.65 L339.03,547.65 L338.78,547.65 L338.53,547.65 L338.28,547.65 L338.03,547.65 L337.78,547.65 L337.53,547.65 L337.28,547.65 L337.03,547.65 L336.78,547.65 L336.53,547.65 L336.28,547.65 L336.02,547.65 L335.77,547.65 L335.52,547.65 L335.27,547.65 L335.02,547.65 L334.77,547.65 L334.52,547.65 L334.27,547.65 L334.02,547.65 L333.77,547.65 L333.52,547.65 L333.27,547.65 L333.02,547.65 L332.77,547.65 L332.52,547.65 L332.27,547.65 L332.02,547.65 L331.77,547.65 L331.52,547.65 L331.27,547.65 L331.02,547.65 L330.77,547.65 L330.52,547.65 L330.27,547.65 L330.02,547.65 L329.76,547.65 L329.51,547.65 L329.26,547.65 L329.01,547.65 L328.76,547.65 L328.51,547.65 L328.26,547.65 L328.01,547.65 L327.76,547.65 L327.51,547.65 L327.26,547.65 L327.01,547.65 L326.76,547.65 L326.51,547.65 L326.26,547.65 L326.01,547.65 L325.76,547.65 L325.51,547.65 L325.26,547.65 L325.01,547.65 L324.76,547.65 L324.51,547.65 L324.26,547.65 L324.01,547.65 L323.76,547.65 L323.51,547.65 L323.25,547.65 L323.00,547.65 L322.75,547.65 L322.50,547.65 L322.25,547.65 L322.00,547.65 L321.75,547.65 L321.50,547.65 L321.25,547.65 L321.00,547.65 L320.75,547.65 L320.50,547.65 L320.25,547.65 L320.00,547.65 L319.75,547.65 L319.50,547.65 L319.25,547.65 L319.00,547.65 L318.75,547.65 L318.50,547.65 L318.25,547.65 L318.00,547.65 L317.75,547.65 L317.50,547.65 L317.25,547.65 L316.99,547.65 L316.74,547.65 L316.49,547.65 L316.24,547.65 L315.99,547.65 L315.74,547.65 L315.49,547.65 L315.24,547.65 L314.99,547.65 L314.74,547.65 L314.49,547.65 L314.24,547.65 L313.99,547.65 L313.74,547.65 L313.49,547.65 L313.24,547.65 L312.99,547.65 L312.74,547.65 L312.49,547.65 L312.24,547.65 L311.99,547.65 L311.74,547.65 L311.49,547.65 L311.24,547.65 L310.99,547.65 L310.73,547.65 L310.48,547.65 L310.23,547.65 L309.98,547.65 L309.73,547.65 L309.48,547.65 L309.23,547.65 L308.98,547.65 L308.73,547.65 L308.48,547.65 L308.23,547.65 L307.98,547.65 L307.73,547.65 L307.48,547.65 L307.23,547.65 L306.98,547.65 L306.73,547.65 L306.48,547.65 L306.23,547.65 L305.98,547.65 L305.73,547.65 L305.48,547.65 L305.23,547.65 L304.98,547.65 L304.73,547.65 L304.47,547.65 L304.22,547.65 L303.97,547.65 L303.72,547.65 L303.47,547.65 L303.22,547.65 L302.97,547.65 L302.72,547.65 L302.47,547.65 L302.22,547.65 L301.97,547.65 L301.72,547.65 L301.47,547.65 L301.22,547.65 L300.97,547.65 L300.72,547.65 L300.47,547.65 L300.22,547.65 L299.97,547.65 L299.72,547.65 L299.47,547.65 L299.22,547.65 L298.97,547.65 L298.72,547.65 L298.47,547.65 L298.21,547.65 L297.96,547.65 L297.71,547.65 L297.46,547.65 L297.21,547.65 L296.96,547.65 L296.71,547.65 L296.46,547.65 L296.21,547.65 L295.96,547.65 L295.71,547.65 L295.46,547.65 L295.21,547.65 L294.96,547.65 L294.71,547.65 L294.46,547.65 L294.21,547.65 L293.96,547.65 L293.71,547.65 L293.46,547.65 L293.21,547.65 L292.96,547.65 L292.71,547.65 L292.46,547.65 L292.21,547.65 L291.95,547.65 L291.70,547.65 L291.45,547.65 L291.20,547.65 L290.95,547.65 L290.70,547.65 L290.45,547.65 L290.20,547.65 L289.95,547.65 L289.70,547.65 L289.45,547.65 L289.20,547.66 L288.95,547.69 L288.70,547.72 L288.45,547.76 L288.20,547.80 L287.95,547.85 L287.70,547.90 L287.45,547.96 L287.20,548.02 L286.95,548.08 L286.70,548.13 L286.45,548.19 L286.20,548.24 L285.95,548.29 L285.69,548.33 L285.44,548.36 L285.19,548.39 L284.94,548.40 L284.69,548.42 L284.44,548.43 L284.19,548.44 L283.94,548.45 L283.69,548.45 L283.44,548.46 L283.19,548.47 L282.94,548.47 L282.69,548.48 L282.44,548.48 L282.19,548.48 L281.94,548.49 L281.69,548.49 L281.44,548.50 L281.19,548.50 L280.94,548.51 L280.69,548.51 L280.44,548.52 L280.19,548.53 L279.94,548.53 L279.69,548.54 L279.44,548.55 L279.18,548.57 L278.93,548.58 L278.68,548.59 L278.43,548.62 L278.18,548.69 L277.93,548.79 L277.68,548.92 L277.43,549.09 L277.18,549.28 L276.93,549.50 L276.68,549.73 L276.43,549.98 L276.18,550.24 L275.93,550.51 L275.68,550.78 L275.43,551.05 L275.18,551.31 L274.93,551.57 L274.68,551.85 L274.43,552.19 L274.18,552.57 L273.93,552.99 L273.68,553.42 L273.43,553.86 L273.18,554.29 L272.92,554.70 L272.67,555.07 L272.42,555.38 L272.17,555.64 L271.92,555.81 L271.67,555.90 L271.42,555.89 L271.17,555.87 L270.92,555.82 L270.67,555.76 L270.42,555.67 L270.17,555.58 L269.92,555.46 L269.67,555.34 L269.42,555.20 L269.17,555.06 L268.92,554.91 L268.67,554.75 L268.42,554.59 L268.17,554.42 L267.92,554.25 L267.67,554.08 L267.42,553.92 L267.17,553.75 L266.92,553.59 L266.66,553.44 L266.41,553.29 L266.16,553.13 L265.91,552.96 L265.66,552.79 L265.41,552.61 L265.16,552.43 L264.91,552.24 L264.66,552.05 L264.41,551.86 L264.16,551.66 L263.91,551.46 L263.66,551.27 L263.41,551.07 L263.16,550.87 L262.91,550.68 L262.66,550.49 L262.41,550.30 L262.16,550.11 L261.91,549.93 L261.66,549.76 L261.41,549.59 L261.16,549.43 L260.91,549.28 L260.66,549.13 L260.40,548.98 L260.15,548.84 L259.90,548.69 L259.65,548.55 L259.40,548.41 L259.15,548.28 L258.90,548.15 L258.65,548.01 L258.40,547.89 L258.15,547.76 L257.90,547.64 L257.65,547.52 L257.40,547.40Z" fill="#fff" stroke="#A2AA00" stroke-width="1.2" stroke-linejoin="round"/>
<path d="M253.70,570.00 L253.95,570.00 L254.20,570.00 L254.45,569.99 L254.70,569.98 L254.95,569.97 L255.20,569.96 L255.45,569.94 L255.70,569.93 L255.95,569.91 L256.20,569.88 L256.45,569.86 L256.70,569.84 L256.95,569.81 L257.20,569.78 L257.45,569.75 L257.70,569.71 L257.95,569.68 L258.20,569.64 L258.45,569.60 L258.70,569.56 L258.95,569.52 L259.20,569.47 L259.45,569.43 L259.70,569.38 L259.95,569.33 L260.20,569.28 L260.45,569.19 L260.70,569.08 L260.95,568.93 L261.20,568.76 L261.45,568.57 L261.70,568.36 L261.95,568.14 L262.20,567.91 L262.45,567.68 L262.70,567.44 L262.95,567.21 L263.20,566.99 L263.45,566.77 L263.70,566.57 L263.95,566.39 L264.20,566.19 L264.45,565.98 L264.70,565.76 L264.95,565.53 L265.20,565.30 L265.45,565.07 L265.70,564.84 L265.95,564.61 L266.20,564.40 L266.45,564.19 L266.70,564.00 L266.95,563.83 L267.20,563.67 L267.45,563.54 L267.70,563.43 L267.95,563.36 L268.20,563.31 L268.45,563.30 L268.70,563.32 L268.95,563.37 L269.20,563.44 L269.45,563.53 L269.70,563.64 L269.95,563.76 L270.20,563.90 L270.45,564.05 L270.70,564.20 L270.95,564.36 L271.20,564.53 L271.45,564.69 L271.70,564.85 L271.95,565.01 L272.20,565.16 L272.45,565.33 L272.70,565.53 L272.95,565.74 L273.20,565.97 L273.45,566.20 L273.70,566.44 L273.95,566.68 L274.20,566.91 L274.45,567.13 L274.70,567.33 L274.95,567.51 L275.20,567.66 L275.45,567.79 L275.70,567.88 L275.95,567.93 L276.20,567.98 L276.45,568.03 L276.70,568.08 L276.95,568.12 L277.20,568.16 L277.45,568.20 L277.70,568.23 L277.95,568.27 L278.20,568.30 L278.45,568.32 L278.70,568.34 L278.95,568.36 L279.20,568.38 L279.45,568.39 L279.70,568.40 L279.95,568.40 L280.20,568.40 L280.45,568.39 L280.70,568.37 L280.95,568.35 L281.20,568.33 L281.45,568.30 L281.70,568.27 L281.95,568.23 L282.20,568.19 L282.45,568.16 L282.70,568.12 L282.95,568.08 L283.20,568.05 L283.45,568.01 L283.70,567.98 L283.95,567.96 L284.20,567.93 L284.45,567.92 L284.70,567.91 L284.95,567.90 L285.20,567.91 L285.45,567.94 L285.70,567.98 L285.95,568.05 L286.20,568.13 L286.45,568.22 L286.70,568.32 L286.95,568.43 L287.20,568.55 L287.45,568.67 L287.70,568.80 L287.95,568.93 L288.20,569.05 L288.45,569.17 L288.70,569.29 L288.95,569.39 L289.20,569.49 L289.45,569.57 L289.70,569.64 L289.95,569.70 L290.20,569.73 L290.45,569.75 L290.70,569.75 L290.95,569.75 L291.20,569.75 L291.45,569.75 L291.70,569.75 L291.95,569.75 L292.20,569.75 L292.45,569.75 L292.70,569.75 L292.95,569.75 L293.20,569.75 L293.45,569.75 L293.70,569.75 L293.95,569.75 L294.20,569.75 L294.45,569.75 L294.70,569.75 L294.95,569.75 L295.20,569.75 L295.45,569.75 L295.70,569.75 L295.95,569.75 L296.20,569.75 L296.45,569.75 L296.70,569.75 L296.95,569.75 L297.20,569.75 L297.45,569.75 L297.70,569.75 L297.95,569.75 L298.20,569.75 L298.45,569.75 L298.70,569.75 L298.95,569.75 L299.20,569.75 L299.45,569.75 L299.70,569.75 L299.95,569.75 L300.20,569.75 L300.45,569.74 L300.70,569.73 L300.95,569.72 L301.20,569.71 L301.45,569.69 L301.70,569.67 L301.95,569.65 L302.20,569.62 L302.45,569.60 L302.70,569.57 L302.95,569.54 L303.20,569.51 L303.45,569.48 L303.70,569.45 L303.95,569.42 L304.20,569.39 L304.45,569.37 L304.70,569.34 L304.95,569.31 L305.20,569.29 L305.45,569.27 L305.70,569.25 L305.95,569.23 L306.20,569.22 L306.45,569.21 L306.70,569.20 L306.95,569.20 L307.20,569.20 L307.45,569.20 L307.70,569.20 L307.95,569.21 L308.20,569.21 L308.45,569.21 L308.70,569.22 L308.95,569.22 L309.20,569.23 L309.45,569.24 L309.70,569.25 L309.95,569.26 L310.20,569.27 L310.45,569.28 L310.70,569.29 L310.95,569.31 L311.20,569.32 L311.45,569.34 L311.70,569.35 L311.95,569.37 L312.20,569.39 L312.45,569.41 L312.70,569.43 L312.95,569.45 L313.20,569.47 L313.45,569.50 L313.70,569.52 L313.95,569.55 L314.20,569.58 L314.45,569.61 L314.70,569.63 L314.95,569.67 L315.20,569.70 L315.45,569.73 L315.70,569.77 L315.95,569.80 L316.20,569.84 L316.45,569.88 L316.70,569.92 L316.95,569.96 L317.20,570.00 L317.20,570.00 L316.95,570.04 L316.70,570.08 L316.45,570.12 L316.20,570.16 L315.95,570.20 L315.70,570.23 L315.45,570.27 L315.20,570.30 L314.95,570.33 L314.70,570.37 L314.45,570.39 L314.20,570.42 L313.95,570.45 L313.70,570.48 L313.45,570.50 L313.20,570.53 L312.95,570.55 L312.70,570.57 L312.45,570.59 L312.20,570.61 L311.95,570.63 L311.70,570.65 L311.45,570.66 L311.20,570.68 L310.95,570.69 L310.70,570.71 L310.45,570.72 L310.20,570.73 L309.95,570.74 L309.70,570.75 L309.45,570.76 L309.20,570.77 L308.95,570.78 L308.70,570.78 L308.45,570.79 L308.20,570.79 L307.95,570.79 L307.70,570.80 L307.45,570.80 L307.20,570.80 L306.95,570.80 L306.70,570.80 L306.45,570.79 L306.20,570.78 L305.95,570.77 L305.70,570.75 L305.45,570.73 L305.20,570.71 L304.95,570.69 L304.70,570.66 L304.45,570.63 L304.20,570.61 L303.95,570.58 L303.70,570.55 L303.45,570.52 L303.20,570.49 L302.95,570.46 L302.70,570.43 L302.45,570.40 L302.20,570.38 L301.95,570.35 L301.70,570.33 L301.45,570.31 L301.20,570.29 L300.95,570.28 L300.70,570.27 L300.45,570.26 L300.20,570.25 L299.95,570.25 L299.70,570.25 L299.45,570.25 L299.20,570.25 L298.95,570.25 L298.70,570.25 L298.45,570.25 L298.20,570.25 L297.95,570.25 L297.70,570.25 L297.45,570.25 L297.20,570.25 L296.95,570.25 L296.70,570.25 L296.45,570.25 L296.20,570.25 L295.95,570.25 L295.70,570.25 L295.45,570.25 L295.20,570.25 L294.95,570.25 L294.70,570.25 L294.45,570.25 L294.20,570.25 L293.95,570.25 L293.70,570.25 L293.45,570.25 L293.20,570.25 L292.95,570.25 L292.70,570.25 L292.45,570.25 L292.20,570.25 L291.95,570.25 L291.70,570.25 L291.45,570.25 L291.20,570.25 L290.95,570.25 L290.70,570.25 L290.45,570.25 L290.20,570.27 L289.95,570.30 L289.70,570.36 L289.45,570.43 L289.20,570.51 L288.95,570.61 L288.70,570.71 L288.45,570.83 L288.20,570.95 L287.95,571.07 L287.70,571.20 L287.45,571.33 L287.20,571.45 L286.95,571.57 L286.70,571.68 L286.45,571.78 L286.20,571.87 L285.95,571.95 L285.70,572.02 L285.45,572.06 L285.20,572.09 L284.95,572.10 L284.70,572.09 L284.45,572.08 L284.20,572.07 L283.95,572.04 L283.70,572.02 L283.45,571.99 L283.20,571.95 L282.95,571.92 L282.70,571.88 L282.45,571.84 L282.20,571.81 L281.95,571.77 L281.70,571.73 L281.45,571.70 L281.20,571.67 L280.95,571.65 L280.70,571.63 L280.45,571.61 L280.20,571.60 L279.95,571.60 L279.70,571.60 L279.45,571.61 L279.20,571.62 L278.95,571.64 L278.70,571.66 L278.45,571.68 L278.20,571.70 L277.95,571.73 L277.70,571.77 L277.45,571.80 L277.20,571.84 L276.95,571.88 L276.70,571.92 L276.45,571.97 L276.20,572.02 L275.95,572.07 L275.70,572.12 L275.45,572.21 L275.20,572.34 L274.95,572.49 L274.70,572.67 L274.45,572.87 L274.20,573.09 L273.95,573.32 L273.70,573.56 L273.45,573.80 L273.20,574.03 L272.95,574.26 L272.70,574.47 L272.45,574.67 L272.20,574.84 L271.95,574.99 L271.70,575.15 L271.45,575.31 L271.20,575.47 L270.95,575.64 L270.70,575.80 L270.45,575.95 L270.20,576.10 L269.95,576.24 L269.70,576.36 L269.45,576.47 L269.20,576.56 L268.95,576.63 L268.70,576.68 L268.45,576.70 L268.20,576.69 L267.95,576.64 L267.70,576.57 L267.45,576.46 L267.20,576.33 L266.95,576.17 L266.70,576.00 L266.45,575.81 L266.20,575.60 L265.95,575.39 L265.70,575.16 L265.45,574.93 L265.20,574.70 L264.95,574.47 L264.70,574.24 L264.45,574.02 L264.20,573.81 L263.95,573.61 L263.70,573.43 L263.45,573.23 L263.20,573.01 L262.95,572.79 L262.70,572.56 L262.45,572.32 L262.20,572.09 L261.95,571.86 L261.70,571.64 L261.45,571.43 L261.20,571.24 L260.95,571.07 L260.70,570.92 L260.45,570.81 L260.20,570.72 L259.95,570.67 L259.70,570.62 L259.45,570.57 L259.20,570.53 L258.95,570.48 L258.70,570.44 L258.45,570.40 L258.20,570.36 L257.95,570.32 L257.70,570.29 L257.45,570.25 L257.20,570.22 L256.95,570.19 L256.70,570.16 L256.45,570.14 L256.20,570.12 L255.95,570.09 L255.70,570.07 L255.45,570.06 L255.20,570.04 L254.95,570.03 L254.70,570.02 L254.45,570.01 L254.20,570.00 L253.95,570.00 L253.70,570.00Z" fill="#fff" stroke="#A2AA00" stroke-width="1.2" stroke-linejoin="round"/>
<path d="M257.70,728.20 L257.95,728.19 L258.20,728.16 L258.45,728.12 L258.70,728.06 L258.95,727.99 L259.20,727.90 L259.45,727.81 L259.70,727.70 L259.95,727.59 L260.20,727.46 L260.45,727.33 L260.70,727.20 L260.95,727.02 L261.20,726.76 L261.45,726.43 L261.70,726.05 L261.95,725.62 L262.20,725.15 L262.45,724.66 L262.70,724.15 L262.95,723.64 L263.20,723.14 L263.45,722.65 L263.70,722.19 L263.95,721.77 L264.20,721.39 L264.45,721.03 L264.70,720.64 L264.95,720.24 L265.21,719.84 L265.46,719.45 L265.71,719.07 L265.96,718.73 L266.21,718.42 L266.46,718.16 L266.71,717.97 L266.96,717.84 L267.21,717.80 L267.46,717.83 L267.71,717.92 L267.96,718.06 L268.21,718.25 L268.46,718.47 L268.71,718.71 L268.96,718.98 L269.21,719.26 L269.46,719.55 L269.71,719.91 L269.96,720.42 L270.21,721.05 L270.46,721.76 L270.71,722.49 L270.96,723.20 L271.21,723.85 L271.46,724.38 L271.71,724.75 L271.96,724.93 L272.21,725.03 L272.46,725.13 L272.71,725.21 L272.96,725.29 L273.21,725.36 L273.46,725.43 L273.71,725.48 L273.96,725.53 L274.21,725.56 L274.46,725.58 L274.71,725.60 L274.96,725.60 L275.21,725.60 L275.46,725.60 L275.71,725.60 L275.96,725.60 L276.21,725.60 L276.46,725.60 L276.71,725.60 L276.96,725.60 L277.21,725.60 L277.46,725.60 L277.71,725.60 L277.96,725.60 L278.21,725.60 L278.46,725.60 L278.71,725.60 L278.96,725.60 L279.21,725.63 L279.46,725.75 L279.72,725.94 L279.97,726.17 L280.22,726.44 L280.47,726.73 L280.72,727.03 L280.97,727.30 L281.22,727.55 L281.47,727.75 L281.72,727.89 L281.97,727.95 L282.22,727.95 L282.47,727.95 L282.72,727.95 L282.97,727.95 L283.22,727.95 L283.47,727.95 L283.72,727.95 L283.97,727.95 L284.22,727.95 L284.47,727.95 L284.72,727.95 L284.97,727.95 L285.22,727.95 L285.47,727.95 L285.72,727.95 L285.97,727.95 L286.22,727.95 L286.47,727.95 L286.72,727.95 L286.97,727.95 L287.22,727.95 L287.47,727.95 L287.72,727.95 L287.97,727.95 L288.22,727.95 L288.47,727.95 L288.72,727.95 L288.97,727.95 L289.22,727.95 L289.47,727.95 L289.72,727.95 L289.97,727.95 L290.22,727.95 L290.47,727.95 L290.72,727.95 L290.97,727.95 L291.22,727.95 L291.47,727.95 L291.72,727.95 L291.97,727.95 L292.22,727.95 L292.47,727.95 L292.72,727.95 L292.97,727.95 L293.22,727.95 L293.47,727.95 L293.72,727.95 L293.97,727.95 L294.23,727.95 L294.48,727.95 L294.73,727.95 L294.98,727.95 L295.23,727.95 L295.48,727.95 L295.73,727.95 L295.98,727.95 L296.23,727.95 L296.48,727.95 L296.73,727.95 L296.98,727.95 L297.23,727.95 L297.48,727.95 L297.73,727.95 L297.98,727.95 L298.23,727.95 L298.48,727.95 L298.73,727.95 L298.98,727.95 L299.23,727.95 L299.48,727.95 L299.73,727.95 L299.98,727.95 L300.23,727.95 L300.48,727.95 L300.73,727.95 L300.98,727.95 L301.23,727.95 L301.48,727.95 L301.73,727.95 L301.98,727.95 L302.23,727.95 L302.48,727.95 L302.73,727.95 L302.98,727.95 L303.23,727.95 L303.48,727.95 L303.73,727.95 L303.98,727.95 L304.23,727.95 L304.48,727.95 L304.73,727.95 L304.98,727.95 L305.23,727.95 L305.48,727.95 L305.73,727.95 L305.98,727.95 L306.23,727.95 L306.48,727.95 L306.73,727.95 L306.98,727.95 L307.23,727.95 L307.48,727.95 L307.73,727.95 L307.98,727.95 L308.23,727.95 L308.48,727.95 L308.74,727.95 L308.99,727.95 L309.24,727.95 L309.49,727.95 L309.74,727.95 L309.99,727.95 L310.24,727.95 L310.49,727.95 L310.74,727.95 L310.99,727.95 L311.24,727.95 L311.49,727.95 L311.74,727.95 L311.99,727.95 L312.24,727.95 L312.49,727.95 L312.74,727.95 L312.99,727.95 L313.24,727.95 L313.49,727.95 L313.74,727.95 L313.99,727.95 L314.24,727.95 L314.49,727.95 L314.74,727.95 L314.99,727.95 L315.24,727.95 L315.49,727.95 L315.74,727.95 L315.99,727.95 L316.24,727.95 L316.49,727.95 L316.74,727.95 L316.99,727.95 L317.24,727.95 L317.49,727.95 L317.74,727.95 L317.99,727.95 L318.24,727.95 L318.49,727.95 L318.74,727.95 L318.99,727.95 L319.24,727.95 L319.49,727.95 L319.74,727.95 L319.99,727.95 L320.24,727.95 L320.49,727.94 L320.74,727.92 L320.99,727.90 L321.24,727.87 L321.49,727.84 L321.74,727.81 L321.99,727.77 L322.24,727.73 L322.49,727.69 L322.74,727.65 L322.99,727.61 L323.25,727.57 L323.50,727.53 L323.75,727.49 L324.00,727.45 L324.25,727.42 L324.50,727.38 L324.75,727.36 L325.00,727.33 L325.25,727.32 L325.50,727.31 L325.75,727.30 L326.00,727.30 L326.25,727.31 L326.50,727.32 L326.75,727.35 L327.00,727.37 L327.25,727.40 L327.50,727.44 L327.75,727.48 L328.00,727.53 L328.25,727.58 L328.50,727.63 L328.75,727.69 L329.00,727.76 L329.25,727.82 L329.50,727.89 L329.75,727.96 L330.00,728.04 L330.25,728.12 L330.50,728.20 L330.50,728.20 L330.25,728.28 L330.00,728.36 L329.75,728.44 L329.50,728.51 L329.25,728.58 L329.00,728.64 L328.75,728.71 L328.50,728.77 L328.25,728.82 L328.00,728.87 L327.75,728.92 L327.50,728.96 L327.25,729.00 L327.00,729.03 L326.75,729.05 L326.50,729.08 L326.25,729.09 L326.00,729.10 L325.75,729.10 L325.50,729.09 L325.25,729.08 L325.00,729.07 L324.75,729.04 L324.50,729.02 L324.25,728.98 L324.00,728.95 L323.75,728.91 L323.50,728.87 L323.25,728.83 L322.99,728.79 L322.74,728.75 L322.49,728.71 L322.24,728.67 L321.99,728.63 L321.74,728.59 L321.49,728.56 L321.24,728.53 L320.99,728.50 L320.74,728.48 L320.49,728.46 L320.24,728.45 L319.99,728.45 L319.74,728.45 L319.49,728.45 L319.24,728.45 L318.99,728.45 L318.74,728.45 L318.49,728.45 L318.24,728.45 L317.99,728.45 L317.74,728.45 L317.49,728.45 L317.24,728.45 L316.99,728.45 L316.74,728.45 L316.49,728.45 L316.24,728.45 L315.99,728.45 L315.74,728.45 L315.49,728.45 L315.24,728.45 L314.99,728.45 L314.74,728.45 L314.49,728.45 L314.24,728.45 L313.99,728.45 L313.74,728.45 L313.49,728.45 L313.24,728.45 L312.99,728.45 L312.74,728.45 L312.49,728.45 L312.24,728.45 L311.99,728.45 L311.74,728.45 L311.49,728.45 L311.24,728.45 L310.99,728.45 L310.74,728.45 L310.49,728.45 L310.24,728.45 L309.99,728.45 L309.74,728.45 L309.49,728.45 L309.24,728.45 L308.99,728.45 L308.74,728.45 L308.48,728.45 L308.23,728.45 L307.98,728.45 L307.73,728.45 L307.48,728.45 L307.23,728.45 L306.98,728.45 L306.73,728.45 L306.48,728.45 L306.23,728.45 L305.98,728.45 L305.73,728.45 L305.48,728.45 L305.23,728.45 L304.98,728.45 L304.73,728.45 L304.48,728.45 L304.23,728.45 L303.98,728.45 L303.73,728.45 L303.48,728.45 L303.23,728.45 L302.98,728.45 L302.73,728.45 L302.48,728.45 L302.23,728.45 L301.98,728.45 L301.73,728.45 L301.48,728.45 L301.23,728.45 L300.98,728.45 L300.73,728.45 L300.48,728.45 L300.23,728.45 L299.98,728.45 L299.73,728.45 L299.48,728.45 L299.23,728.45 L298.98,728.45 L298.73,728.45 L298.48,728.45 L298.23,728.45 L297.98,728.45 L297.73,728.45 L297.48,728.45 L297.23,728.45 L296.98,728.45 L296.73,728.45 L296.48,728.45 L296.23,728.45 L295.98,728.45 L295.73,728.45 L295.48,728.45 L295.23,728.45 L294.98,728.45 L294.73,728.45 L294.48,728.45 L294.23,728.45 L293.97,728.45 L293.72,728.45 L293.47,728.45 L293.22,728.45 L292.97,728.45 L292.72,728.45 L292.47,728.45 L292.22,728.45 L291.97,728.45 L291.72,728.45 L291.47,728.45 L291.22,728.45 L290.97,728.45 L290.72,728.45 L290.47,728.45 L290.22,728.45 L289.97,728.45 L289.72,728.45 L289.47,728.45 L289.22,728.45 L288.97,728.45 L288.72,728.45 L288.47,728.45 L288.22,728.45 L287.97,728.45 L287.72,728.45 L287.47,728.45 L287.22,728.45 L286.97,728.45 L286.72,728.45 L286.47,728.45 L286.22,728.45 L285.97,728.45 L285.72,728.45 L285.47,728.45 L285.22,728.45 L284.97,728.45 L284.72,728.45 L284.47,728.45 L284.22,728.45 L283.97,728.45 L283.72,728.45 L283.47,728.45 L283.22,728.45 L282.97,728.45 L282.72,728.45 L282.47,728.45 L282.22,728.45 L281.97,728.45 L281.72,728.51 L281.47,728.65 L281.22,728.85 L280.97,729.10 L280.72,729.37 L280.47,729.67 L280.22,729.96 L279.97,730.23 L279.72,730.46 L279.46,730.65 L279.21,730.77 L278.96,730.80 L278.71,730.80 L278.46,730.80 L278.21,730.80 L277.96,730.80 L277.71,730.80 L277.46,730.80 L277.21,730.80 L276.96,730.80 L276.71,730.80 L276.46,730.80 L276.21,730.80 L275.96,730.80 L275.71,730.80 L275.46,730.80 L275.21,730.80 L274.96,730.80 L274.71,730.80 L274.46,730.82 L274.21,730.84 L273.96,730.87 L273.71,730.92 L273.46,730.97 L273.21,731.04 L272.96,731.11 L272.71,731.19 L272.46,731.27 L272.21,731.37 L271.96,731.47 L271.71,731.65 L271.46,732.02 L271.21,732.55 L270.96,733.20 L270.71,733.91 L270.46,734.64 L270.21,735.35 L269.96,735.98 L269.71,736.49 L269.46,736.85 L269.21,737.14 L268.96,737.42 L268.71,737.69 L268.46,737.93 L268.21,738.15 L267.96,738.34 L267.71,738.48 L267.46,738.57 L267.21,738.60 L266.96,738.56 L266.71,738.43 L266.46,738.24 L266.21,737.98 L265.96,737.67 L265.71,737.33 L265.46,736.95 L265.21,736.56 L264.95,736.16 L264.70,735.76 L264.45,735.37 L264.20,735.01 L263.95,734.63 L263.70,734.21 L263.45,733.75 L263.20,733.26 L262.95,732.76 L262.70,732.25 L262.45,731.74 L262.20,731.25 L261.95,730.78 L261.70,730.35 L261.45,729.97 L261.20,729.64 L260.95,729.38 L260.70,729.20 L260.45,729.07 L260.20,728.94 L259.95,728.81 L259.70,728.70 L259.45,728.59 L259.20,728.50 L258.95,728.41 L258.70,728.34 L258.45,728.28 L258.20,728.24 L257.95,728.21 L257.70,728.20Z" fill="#fff" stroke="#A2AA00" stroke-width="1.2" stroke-linejoin="round"/>
<line x1="272.30" y1="533.1" x2="272.30" y2="877.2" stroke="#2a2a2a" stroke-width="1.2"/>
<circle cx="274.1" cy="547.40" r="2.85" fill="#A2AA00"/>
<circle cx="273.5" cy="570.00" r="2.85" fill="#A2AA00"/>
<circle cx="271.1" cy="728.20" r="2.85" fill="#A2AA00"/>
<line x1="235.5" y1="533.1" x2="235.5" y2="877.2" stroke="#8a8a8a" stroke-width="1.8"/>
<line x1="357.40" y1="533.1" x2="357.40" y2="877.2" stroke="#6a6a6a" stroke-width="1.4"/>
<line x1="234.65" y1="877.2" x2="358.25" y2="877.2" stroke="#262626" stroke-width="1.4"/>
<rect x="235.5" y="515.6" width="121.90" height="17.50" fill="#fff" stroke="#1a1a1a" stroke-width="1.5"/>
<text transform="translate(296.45,528.20) scale(1,1.06)" text-anchor="middle" class="st">Chemical Stressor Groups</text>
<line x1="272.30" y1="877.2" x2="272.30" y2="879.4000000000001" stroke="#222" stroke-width="1.1"/>
<text transform="translate(272.30,888.80)" text-anchor="middle" class="bnum">1</text>
<line x1="311.70" y1="877.2" x2="311.70" y2="879.4000000000001" stroke="#222" stroke-width="1.1"/>
<text transform="translate(311.70,888.80)" text-anchor="middle" class="bnum">2</text>
<line x1="351.10" y1="877.2" x2="351.10" y2="879.4000000000001" stroke="#222" stroke-width="1.1"/>
<text transform="translate(351.10,888.80)" text-anchor="middle" class="bnum">3</text>
<line x1="379.90" y1="533.1" x2="379.90" y2="877.2" stroke="#f0f0f0" stroke-width="0.9"/>
<line x1="419.30" y1="533.1" x2="419.30" y2="877.2" stroke="#f0f0f0" stroke-width="0.9"/>
<line x1="458.70" y1="533.1" x2="458.70" y2="877.2" stroke="#f0f0f0" stroke-width="0.9"/>
<line x1="439.00" y1="533.1" x2="439.00" y2="877.2" stroke="#e8e8e8" stroke-width="1.1"/>
<line x1="478.40" y1="533.1" x2="478.40" y2="877.2" stroke="#e8e8e8" stroke-width="1.1"/>
<line x1="363.4" y1="547.40" x2="485.50" y2="547.40" stroke="#e6e6e6" stroke-width="1.3"/>
<line x1="363.4" y1="570.00" x2="485.50" y2="570.00" stroke="#e6e6e6" stroke-width="1.3"/>
<line x1="363.4" y1="592.60" x2="485.50" y2="592.60" stroke="#e6e6e6" stroke-width="1.3"/>
<line x1="363.4" y1="615.20" x2="485.50" y2="615.20" stroke="#e6e6e6" stroke-width="1.3"/>
<line x1="363.4" y1="637.80" x2="485.50" y2="637.80" stroke="#e6e6e6" stroke-width="1.3"/>
<line x1="363.4" y1="660.40" x2="485.50" y2="660.40" stroke="#e6e6e6" stroke-width="1.3"/>
<line x1="363.4" y1="683.00" x2="485.50" y2="683.00" stroke="#e6e6e6" stroke-width="1.3"/>
<line x1="363.4" y1="705.60" x2="485.50" y2="705.60" stroke="#e6e6e6" stroke-width="1.3"/>
<line x1="363.4" y1="728.20" x2="485.50" y2="728.20" stroke="#e6e6e6" stroke-width="1.3"/>
<line x1="363.4" y1="750.80" x2="485.50" y2="750.80" stroke="#e6e6e6" stroke-width="1.3"/>
<line x1="363.4" y1="773.40" x2="485.50" y2="773.40" stroke="#e6e6e6" stroke-width="1.3"/>
<line x1="363.4" y1="796.00" x2="485.50" y2="796.00" stroke="#e6e6e6" stroke-width="1.3"/>
<line x1="363.4" y1="818.60" x2="485.50" y2="818.60" stroke="#e6e6e6" stroke-width="1.3"/>
<line x1="363.4" y1="841.20" x2="485.50" y2="841.20" stroke="#e6e6e6" stroke-width="1.3"/>
<line x1="363.4" y1="863.80" x2="485.50" y2="863.80" stroke="#e6e6e6" stroke-width="1.3"/>
<path d="M382.40,773.40 L382.65,773.40 L382.90,773.39 L383.15,773.37 L383.40,773.35 L383.66,773.32 L383.91,773.29 L384.16,773.25 L384.41,773.21 L384.66,773.16 L384.91,773.11 L385.16,773.06 L385.41,773.00 L385.66,772.94 L385.92,772.88 L386.17,772.81 L386.42,772.74 L386.67,772.67 L386.92,772.60 L387.17,772.53 L387.42,772.45 L387.67,772.38 L387.92,772.26 L388.18,772.12 L388.43,771.94 L388.68,771.76 L388.93,771.56 L389.18,771.38 L389.43,771.21 L389.68,771.07 L389.93,770.96 L390.18,770.91 L390.44,770.91 L390.69,770.99 L390.94,771.13 L391.19,771.31 L391.44,771.51 L391.69,771.73 L391.94,771.94 L392.19,772.13 L392.44,772.28 L392.70,772.37 L392.95,772.40 L393.20,772.32 L393.45,772.15 L393.70,771.90 L393.95,771.58 L394.20,771.21 L394.45,770.79 L394.71,770.36 L394.96,769.92 L395.21,769.48 L395.46,769.07 L395.71,768.63 L395.96,768.09 L396.21,767.48 L396.46,766.83 L396.71,766.17 L396.97,765.53 L397.22,764.94 L397.47,764.43 L397.72,764.03 L397.97,763.78 L398.22,763.70 L398.47,763.74 L398.72,763.85 L398.97,764.03 L399.23,764.25 L399.48,764.51 L399.73,764.81 L399.98,765.13 L400.23,765.47 L400.48,765.82 L400.73,766.16 L400.98,766.50 L401.23,766.82 L401.49,767.13 L401.74,767.49 L401.99,767.88 L402.24,768.30 L402.49,768.74 L402.74,769.19 L402.99,769.64 L403.24,770.08 L403.49,770.51 L403.75,770.90 L404.00,771.27 L404.25,771.59 L404.50,771.86 L404.75,772.06 L405.00,772.20 L405.25,772.30 L405.50,772.39 L405.75,772.48 L406.01,772.57 L406.26,772.65 L406.51,772.73 L406.76,772.80 L407.01,772.86 L407.26,772.92 L407.51,772.97 L407.76,773.02 L408.01,773.06 L408.27,773.09 L408.52,773.12 L408.77,773.14 L409.02,773.15 L409.27,773.15 L409.52,773.15 L409.77,773.15 L410.02,773.15 L410.27,773.15 L410.53,773.15 L410.78,773.15 L411.03,773.15 L411.28,773.15 L411.53,773.15 L411.78,773.15 L412.03,773.15 L412.28,773.15 L412.53,773.15 L412.79,773.15 L413.04,773.15 L413.29,773.15 L413.54,773.15 L413.79,773.15 L414.04,773.15 L414.29,773.15 L414.54,773.15 L414.79,773.15 L415.05,773.15 L415.30,773.15 L415.55,773.15 L415.80,773.15 L416.05,773.15 L416.30,773.15 L416.55,773.15 L416.80,773.15 L417.06,773.15 L417.31,773.15 L417.56,773.15 L417.81,773.15 L418.06,773.15 L418.31,773.15 L418.56,773.15 L418.81,773.15 L419.06,773.15 L419.32,773.15 L419.57,773.15 L419.82,773.15 L420.07,773.15 L420.32,773.14 L420.57,773.12 L420.82,773.09 L421.07,773.05 L421.32,773.01 L421.58,772.96 L421.83,772.91 L422.08,772.86 L422.33,772.81 L422.58,772.76 L422.83,772.71 L423.08,772.67 L423.33,772.64 L423.58,772.62 L423.84,772.60 L424.09,772.60 L424.34,772.61 L424.59,772.64 L424.84,772.67 L425.09,772.72 L425.34,772.78 L425.59,772.85 L425.84,772.92 L426.10,773.00 L426.35,773.10 L426.60,773.19 L426.85,773.29 L427.10,773.40 L427.10,773.40 L426.85,773.51 L426.60,773.61 L426.35,773.70 L426.10,773.80 L425.84,773.88 L425.59,773.95 L425.34,774.02 L425.09,774.08 L424.84,774.13 L424.59,774.16 L424.34,774.19 L424.09,774.20 L423.84,774.20 L423.58,774.18 L423.33,774.16 L423.08,774.13 L422.83,774.09 L422.58,774.04 L422.33,773.99 L422.08,773.94 L421.83,773.89 L421.58,773.84 L421.32,773.79 L421.07,773.75 L420.82,773.71 L420.57,773.68 L420.32,773.66 L420.07,773.65 L419.82,773.65 L419.57,773.65 L419.32,773.65 L419.06,773.65 L418.81,773.65 L418.56,773.65 L418.31,773.65 L418.06,773.65 L417.81,773.65 L417.56,773.65 L417.31,773.65 L417.06,773.65 L416.80,773.65 L416.55,773.65 L416.30,773.65 L416.05,773.65 L415.80,773.65 L415.55,773.65 L415.30,773.65 L415.05,773.65 L414.79,773.65 L414.54,773.65 L414.29,773.65 L414.04,773.65 L413.79,773.65 L413.54,773.65 L413.29,773.65 L413.04,773.65 L412.79,773.65 L412.53,773.65 L412.28,773.65 L412.03,773.65 L411.78,773.65 L411.53,773.65 L411.28,773.65 L411.03,773.65 L410.78,773.65 L410.53,773.65 L410.27,773.65 L410.02,773.65 L409.77,773.65 L409.52,773.65 L409.27,773.65 L409.02,773.65 L408.77,773.66 L408.52,773.68 L408.27,773.71 L408.01,773.74 L407.76,773.78 L407.51,773.83 L407.26,773.88 L407.01,773.94 L406.76,774.00 L406.51,774.07 L406.26,774.15 L406.01,774.23 L405.75,774.32 L405.50,774.41 L405.25,774.50 L405.00,774.60 L404.75,774.74 L404.50,774.94 L404.25,775.21 L404.00,775.53 L403.75,775.90 L403.49,776.29 L403.24,776.72 L402.99,777.16 L402.74,777.61 L402.49,778.06 L402.24,778.50 L401.99,778.92 L401.74,779.31 L401.49,779.67 L401.23,779.98 L400.98,780.30 L400.73,780.64 L400.48,780.98 L400.23,781.33 L399.98,781.67 L399.73,781.99 L399.48,782.29 L399.23,782.55 L398.97,782.77 L398.72,782.95 L398.47,783.06 L398.22,783.10 L397.97,783.02 L397.72,782.77 L397.47,782.37 L397.22,781.86 L396.97,781.27 L396.71,780.63 L396.46,779.97 L396.21,779.32 L395.96,778.71 L395.71,778.17 L395.46,777.73 L395.21,777.32 L394.96,776.88 L394.71,776.44 L394.45,776.01 L394.20,775.59 L393.95,775.22 L393.70,774.90 L393.45,774.65 L393.20,774.48 L392.95,774.40 L392.70,774.43 L392.44,774.52 L392.19,774.67 L391.94,774.86 L391.69,775.07 L391.44,775.29 L391.19,775.49 L390.94,775.67 L390.69,775.81 L390.44,775.89 L390.18,775.89 L389.93,775.84 L389.68,775.73 L389.43,775.59 L389.18,775.42 L388.93,775.24 L388.68,775.04 L388.43,774.86 L388.18,774.68 L387.92,774.54 L387.67,774.42 L387.42,774.35 L387.17,774.27 L386.92,774.20 L386.67,774.13 L386.42,774.06 L386.17,773.99 L385.92,773.92 L385.66,773.86 L385.41,773.80 L385.16,773.74 L384.91,773.69 L384.66,773.64 L384.41,773.59 L384.16,773.55 L383.91,773.51 L383.66,773.48 L383.40,773.45 L383.15,773.43 L382.90,773.41 L382.65,773.40 L382.40,773.40Z" fill="#fff" stroke="#00BA7C" stroke-width="1.2" stroke-linejoin="round"/>
<path d="M374.50,841.20 L374.75,841.20 L375.00,841.20 L375.25,841.20 L375.50,841.20 L375.75,841.19 L376.00,841.19 L376.25,841.19 L376.50,841.18 L376.75,841.18 L377.00,841.17 L377.25,841.17 L377.50,841.16 L377.75,841.15 L378.00,841.15 L378.25,841.14 L378.50,841.13 L378.75,841.12 L379.00,841.11 L379.26,841.10 L379.51,841.09 L379.76,841.08 L380.01,841.06 L380.26,841.05 L380.51,841.03 L380.76,841.02 L381.01,841.00 L381.26,840.99 L381.51,840.97 L381.76,840.95 L382.01,840.92 L382.26,840.86 L382.51,840.77 L382.76,840.65 L383.01,840.51 L383.26,840.36 L383.51,840.19 L383.76,840.02 L384.01,839.84 L384.26,839.67 L384.51,839.50 L384.76,839.34 L385.01,839.19 L385.26,839.05 L385.51,838.90 L385.76,838.75 L386.01,838.58 L386.26,838.42 L386.51,838.26 L386.76,838.09 L387.01,837.93 L387.26,837.78 L387.51,837.62 L387.76,837.48 L388.01,837.35 L388.26,837.23 L388.51,837.12 L388.77,837.02 L389.02,836.95 L389.27,836.89 L389.52,836.83 L389.77,836.78 L390.02,836.73 L390.27,836.68 L390.52,836.63 L390.77,836.58 L391.02,836.54 L391.27,836.50 L391.52,836.46 L391.77,836.42 L392.02,836.38 L392.27,836.35 L392.52,836.32 L392.77,836.29 L393.02,836.27 L393.27,836.25 L393.52,836.23 L393.77,836.22 L394.02,836.21 L394.27,836.20 L394.52,836.20 L394.77,836.20 L395.02,836.22 L395.27,836.23 L395.52,836.26 L395.77,836.29 L396.02,836.33 L396.27,836.37 L396.52,836.41 L396.77,836.46 L397.02,836.52 L397.27,836.57 L397.52,836.63 L397.77,836.70 L398.02,836.76 L398.28,836.82 L398.53,836.89 L398.78,836.96 L399.03,837.02 L399.28,837.09 L399.53,837.16 L399.78,837.22 L400.03,837.29 L400.28,837.36 L400.53,837.45 L400.78,837.53 L401.03,837.62 L401.28,837.72 L401.53,837.82 L401.78,837.92 L402.03,838.02 L402.28,838.12 L402.53,838.23 L402.78,838.34 L403.03,838.44 L403.28,838.55 L403.53,838.65 L403.78,838.75 L404.03,838.85 L404.28,838.95 L404.53,839.04 L404.78,839.13 L405.03,839.21 L405.28,839.29 L405.53,839.38 L405.78,839.46 L406.03,839.54 L406.28,839.63 L406.53,839.71 L406.78,839.79 L407.03,839.87 L407.28,839.95 L407.53,840.02 L407.79,840.09 L408.04,840.16 L408.29,840.22 L408.54,840.28 L408.79,840.33 L409.04,840.37 L409.29,840.41 L409.54,840.45 L409.79,840.48 L410.04,840.52 L410.29,840.55 L410.54,840.58 L410.79,840.61 L411.04,840.63 L411.29,840.66 L411.54,840.69 L411.79,840.71 L412.04,840.74 L412.29,840.76 L412.54,840.78 L412.79,840.80 L413.04,840.82 L413.29,840.84 L413.54,840.86 L413.79,840.88 L414.04,840.89 L414.29,840.91 L414.54,840.92 L414.79,840.94 L415.04,840.95 L415.29,840.97 L415.54,840.98 L415.79,840.99 L416.04,841.01 L416.29,841.02 L416.54,841.03 L416.79,841.04 L417.04,841.06 L417.30,841.07 L417.55,841.08 L417.80,841.09 L418.05,841.10 L418.30,841.11 L418.55,841.12 L418.80,841.13 L419.05,841.14 L419.30,841.15 L419.55,841.16 L419.80,841.16 L420.05,841.17 L420.30,841.18 L420.55,841.18 L420.80,841.19 L421.05,841.19 L421.30,841.20 L421.55,841.20 L421.80,841.20 L421.80,841.20 L421.55,841.20 L421.30,841.20 L421.05,841.21 L420.80,841.21 L420.55,841.22 L420.30,841.22 L420.05,841.23 L419.80,841.24 L419.55,841.24 L419.30,841.25 L419.05,841.26 L418.80,841.27 L418.55,841.28 L418.30,841.29 L418.05,841.30 L417.80,841.31 L417.55,841.32 L417.30,841.33 L417.04,841.34 L416.79,841.36 L416.54,841.37 L416.29,841.38 L416.04,841.39 L415.79,841.41 L415.54,841.42 L415.29,841.43 L415.04,841.45 L414.79,841.46 L414.54,841.48 L414.29,841.49 L414.04,841.51 L413.79,841.52 L413.54,841.54 L413.29,841.56 L413.04,841.58 L412.79,841.60 L412.54,841.62 L412.29,841.64 L412.04,841.66 L411.79,841.69 L411.54,841.71 L411.29,841.74 L411.04,841.77 L410.79,841.79 L410.54,841.82 L410.29,841.85 L410.04,841.88 L409.79,841.92 L409.54,841.95 L409.29,841.99 L409.04,842.03 L408.79,842.07 L408.54,842.12 L408.29,842.18 L408.04,842.24 L407.79,842.31 L407.53,842.38 L407.28,842.45 L407.03,842.53 L406.78,842.61 L406.53,842.69 L406.28,842.77 L406.03,842.86 L405.78,842.94 L405.53,843.02 L405.28,843.11 L405.03,843.19 L404.78,843.27 L404.53,843.36 L404.28,843.45 L404.03,843.55 L403.78,843.65 L403.53,843.75 L403.28,843.85 L403.03,843.96 L402.78,844.06 L402.53,844.17 L402.28,844.28 L402.03,844.38 L401.78,844.48 L401.53,844.58 L401.28,844.68 L401.03,844.78 L400.78,844.87 L400.53,844.95 L400.28,845.04 L400.03,845.11 L399.78,845.18 L399.53,845.24 L399.28,845.31 L399.03,845.38 L398.78,845.44 L398.53,845.51 L398.28,845.58 L398.02,845.64 L397.77,845.70 L397.52,845.77 L397.27,845.83 L397.02,845.88 L396.77,845.94 L396.52,845.99 L396.27,846.03 L396.02,846.07 L395.77,846.11 L395.52,846.14 L395.27,846.17 L395.02,846.18 L394.77,846.20 L394.52,846.20 L394.27,846.20 L394.02,846.19 L393.77,846.18 L393.52,846.17 L393.27,846.15 L393.02,846.13 L392.77,846.11 L392.52,846.08 L392.27,846.05 L392.02,846.02 L391.77,845.98 L391.52,845.94 L391.27,845.90 L391.02,845.86 L390.77,845.82 L390.52,845.77 L390.27,845.72 L390.02,845.67 L389.77,845.62 L389.52,845.57 L389.27,845.51 L389.02,845.45 L388.77,845.38 L388.51,845.28 L388.26,845.17 L388.01,845.05 L387.76,844.92 L387.51,844.78 L387.26,844.62 L387.01,844.47 L386.76,844.31 L386.51,844.14 L386.26,843.98 L386.01,843.82 L385.76,843.65 L385.51,843.50 L385.26,843.35 L385.01,843.21 L384.76,843.06 L384.51,842.90 L384.26,842.73 L384.01,842.56 L383.76,842.38 L383.51,842.21 L383.26,842.04 L383.01,841.89 L382.76,841.75 L382.51,841.63 L382.26,841.54 L382.01,841.48 L381.76,841.45 L381.51,841.43 L381.26,841.41 L381.01,841.40 L380.76,841.38 L380.51,841.37 L380.26,841.35 L380.01,841.34 L379.76,841.32 L379.51,841.31 L379.26,841.30 L379.00,841.29 L378.75,841.28 L378.50,841.27 L378.25,841.26 L378.00,841.25 L377.75,841.25 L377.50,841.24 L377.25,841.23 L377.00,841.23 L376.75,841.22 L376.50,841.22 L376.25,841.21 L376.00,841.21 L375.75,841.21 L375.50,841.20 L375.25,841.20 L375.00,841.20 L374.75,841.20 L374.50,841.20Z" fill="#fff" stroke="#00BA7C" stroke-width="1.2" stroke-linejoin="round"/>
<path d="M372.90,863.80 L373.15,863.80 L373.40,863.80 L373.65,863.80 L373.90,863.79 L374.15,863.79 L374.40,863.79 L374.65,863.78 L374.90,863.78 L375.15,863.77 L375.40,863.76 L375.65,863.75 L375.90,863.75 L376.15,863.74 L376.40,863.73 L376.65,863.72 L376.90,863.71 L377.15,863.70 L377.40,863.68 L377.65,863.67 L377.90,863.66 L378.15,863.64 L378.40,863.63 L378.65,863.62 L378.90,863.60 L379.15,863.58 L379.40,863.57 L379.65,863.55 L379.90,863.53 L380.15,863.52 L380.40,863.50 L380.65,863.48 L380.90,863.46 L381.15,863.44 L381.40,863.42 L381.65,863.40 L381.90,863.38 L382.15,863.36 L382.40,863.34 L382.65,863.32 L382.90,863.29 L383.15,863.27 L383.40,863.25 L383.65,863.23 L383.90,863.20 L384.15,863.18 L384.40,863.16 L384.65,863.13 L384.90,863.11 L385.15,863.08 L385.40,863.06 L385.65,863.03 L385.90,863.01 L386.15,862.98 L386.40,862.96 L386.65,862.92 L386.90,862.89 L387.15,862.85 L387.40,862.81 L387.65,862.76 L387.90,862.72 L388.15,862.67 L388.40,862.62 L388.65,862.56 L388.90,862.51 L389.15,862.45 L389.40,862.39 L389.65,862.34 L389.90,862.28 L390.15,862.21 L390.40,862.15 L390.65,862.09 L390.90,862.02 L391.15,861.96 L391.40,861.90 L391.65,861.83 L391.90,861.77 L392.15,861.71 L392.40,861.64 L392.65,861.58 L392.90,861.52 L393.15,861.46 L393.40,861.40 L393.65,861.34 L393.90,861.28 L394.15,861.22 L394.40,861.15 L394.65,861.09 L394.90,861.02 L395.15,860.95 L395.40,860.88 L395.65,860.81 L395.90,860.74 L396.15,860.67 L396.40,860.61 L396.65,860.54 L396.90,860.47 L397.15,860.40 L397.40,860.33 L397.65,860.27 L397.90,860.20 L398.15,860.14 L398.40,860.08 L398.65,860.02 L398.90,859.96 L399.15,859.91 L399.40,859.86 L399.65,859.81 L399.90,859.76 L400.15,859.71 L400.40,859.66 L400.65,859.61 L400.90,859.56 L401.15,859.51 L401.40,859.46 L401.65,859.41 L401.90,859.36 L402.15,859.31 L402.40,859.27 L402.65,859.22 L402.90,859.18 L403.15,859.15 L403.40,859.11 L403.65,859.08 L403.90,859.06 L404.15,859.03 L404.40,859.02 L404.65,859.01 L404.90,859.00 L405.15,859.00 L405.40,859.02 L405.65,859.05 L405.90,859.10 L406.15,859.16 L406.40,859.23 L406.65,859.31 L406.90,859.40 L407.15,859.50 L407.40,859.60 L407.65,859.71 L407.90,859.82 L408.15,859.94 L408.40,860.06 L408.65,860.18 L408.90,860.30 L409.15,860.42 L409.40,860.53 L409.65,860.64 L409.90,860.75 L410.15,860.84 L410.40,860.94 L410.65,861.03 L410.90,861.13 L411.15,861.23 L411.40,861.33 L411.65,861.44 L411.90,861.55 L412.15,861.65 L412.40,861.76 L412.65,861.86 L412.90,861.97 L413.15,862.07 L413.40,862.17 L413.65,862.27 L413.90,862.36 L414.15,862.44 L414.40,862.53 L414.65,862.60 L414.90,862.67 L415.15,862.73 L415.40,862.78 L415.65,862.83 L415.90,862.87 L416.15,862.91 L416.40,862.95 L416.65,862.99 L416.90,863.03 L417.15,863.07 L417.40,863.11 L417.65,863.15 L417.90,863.18 L418.15,863.21 L418.40,863.25 L418.65,863.28 L418.90,863.31 L419.15,863.33 L419.40,863.36 L419.65,863.39 L419.90,863.41 L420.15,863.43 L420.40,863.45 L420.65,863.47 L420.90,863.49 L421.15,863.51 L421.40,863.52 L421.65,863.53 L421.90,863.55 L422.15,863.56 L422.40,863.57 L422.65,863.58 L422.90,863.58 L423.15,863.59 L423.40,863.60 L423.65,863.61 L423.90,863.62 L424.15,863.63 L424.40,863.64 L424.65,863.65 L424.90,863.65 L425.15,863.66 L425.40,863.67 L425.65,863.68 L425.90,863.68 L426.15,863.69 L426.40,863.70 L426.65,863.70 L426.90,863.71 L427.15,863.72 L427.40,863.72 L427.65,863.73 L427.90,863.74 L428.15,863.74 L428.40,863.75 L428.65,863.75 L428.90,863.76 L429.15,863.76 L429.40,863.77 L429.65,863.77 L429.90,863.77 L430.15,863.78 L430.40,863.78 L430.65,863.78 L430.90,863.79 L431.15,863.79 L431.40,863.79 L431.65,863.79 L431.90,863.79 L432.15,863.80 L432.40,863.80 L432.65,863.80 L432.90,863.80 L433.15,863.80 L433.40,863.80 L433.40,863.80 L433.15,863.80 L432.90,863.80 L432.65,863.80 L432.40,863.80 L432.15,863.80 L431.90,863.81 L431.65,863.81 L431.40,863.81 L431.15,863.81 L430.90,863.81 L430.65,863.82 L430.40,863.82 L430.15,863.82 L429.90,863.83 L429.65,863.83 L429.40,863.83 L429.15,863.84 L428.90,863.84 L428.65,863.85 L428.40,863.85 L428.15,863.86 L427.90,863.86 L427.65,863.87 L427.40,863.88 L427.15,863.88 L426.90,863.89 L426.65,863.90 L426.40,863.90 L426.15,863.91 L425.90,863.92 L425.65,863.92 L425.40,863.93 L425.15,863.94 L424.90,863.95 L424.65,863.95 L424.40,863.96 L424.15,863.97 L423.90,863.98 L423.65,863.99 L423.40,864.00 L423.15,864.01 L422.90,864.02 L422.65,864.02 L422.40,864.03 L422.15,864.04 L421.90,864.05 L421.65,864.07 L421.40,864.08 L421.15,864.09 L420.90,864.11 L420.65,864.13 L420.40,864.15 L420.15,864.17 L419.90,864.19 L419.65,864.21 L419.40,864.24 L419.15,864.27 L418.90,864.29 L418.65,864.32 L418.40,864.35 L418.15,864.39 L417.90,864.42 L417.65,864.45 L417.40,864.49 L417.15,864.53 L416.90,864.57 L416.65,864.61 L416.40,864.65 L416.15,864.69 L415.90,864.73 L415.65,864.77 L415.40,864.82 L415.15,864.87 L414.90,864.93 L414.65,865.00 L414.40,865.07 L414.15,865.16 L413.90,865.24 L413.65,865.33 L413.40,865.43 L413.15,865.53 L412.90,865.63 L412.65,865.74 L412.40,865.84 L412.15,865.95 L411.90,866.05 L411.65,866.16 L411.40,866.27 L411.15,866.37 L410.90,866.47 L410.65,866.57 L410.40,866.66 L410.15,866.76 L409.90,866.85 L409.65,866.96 L409.40,867.07 L409.15,867.18 L408.90,867.30 L408.65,867.42 L408.40,867.54 L408.15,867.66 L407.90,867.78 L407.65,867.89 L407.40,868.00 L407.15,868.10 L406.90,868.20 L406.65,868.29 L406.40,868.37 L406.15,868.44 L405.90,868.50 L405.65,868.55 L405.40,868.58 L405.15,868.60 L404.90,868.60 L404.65,868.59 L404.40,868.58 L404.15,868.57 L403.90,868.54 L403.65,868.52 L403.40,868.49 L403.15,868.45 L402.90,868.42 L402.65,868.38 L402.40,868.33 L402.15,868.29 L401.90,868.24 L401.65,868.19 L401.40,868.14 L401.15,868.09 L400.90,868.04 L400.65,867.99 L400.40,867.94 L400.15,867.89 L399.90,867.84 L399.65,867.79 L399.40,867.74 L399.15,867.69 L398.90,867.64 L398.65,867.58 L398.40,867.52 L398.15,867.46 L397.90,867.40 L397.65,867.33 L397.40,867.27 L397.15,867.20 L396.90,867.13 L396.65,867.06 L396.40,866.99 L396.15,866.93 L395.90,866.86 L395.65,866.79 L395.40,866.72 L395.15,866.65 L394.90,866.58 L394.65,866.51 L394.40,866.45 L394.15,866.38 L393.90,866.32 L393.65,866.26 L393.40,866.20 L393.15,866.14 L392.90,866.08 L392.65,866.02 L392.40,865.96 L392.15,865.89 L391.90,865.83 L391.65,865.77 L391.40,865.70 L391.15,865.64 L390.90,865.58 L390.65,865.51 L390.40,865.45 L390.15,865.39 L389.90,865.32 L389.65,865.26 L389.40,865.21 L389.15,865.15 L388.90,865.09 L388.65,865.04 L388.40,864.98 L388.15,864.93 L387.90,864.88 L387.65,864.84 L387.40,864.79 L387.15,864.75 L386.90,864.71 L386.65,864.68 L386.40,864.64 L386.15,864.62 L385.90,864.59 L385.65,864.57 L385.40,864.54 L385.15,864.52 L384.90,864.49 L384.65,864.47 L384.40,864.44 L384.15,864.42 L383.90,864.40 L383.65,864.37 L383.40,864.35 L383.15,864.33 L382.90,864.31 L382.65,864.28 L382.40,864.26 L382.15,864.24 L381.90,864.22 L381.65,864.20 L381.40,864.18 L381.15,864.16 L380.90,864.14 L380.65,864.12 L380.40,864.10 L380.15,864.08 L379.90,864.07 L379.65,864.05 L379.40,864.03 L379.15,864.02 L378.90,864.00 L378.65,863.98 L378.40,863.97 L378.15,863.96 L377.90,863.94 L377.65,863.93 L377.40,863.92 L377.15,863.90 L376.90,863.89 L376.65,863.88 L376.40,863.87 L376.15,863.86 L375.90,863.85 L375.65,863.85 L375.40,863.84 L375.15,863.83 L374.90,863.82 L374.65,863.82 L374.40,863.81 L374.15,863.81 L373.90,863.81 L373.65,863.80 L373.40,863.80 L373.15,863.80 L372.90,863.80Z" fill="#fff" stroke="#00BA7C" stroke-width="1.2" stroke-linejoin="round"/>
<line x1="399.60" y1="533.1" x2="399.60" y2="877.2" stroke="#2a2a2a" stroke-width="1.2"/>
<circle cx="399.2" cy="773.40" r="2.85" fill="#00BA7C"/>
<circle cx="396.0" cy="841.20" r="2.85" fill="#00BA7C"/>
<circle cx="403.9" cy="863.80" r="2.85" fill="#00BA7C"/>
<line x1="363.4" y1="533.1" x2="363.4" y2="877.2" stroke="#5a5a5a" stroke-width="1.4"/>
<line x1="485.50" y1="533.1" x2="485.50" y2="877.2" stroke="#3a3a3a" stroke-width="1.2"/>
<line x1="362.54999999999995" y1="877.2" x2="486.35" y2="877.2" stroke="#262626" stroke-width="1.4"/>
<rect x="363.4" y="515.6" width="122.10" height="17.50" fill="#fff" stroke="#1a1a1a" stroke-width="1.5"/>
<text transform="translate(424.45,528.20) scale(1,1.06)" text-anchor="middle" class="st">Inherent Characteristic Groups</text>
<line x1="399.60" y1="877.2" x2="399.60" y2="879.4000000000001" stroke="#222" stroke-width="1.1"/>
<text transform="translate(399.60,888.80)" text-anchor="middle" class="bnum">1</text>
<line x1="439.00" y1="877.2" x2="439.00" y2="879.4000000000001" stroke="#222" stroke-width="1.1"/>
<text transform="translate(439.00,888.80)" text-anchor="middle" class="bnum">2</text>
<line x1="478.40" y1="877.2" x2="478.40" y2="879.4000000000001" stroke="#222" stroke-width="1.1"/>
<text transform="translate(478.40,888.80)" text-anchor="middle" class="bnum">3</text>
<line x1="507.90" y1="533.1" x2="507.90" y2="877.2" stroke="#f0f0f0" stroke-width="0.9"/>
<line x1="547.30" y1="533.1" x2="547.30" y2="877.2" stroke="#f0f0f0" stroke-width="0.9"/>
<line x1="586.70" y1="533.1" x2="586.70" y2="877.2" stroke="#f0f0f0" stroke-width="0.9"/>
<line x1="567.00" y1="533.1" x2="567.00" y2="877.2" stroke="#e8e8e8" stroke-width="1.1"/>
<line x1="606.40" y1="533.1" x2="606.40" y2="877.2" stroke="#e8e8e8" stroke-width="1.1"/>
<line x1="491.4" y1="547.40" x2="613.90" y2="547.40" stroke="#e6e6e6" stroke-width="1.3"/>
<line x1="491.4" y1="570.00" x2="613.90" y2="570.00" stroke="#e6e6e6" stroke-width="1.3"/>
<line x1="491.4" y1="592.60" x2="613.90" y2="592.60" stroke="#e6e6e6" stroke-width="1.3"/>
<line x1="491.4" y1="615.20" x2="613.90" y2="615.20" stroke="#e6e6e6" stroke-width="1.3"/>
<line x1="491.4" y1="637.80" x2="613.90" y2="637.80" stroke="#e6e6e6" stroke-width="1.3"/>
<line x1="491.4" y1="660.40" x2="613.90" y2="660.40" stroke="#e6e6e6" stroke-width="1.3"/>
<line x1="491.4" y1="683.00" x2="613.90" y2="683.00" stroke="#e6e6e6" stroke-width="1.3"/>
<line x1="491.4" y1="705.60" x2="613.90" y2="705.60" stroke="#e6e6e6" stroke-width="1.3"/>
<line x1="491.4" y1="728.20" x2="613.90" y2="728.20" stroke="#e6e6e6" stroke-width="1.3"/>
<line x1="491.4" y1="750.80" x2="613.90" y2="750.80" stroke="#e6e6e6" stroke-width="1.3"/>
<line x1="491.4" y1="773.40" x2="613.90" y2="773.40" stroke="#e6e6e6" stroke-width="1.3"/>
<line x1="491.4" y1="796.00" x2="613.90" y2="796.00" stroke="#e6e6e6" stroke-width="1.3"/>
<line x1="491.4" y1="818.60" x2="613.90" y2="818.60" stroke="#e6e6e6" stroke-width="1.3"/>
<line x1="491.4" y1="841.20" x2="613.90" y2="841.20" stroke="#e6e6e6" stroke-width="1.3"/>
<line x1="491.4" y1="863.80" x2="613.90" y2="863.80" stroke="#e6e6e6" stroke-width="1.3"/>
<path d="M509.70,592.60 L509.95,592.60 L510.20,592.60 L510.45,592.59 L510.70,592.59 L510.95,592.58 L511.20,592.57 L511.45,592.56 L511.70,592.55 L511.95,592.53 L512.20,592.52 L512.45,592.50 L512.70,592.48 L512.95,592.46 L513.21,592.43 L513.46,592.41 L513.71,592.38 L513.96,592.36 L514.21,592.33 L514.46,592.29 L514.71,592.26 L514.96,592.22 L515.21,592.19 L515.46,592.15 L515.71,592.11 L515.96,592.06 L516.21,592.02 L516.46,591.97 L516.71,591.93 L516.96,591.88 L517.21,591.82 L517.46,591.77 L517.71,591.71 L517.96,591.66 L518.21,591.60 L518.46,591.50 L518.71,591.36 L518.96,591.16 L519.21,590.93 L519.46,590.66 L519.71,590.37 L519.96,590.06 L520.22,589.74 L520.47,589.42 L520.72,589.10 L520.97,588.79 L521.22,588.49 L521.47,588.22 L521.72,587.94 L521.97,587.65 L522.22,587.36 L522.47,587.07 L522.72,586.78 L522.97,586.48 L523.22,586.19 L523.47,585.89 L523.72,585.60 L523.97,585.30 L524.22,585.02 L524.47,584.73 L524.72,584.43 L524.97,584.08 L525.22,583.72 L525.47,583.36 L525.72,583.03 L525.97,582.74 L526.22,582.53 L526.47,582.42 L526.72,582.42 L526.98,582.53 L527.23,582.74 L527.48,583.04 L527.73,583.41 L527.98,583.82 L528.23,584.28 L528.48,584.75 L528.73,585.22 L528.98,585.69 L529.23,586.12 L529.48,586.51 L529.73,586.84 L529.98,587.14 L530.23,587.45 L530.48,587.77 L530.73,588.08 L530.98,588.40 L531.23,588.71 L531.48,589.02 L531.73,589.32 L531.98,589.60 L532.23,589.88 L532.48,590.13 L532.73,590.37 L532.98,590.59 L533.23,590.78 L533.48,590.95 L533.74,591.09 L533.99,591.19 L534.24,591.28 L534.49,591.36 L534.74,591.43 L534.99,591.50 L535.24,591.56 L535.49,591.62 L535.74,591.67 L535.99,591.72 L536.24,591.76 L536.49,591.81 L536.74,591.85 L536.99,591.88 L537.24,591.92 L537.49,591.96 L537.74,591.99 L537.99,592.03 L538.24,592.07 L538.49,592.10 L538.74,592.14 L538.99,592.17 L539.24,592.20 L539.49,592.24 L539.74,592.27 L539.99,592.30 L540.24,592.33 L540.49,592.36 L540.75,592.38 L541.00,592.41 L541.25,592.44 L541.50,592.46 L541.75,592.48 L542.00,592.50 L542.25,592.52 L542.50,592.54 L542.75,592.55 L543.00,592.57 L543.25,592.58 L543.50,592.59 L543.75,592.59 L544.00,592.60 L544.00,592.60 L543.75,592.61 L543.50,592.61 L543.25,592.62 L543.00,592.63 L542.75,592.65 L542.50,592.66 L542.25,592.68 L542.00,592.70 L541.75,592.72 L541.50,592.74 L541.25,592.76 L541.00,592.79 L540.75,592.82 L540.49,592.84 L540.24,592.87 L539.99,592.90 L539.74,592.93 L539.49,592.96 L539.24,593.00 L538.99,593.03 L538.74,593.06 L538.49,593.10 L538.24,593.13 L537.99,593.17 L537.74,593.21 L537.49,593.24 L537.24,593.28 L536.99,593.32 L536.74,593.35 L536.49,593.39 L536.24,593.44 L535.99,593.48 L535.74,593.53 L535.49,593.58 L535.24,593.64 L534.99,593.70 L534.74,593.77 L534.49,593.84 L534.24,593.92 L533.99,594.01 L533.74,594.11 L533.48,594.25 L533.23,594.42 L532.98,594.61 L532.73,594.83 L532.48,595.07 L532.23,595.32 L531.98,595.60 L531.73,595.88 L531.48,596.18 L531.23,596.49 L530.98,596.80 L530.73,597.12 L530.48,597.43 L530.23,597.75 L529.98,598.06 L529.73,598.36 L529.48,598.69 L529.23,599.08 L528.98,599.51 L528.73,599.98 L528.48,600.45 L528.23,600.92 L527.98,601.38 L527.73,601.79 L527.48,602.16 L527.23,602.46 L526.98,602.67 L526.72,602.78 L526.47,602.78 L526.22,602.67 L525.97,602.46 L525.72,602.17 L525.47,601.84 L525.22,601.48 L524.97,601.12 L524.72,600.77 L524.47,600.47 L524.22,600.18 L523.97,599.90 L523.72,599.60 L523.47,599.31 L523.22,599.01 L522.97,598.72 L522.72,598.42 L522.47,598.13 L522.22,597.84 L521.97,597.55 L521.72,597.26 L521.47,596.98 L521.22,596.71 L520.97,596.41 L520.72,596.10 L520.47,595.78 L520.22,595.46 L519.96,595.14 L519.71,594.83 L519.46,594.54 L519.21,594.27 L518.96,594.04 L518.71,593.84 L518.46,593.70 L518.21,593.60 L517.96,593.54 L517.71,593.49 L517.46,593.43 L517.21,593.38 L516.96,593.32 L516.71,593.27 L516.46,593.23 L516.21,593.18 L515.96,593.14 L515.71,593.09 L515.46,593.05 L515.21,593.01 L514.96,592.98 L514.71,592.94 L514.46,592.91 L514.21,592.87 L513.96,592.84 L513.71,592.82 L513.46,592.79 L513.21,592.77 L512.95,592.74 L512.70,592.72 L512.45,592.70 L512.20,592.68 L511.95,592.67 L511.70,592.65 L511.45,592.64 L511.20,592.63 L510.95,592.62 L510.70,592.61 L510.45,592.61 L510.20,592.60 L509.95,592.60 L509.70,592.60Z" fill="#fff" stroke="#00A8F4" stroke-width="1.2" stroke-linejoin="round"/>
<path d="M507.60,615.20 L507.85,615.20 L508.10,615.20 L508.35,615.19 L508.60,615.19 L508.85,615.19 L509.11,615.18 L509.36,615.17 L509.61,615.16 L509.86,615.15 L510.11,615.14 L510.36,615.13 L510.61,615.12 L510.86,615.11 L511.11,615.09 L511.36,615.08 L511.61,615.06 L511.87,615.04 L512.12,615.03 L512.37,615.01 L512.62,614.99 L512.87,614.97 L513.12,614.94 L513.37,614.92 L513.62,614.90 L513.87,614.87 L514.12,614.85 L514.38,614.82 L514.63,614.80 L514.88,614.77 L515.13,614.74 L515.38,614.71 L515.63,614.68 L515.88,614.65 L516.13,614.62 L516.38,614.59 L516.63,614.56 L516.88,614.53 L517.14,614.49 L517.39,614.46 L517.64,614.43 L517.89,614.39 L518.14,614.36 L518.39,614.32 L518.64,614.28 L518.89,614.25 L519.14,614.21 L519.39,614.17 L519.64,614.12 L519.90,614.06 L520.15,613.99 L520.40,613.91 L520.65,613.83 L520.90,613.74 L521.15,613.64 L521.40,613.55 L521.65,613.45 L521.90,613.35 L522.15,613.25 L522.40,613.16 L522.66,613.06 L522.91,612.97 L523.16,612.88 L523.41,612.80 L523.66,612.72 L523.91,612.63 L524.16,612.55 L524.41,612.46 L524.66,612.37 L524.91,612.28 L525.16,612.19 L525.42,612.10 L525.67,612.02 L525.92,611.93 L526.17,611.85 L526.42,611.76 L526.67,611.68 L526.92,611.61 L527.17,611.53 L527.42,611.47 L527.67,611.40 L527.92,611.34 L528.18,611.29 L528.43,611.24 L528.68,611.20 L528.93,611.17 L529.18,611.13 L529.43,611.10 L529.68,611.06 L529.93,611.03 L530.18,610.99 L530.43,610.96 L530.69,610.93 L530.94,610.90 L531.19,610.87 L531.44,610.85 L531.69,610.82 L531.94,610.80 L532.19,610.78 L532.44,610.76 L532.69,610.74 L532.94,610.73 L533.19,610.72 L533.45,610.71 L533.70,610.70 L533.95,610.70 L534.20,610.70 L534.45,610.72 L534.70,610.75 L534.95,610.79 L535.20,610.84 L535.45,610.89 L535.70,610.96 L535.95,611.03 L536.21,611.11 L536.46,611.19 L536.71,611.28 L536.96,611.37 L537.21,611.47 L537.46,611.56 L537.71,611.66 L537.96,611.76 L538.21,611.85 L538.46,611.94 L538.71,612.04 L538.97,612.12 L539.22,612.21 L539.47,612.29 L539.72,612.38 L539.97,612.47 L540.22,612.56 L540.47,612.66 L540.72,612.76 L540.97,612.86 L541.22,612.96 L541.48,613.07 L541.73,613.17 L541.98,613.27 L542.23,613.37 L542.48,613.47 L542.73,613.56 L542.98,613.65 L543.23,613.74 L543.48,613.82 L543.73,613.90 L543.98,613.97 L544.24,614.04 L544.49,614.10 L544.74,614.15 L544.99,614.21 L545.24,614.26 L545.49,614.31 L545.74,614.36 L545.99,614.41 L546.24,614.46 L546.49,614.51 L546.74,614.56 L547.00,614.60 L547.25,614.65 L547.50,614.69 L547.75,614.72 L548.00,614.76 L548.25,614.80 L548.50,614.83 L548.75,614.86 L549.00,614.88 L549.25,614.90 L549.50,614.92 L549.76,614.94 L550.01,614.95 L550.26,614.96 L550.51,614.97 L550.76,614.98 L551.01,614.99 L551.26,615.00 L551.51,615.01 L551.76,615.02 L552.01,615.03 L552.26,615.03 L552.52,615.04 L552.77,615.05 L553.02,615.06 L553.27,615.07 L553.52,615.07 L553.77,615.08 L554.02,615.09 L554.27,615.10 L554.52,615.10 L554.77,615.11 L555.02,615.12 L555.28,615.12 L555.53,615.13 L555.78,615.13 L556.03,615.14 L556.28,615.14 L556.53,615.15 L556.78,615.15 L557.03,615.16 L557.28,615.16 L557.53,615.17 L557.79,615.17 L558.04,615.17 L558.29,615.18 L558.54,615.18 L558.79,615.18 L559.04,615.19 L559.29,615.19 L559.54,615.19 L559.79,615.19 L560.04,615.19 L560.29,615.20 L560.55,615.20 L560.80,615.20 L561.05,615.20 L561.30,615.20 L561.55,615.20 L561.80,615.20 L561.80,615.20 L561.55,615.20 L561.30,615.20 L561.05,615.20 L560.80,615.20 L560.55,615.20 L560.29,615.20 L560.04,615.21 L559.79,615.21 L559.54,615.21 L559.29,615.21 L559.04,615.21 L558.79,615.22 L558.54,615.22 L558.29,615.22 L558.04,615.23 L557.79,615.23 L557.53,615.23 L557.28,615.24 L557.03,615.24 L556.78,615.25 L556.53,615.25 L556.28,615.26 L556.03,615.26 L555.78,615.27 L555.53,615.27 L555.28,615.28 L555.02,615.28 L554.77,615.29 L554.52,615.30 L554.27,615.30 L554.02,615.31 L553.77,615.32 L553.52,615.33 L553.27,615.33 L553.02,615.34 L552.77,615.35 L552.52,615.36 L552.26,615.37 L552.01,615.37 L551.76,615.38 L551.51,615.39 L551.26,615.40 L551.01,615.41 L550.76,615.42 L550.51,615.43 L550.26,615.44 L550.01,615.45 L549.76,615.46 L549.50,615.48 L549.25,615.50 L549.00,615.52 L548.75,615.54 L548.50,615.57 L548.25,615.60 L548.00,615.64 L547.75,615.68 L547.50,615.71 L547.25,615.75 L547.00,615.80 L546.74,615.84 L546.49,615.89 L546.24,615.94 L545.99,615.99 L545.74,616.04 L545.49,616.09 L545.24,616.14 L544.99,616.19 L544.74,616.25 L544.49,616.30 L544.24,616.36 L543.98,616.43 L543.73,616.50 L543.48,616.58 L543.23,616.66 L542.98,616.75 L542.73,616.84 L542.48,616.93 L542.23,617.03 L541.98,617.13 L541.73,617.23 L541.48,617.33 L541.22,617.44 L540.97,617.54 L540.72,617.64 L540.47,617.74 L540.22,617.84 L539.97,617.93 L539.72,618.02 L539.47,618.11 L539.22,618.19 L538.97,618.28 L538.71,618.36 L538.46,618.46 L538.21,618.55 L537.96,618.64 L537.71,618.74 L537.46,618.84 L537.21,618.93 L536.96,619.03 L536.71,619.12 L536.46,619.21 L536.21,619.29 L535.95,619.37 L535.70,619.44 L535.45,619.51 L535.20,619.56 L534.95,619.61 L534.70,619.65 L534.45,619.68 L534.20,619.70 L533.95,619.70 L533.70,619.70 L533.45,619.69 L533.19,619.68 L532.94,619.67 L532.69,619.66 L532.44,619.64 L532.19,619.62 L531.94,619.60 L531.69,619.58 L531.44,619.55 L531.19,619.53 L530.94,619.50 L530.69,619.47 L530.43,619.44 L530.18,619.41 L529.93,619.37 L529.68,619.34 L529.43,619.30 L529.18,619.27 L528.93,619.23 L528.68,619.20 L528.43,619.16 L528.18,619.11 L527.92,619.06 L527.67,619.00 L527.42,618.93 L527.17,618.87 L526.92,618.79 L526.67,618.72 L526.42,618.64 L526.17,618.55 L525.92,618.47 L525.67,618.38 L525.42,618.30 L525.16,618.21 L524.91,618.12 L524.66,618.03 L524.41,617.94 L524.16,617.85 L523.91,617.77 L523.66,617.68 L523.41,617.60 L523.16,617.52 L522.91,617.43 L522.66,617.34 L522.40,617.24 L522.15,617.15 L521.90,617.05 L521.65,616.95 L521.40,616.85 L521.15,616.76 L520.90,616.66 L520.65,616.57 L520.40,616.49 L520.15,616.41 L519.90,616.34 L519.64,616.28 L519.39,616.23 L519.14,616.19 L518.89,616.15 L518.64,616.12 L518.39,616.08 L518.14,616.04 L517.89,616.01 L517.64,615.97 L517.39,615.94 L517.14,615.91 L516.88,615.87 L516.63,615.84 L516.38,615.81 L516.13,615.78 L515.88,615.75 L515.63,615.72 L515.38,615.69 L515.13,615.66 L514.88,615.63 L514.63,615.60 L514.38,615.58 L514.12,615.55 L513.87,615.53 L513.62,615.50 L513.37,615.48 L513.12,615.46 L512.87,615.43 L512.62,615.41 L512.37,615.39 L512.12,615.37 L511.87,615.36 L511.61,615.34 L511.36,615.32 L511.11,615.31 L510.86,615.29 L510.61,615.28 L510.36,615.27 L510.11,615.26 L509.86,615.25 L509.61,615.24 L509.36,615.23 L509.11,615.22 L508.85,615.21 L508.60,615.21 L508.35,615.21 L508.10,615.20 L507.85,615.20 L507.60,615.20Z" fill="#fff" stroke="#00A8F4" stroke-width="1.2" stroke-linejoin="round"/>
<path d="M506.10,683.00 L506.35,683.00 L506.60,683.00 L506.85,682.99 L507.10,682.98 L507.35,682.97 L507.60,682.96 L507.85,682.95 L508.10,682.93 L508.35,682.91 L508.60,682.89 L508.85,682.87 L509.10,682.85 L509.35,682.82 L509.60,682.79 L509.85,682.76 L510.10,682.73 L510.35,682.70 L510.60,682.67 L510.85,682.64 L511.10,682.60 L511.35,682.56 L511.60,682.52 L511.85,682.48 L512.11,682.44 L512.36,682.40 L512.61,682.36 L512.86,682.31 L513.11,682.27 L513.36,682.22 L513.61,682.18 L513.86,682.13 L514.11,682.08 L514.36,682.03 L514.61,681.98 L514.86,681.93 L515.11,681.88 L515.36,681.83 L515.61,681.78 L515.86,681.73 L516.11,681.68 L516.36,681.62 L516.61,681.56 L516.86,681.49 L517.11,681.41 L517.36,681.34 L517.61,681.25 L517.86,681.16 L518.11,681.07 L518.36,680.97 L518.61,680.87 L518.86,680.77 L519.11,680.66 L519.36,680.55 L519.61,680.44 L519.86,680.32 L520.11,680.20 L520.36,680.08 L520.61,679.95 L520.86,679.83 L521.11,679.70 L521.36,679.57 L521.61,679.41 L521.86,679.23 L522.11,679.02 L522.36,678.79 L522.61,678.56 L522.86,678.31 L523.11,678.06 L523.36,677.81 L523.62,677.57 L523.87,677.34 L524.12,677.13 L524.37,676.94 L524.62,676.78 L524.87,676.65 L525.12,676.56 L525.37,676.51 L525.62,676.50 L525.87,676.52 L526.12,676.55 L526.37,676.60 L526.62,676.67 L526.87,676.75 L527.12,676.83 L527.37,676.93 L527.62,677.04 L527.87,677.16 L528.12,677.28 L528.37,677.40 L528.62,677.53 L528.87,677.67 L529.12,677.80 L529.37,677.93 L529.62,678.06 L529.87,678.19 L530.12,678.36 L530.37,678.54 L530.62,678.75 L530.87,678.98 L531.12,679.21 L531.37,679.46 L531.62,679.70 L531.87,679.95 L532.12,680.19 L532.37,680.42 L532.62,680.64 L532.87,680.84 L533.12,681.02 L533.37,681.17 L533.62,681.29 L533.87,681.37 L534.12,681.42 L534.37,681.46 L534.62,681.50 L534.87,681.54 L535.13,681.57 L535.38,681.60 L535.63,681.63 L535.88,681.65 L536.13,681.68 L536.38,681.70 L536.63,681.72 L536.88,681.74 L537.13,681.76 L537.38,681.78 L537.63,681.80 L537.88,681.82 L538.13,681.83 L538.38,681.85 L538.63,681.87 L538.88,681.88 L539.13,681.90 L539.38,681.92 L539.63,681.94 L539.88,681.96 L540.13,681.98 L540.38,682.01 L540.63,682.03 L540.88,682.06 L541.13,682.09 L541.38,682.11 L541.63,682.14 L541.88,682.17 L542.13,682.20 L542.38,682.23 L542.63,682.26 L542.88,682.29 L543.13,682.32 L543.38,682.35 L543.63,682.38 L543.88,682.41 L544.13,682.44 L544.38,682.47 L544.63,682.49 L544.88,682.52 L545.13,682.55 L545.38,682.57 L545.63,682.60 L545.88,682.62 L546.13,682.64 L546.38,682.66 L546.64,682.68 L546.89,682.70 L547.14,682.71 L547.39,682.73 L547.64,682.74 L547.89,682.75 L548.14,682.75 L548.39,682.76 L548.64,682.77 L548.89,682.78 L549.14,682.78 L549.39,682.79 L549.64,682.80 L549.89,682.80 L550.14,682.81 L550.39,682.82 L550.64,682.82 L550.89,682.83 L551.14,682.84 L551.39,682.84 L551.64,682.85 L551.89,682.85 L552.14,682.86 L552.39,682.86 L552.64,682.87 L552.89,682.88 L553.14,682.88 L553.39,682.89 L553.64,682.89 L553.89,682.90 L554.14,682.90 L554.39,682.91 L554.64,682.91 L554.89,682.92 L555.14,682.92 L555.39,682.92 L555.64,682.93 L555.89,682.93 L556.14,682.94 L556.39,682.94 L556.64,682.94 L556.89,682.95 L557.14,682.95 L557.39,682.96 L557.64,682.96 L557.89,682.96 L558.15,682.96 L558.40,682.97 L558.65,682.97 L558.90,682.97 L559.15,682.98 L559.40,682.98 L559.65,682.98 L559.90,682.98 L560.15,682.98 L560.40,682.99 L560.65,682.99 L560.90,682.99 L561.15,682.99 L561.40,682.99 L561.65,682.99 L561.90,683.00 L562.15,683.00 L562.40,683.00 L562.65,683.00 L562.90,683.00 L563.15,683.00 L563.40,683.00 L563.65,683.00 L563.90,683.00 L563.90,683.00 L563.65,683.00 L563.40,683.00 L563.15,683.00 L562.90,683.00 L562.65,683.00 L562.40,683.00 L562.15,683.00 L561.90,683.00 L561.65,683.01 L561.40,683.01 L561.15,683.01 L560.90,683.01 L560.65,683.01 L560.40,683.01 L560.15,683.02 L559.90,683.02 L559.65,683.02 L559.40,683.02 L559.15,683.02 L558.90,683.03 L558.65,683.03 L558.40,683.03 L558.15,683.04 L557.89,683.04 L557.64,683.04 L557.39,683.04 L557.14,683.05 L556.89,683.05 L556.64,683.06 L556.39,683.06 L556.14,683.06 L555.89,683.07 L555.64,683.07 L555.39,683.08 L555.14,683.08 L554.89,683.08 L554.64,683.09 L554.39,683.09 L554.14,683.10 L553.89,683.10 L553.64,683.11 L553.39,683.11 L553.14,683.12 L552.89,683.12 L552.64,683.13 L552.39,683.14 L552.14,683.14 L551.89,683.15 L551.64,683.15 L551.39,683.16 L551.14,683.16 L550.89,683.17 L550.64,683.18 L550.39,683.18 L550.14,683.19 L549.89,683.20 L549.64,683.20 L549.39,683.21 L549.14,683.22 L548.89,683.22 L548.64,683.23 L548.39,683.24 L548.14,683.25 L547.89,683.25 L547.64,683.26 L547.39,683.27 L547.14,683.29 L546.89,683.30 L546.64,683.32 L546.38,683.34 L546.13,683.36 L545.88,683.38 L545.63,683.40 L545.38,683.43 L545.13,683.45 L544.88,683.48 L544.63,683.51 L544.38,683.53 L544.13,683.56 L543.88,683.59 L543.63,683.62 L543.38,683.65 L543.13,683.68 L542.88,683.71 L542.63,683.74 L542.38,683.77 L542.13,683.80 L541.88,683.83 L541.63,683.86 L541.38,683.89 L541.13,683.91 L540.88,683.94 L540.63,683.97 L540.38,683.99 L540.13,684.02 L539.88,684.04 L539.63,684.06 L539.38,684.08 L539.13,684.10 L538.88,684.12 L538.63,684.13 L538.38,684.15 L538.13,684.17 L537.88,684.18 L537.63,684.20 L537.38,684.22 L537.13,684.24 L536.88,684.26 L536.63,684.28 L536.38,684.30 L536.13,684.32 L535.88,684.35 L535.63,684.37 L535.38,684.40 L535.13,684.43 L534.87,684.46 L534.62,684.50 L534.37,684.54 L534.12,684.58 L533.87,684.63 L533.62,684.71 L533.37,684.83 L533.12,684.98 L532.87,685.16 L532.62,685.36 L532.37,685.58 L532.12,685.81 L531.87,686.05 L531.62,686.30 L531.37,686.54 L531.12,686.79 L530.87,687.02 L530.62,687.25 L530.37,687.46 L530.12,687.64 L529.87,687.81 L529.62,687.94 L529.37,688.07 L529.12,688.20 L528.87,688.33 L528.62,688.47 L528.37,688.60 L528.12,688.72 L527.87,688.84 L527.62,688.96 L527.37,689.07 L527.12,689.17 L526.87,689.25 L526.62,689.33 L526.37,689.40 L526.12,689.45 L525.87,689.48 L525.62,689.50 L525.37,689.49 L525.12,689.44 L524.87,689.35 L524.62,689.22 L524.37,689.06 L524.12,688.87 L523.87,688.66 L523.62,688.43 L523.36,688.19 L523.11,687.94 L522.86,687.69 L522.61,687.44 L522.36,687.21 L522.11,686.98 L521.86,686.77 L521.61,686.59 L521.36,686.43 L521.11,686.30 L520.86,686.17 L520.61,686.05 L520.36,685.92 L520.11,685.80 L519.86,685.68 L519.61,685.56 L519.36,685.45 L519.11,685.34 L518.86,685.23 L518.61,685.13 L518.36,685.03 L518.11,684.93 L517.86,684.84 L517.61,684.75 L517.36,684.66 L517.11,684.59 L516.86,684.51 L516.61,684.44 L516.36,684.38 L516.11,684.32 L515.86,684.27 L515.61,684.22 L515.36,684.17 L515.11,684.12 L514.86,684.07 L514.61,684.02 L514.36,683.97 L514.11,683.92 L513.86,683.87 L513.61,683.82 L513.36,683.78 L513.11,683.73 L512.86,683.69 L512.61,683.64 L512.36,683.60 L512.11,683.56 L511.85,683.52 L511.60,683.48 L511.35,683.44 L511.10,683.40 L510.85,683.36 L510.60,683.33 L510.35,683.30 L510.10,683.27 L509.85,683.24 L509.60,683.21 L509.35,683.18 L509.10,683.15 L508.85,683.13 L508.60,683.11 L508.35,683.09 L508.10,683.07 L507.85,683.05 L507.60,683.04 L507.35,683.03 L507.10,683.02 L506.85,683.01 L506.60,683.00 L506.35,683.00 L506.10,683.00Z" fill="#fff" stroke="#00A8F4" stroke-width="1.2" stroke-linejoin="round"/>
<line x1="527.60" y1="533.1" x2="527.60" y2="877.2" stroke="#2a2a2a" stroke-width="1.2"/>
<circle cx="526.6" cy="592.60" r="2.85" fill="#00A8F4"/>
<circle cx="532.9" cy="615.20" r="2.85" fill="#00A8F4"/>
<circle cx="527.6" cy="683.00" r="2.85" fill="#00A8F4"/>
<line x1="491.4" y1="533.1" x2="491.4" y2="877.2" stroke="#3a3a3a" stroke-width="1.2"/>
<line x1="613.90" y1="533.1" x2="613.90" y2="877.2" stroke="#4a4a4a" stroke-width="1.3"/>
<line x1="490.54999999999995" y1="877.2" x2="614.75" y2="877.2" stroke="#262626" stroke-width="1.4"/>
<rect x="491.4" y="515.6" width="122.50" height="17.50" fill="#fff" stroke="#1a1a1a" stroke-width="1.5"/>
<text transform="translate(552.65,528.20) scale(1,1.06)" text-anchor="middle" class="st">Maternal Stressor Groups</text>
<line x1="527.60" y1="877.2" x2="527.60" y2="879.4000000000001" stroke="#222" stroke-width="1.1"/>
<text transform="translate(527.60,888.80)" text-anchor="middle" class="bnum">1</text>
<line x1="567.00" y1="877.2" x2="567.00" y2="879.4000000000001" stroke="#222" stroke-width="1.1"/>
<text transform="translate(567.00,888.80)" text-anchor="middle" class="bnum">2</text>
<line x1="606.40" y1="877.2" x2="606.40" y2="879.4000000000001" stroke="#222" stroke-width="1.1"/>
<text transform="translate(606.40,888.80)" text-anchor="middle" class="bnum">3</text>
<line x1="635.80" y1="533.1" x2="635.80" y2="877.2" stroke="#f0f0f0" stroke-width="0.9"/>
<line x1="675.20" y1="533.1" x2="675.20" y2="877.2" stroke="#f0f0f0" stroke-width="0.9"/>
<line x1="714.60" y1="533.1" x2="714.60" y2="877.2" stroke="#f0f0f0" stroke-width="0.9"/>
<line x1="694.90" y1="533.1" x2="694.90" y2="877.2" stroke="#e8e8e8" stroke-width="1.1"/>
<line x1="734.30" y1="533.1" x2="734.30" y2="877.2" stroke="#e8e8e8" stroke-width="1.1"/>
<line x1="619.8" y1="547.40" x2="741.60" y2="547.40" stroke="#e6e6e6" stroke-width="1.3"/>
<line x1="619.8" y1="570.00" x2="741.60" y2="570.00" stroke="#e6e6e6" stroke-width="1.3"/>
<line x1="619.8" y1="592.60" x2="741.60" y2="592.60" stroke="#e6e6e6" stroke-width="1.3"/>
<line x1="619.8" y1="615.20" x2="741.60" y2="615.20" stroke="#e6e6e6" stroke-width="1.3"/>
<line x1="619.8" y1="637.80" x2="741.60" y2="637.80" stroke="#e6e6e6" stroke-width="1.3"/>
<line x1="619.8" y1="660.40" x2="741.60" y2="660.40" stroke="#e6e6e6" stroke-width="1.3"/>
<line x1="619.8" y1="683.00" x2="741.60" y2="683.00" stroke="#e6e6e6" stroke-width="1.3"/>
<line x1="619.8" y1="705.60" x2="741.60" y2="705.60" stroke="#e6e6e6" stroke-width="1.3"/>
<line x1="619.8" y1="728.20" x2="741.60" y2="728.20" stroke="#e6e6e6" stroke-width="1.3"/>
<line x1="619.8" y1="750.80" x2="741.60" y2="750.80" stroke="#e6e6e6" stroke-width="1.3"/>
<line x1="619.8" y1="773.40" x2="741.60" y2="773.40" stroke="#e6e6e6" stroke-width="1.3"/>
<line x1="619.8" y1="796.00" x2="741.60" y2="796.00" stroke="#e6e6e6" stroke-width="1.3"/>
<line x1="619.8" y1="818.60" x2="741.60" y2="818.60" stroke="#e6e6e6" stroke-width="1.3"/>
<line x1="619.8" y1="841.20" x2="741.60" y2="841.20" stroke="#e6e6e6" stroke-width="1.3"/>
<line x1="619.8" y1="863.80" x2="741.60" y2="863.80" stroke="#e6e6e6" stroke-width="1.3"/>
<path d="M636.90,637.80 L637.15,637.79 L637.40,637.77 L637.65,637.75 L637.90,637.73 L638.16,637.70 L638.41,637.66 L638.66,637.63 L638.91,637.59 L639.16,637.54 L639.41,637.49 L639.66,637.44 L639.91,637.39 L640.16,637.34 L640.41,637.28 L640.67,637.23 L640.92,637.17 L641.17,637.11 L641.42,637.04 L641.67,636.97 L641.92,636.88 L642.17,636.78 L642.42,636.68 L642.67,636.57 L642.92,636.45 L643.18,636.32 L643.43,636.19 L643.68,636.06 L643.93,635.92 L644.18,635.79 L644.43,635.65 L644.68,635.51 L644.93,635.38 L645.18,635.25 L645.44,635.12 L645.69,634.99 L645.94,634.88 L646.19,634.76 L646.44,634.66 L646.69,634.57 L646.94,634.47 L647.19,634.37 L647.44,634.27 L647.69,634.16 L647.95,634.06 L648.20,633.96 L648.45,633.85 L648.70,633.75 L648.95,633.65 L649.20,633.55 L649.45,633.46 L649.70,633.37 L649.95,633.29 L650.20,633.21 L650.46,633.14 L650.71,633.07 L650.96,633.02 L651.21,632.97 L651.46,632.94 L651.71,632.91 L651.96,632.90 L652.21,632.90 L652.46,632.91 L652.71,632.92 L652.97,632.94 L653.22,632.97 L653.47,633.00 L653.72,633.03 L653.97,633.07 L654.22,633.11 L654.47,633.15 L654.72,633.19 L654.97,633.23 L655.23,633.27 L655.48,633.31 L655.73,633.35 L655.98,633.38 L656.23,633.42 L656.48,633.44 L656.73,633.47 L656.98,633.48 L657.23,633.50 L657.48,633.50 L657.74,633.50 L657.99,633.49 L658.24,633.48 L658.49,633.47 L658.74,633.46 L658.99,633.44 L659.24,633.42 L659.49,633.40 L659.74,633.37 L659.99,633.34 L660.25,633.32 L660.50,633.29 L660.75,633.26 L661.00,633.23 L661.25,633.20 L661.50,633.17 L661.75,633.14 L662.00,633.11 L662.25,633.08 L662.51,633.06 L662.76,633.03 L663.01,633.00 L663.26,632.98 L663.51,632.96 L663.76,632.94 L664.01,632.93 L664.26,632.92 L664.51,632.91 L664.76,632.90 L665.02,632.90 L665.27,632.91 L665.52,632.92 L665.77,632.94 L666.02,632.97 L666.27,633.01 L666.52,633.05 L666.77,633.10 L667.02,633.16 L667.27,633.22 L667.53,633.29 L667.78,633.36 L668.03,633.43 L668.28,633.51 L668.53,633.59 L668.78,633.67 L669.03,633.76 L669.28,633.85 L669.53,633.93 L669.79,634.02 L670.04,634.11 L670.29,634.20 L670.54,634.29 L670.79,634.37 L671.04,634.45 L671.29,634.53 L671.54,634.61 L671.79,634.69 L672.04,634.78 L672.30,634.87 L672.55,634.97 L672.80,635.07 L673.05,635.17 L673.30,635.28 L673.55,635.39 L673.80,635.50 L674.05,635.61 L674.30,635.72 L674.55,635.83 L674.81,635.94 L675.06,636.05 L675.31,636.15 L675.56,636.26 L675.81,636.36 L676.06,636.45 L676.31,636.54 L676.56,636.63 L676.81,636.71 L677.06,636.79 L677.32,636.85 L677.57,636.92 L677.82,636.97 L678.07,637.01 L678.32,637.05 L678.57,637.09 L678.82,637.13 L679.07,637.17 L679.32,637.21 L679.58,637.25 L679.83,637.29 L680.08,637.33 L680.33,637.37 L680.58,637.40 L680.83,637.44 L681.08,637.47 L681.33,637.50 L681.58,637.53 L681.83,637.56 L682.09,637.59 L682.34,637.62 L682.59,637.64 L682.84,637.67 L683.09,637.69 L683.34,637.71 L683.59,637.73 L683.84,637.74 L684.09,637.76 L684.34,637.77 L684.60,637.78 L684.85,637.79 L685.10,637.80 L685.35,637.80 L685.60,637.80 L685.60,637.80 L685.35,637.80 L685.10,637.80 L684.85,637.81 L684.60,637.82 L684.34,637.83 L684.09,637.84 L683.84,637.86 L683.59,637.87 L683.34,637.89 L683.09,637.91 L682.84,637.93 L682.59,637.96 L682.34,637.98 L682.09,638.01 L681.83,638.04 L681.58,638.07 L681.33,638.10 L681.08,638.13 L680.83,638.16 L680.58,638.20 L680.33,638.23 L680.08,638.27 L679.83,638.31 L679.58,638.35 L679.32,638.39 L679.07,638.43 L678.82,638.47 L678.57,638.51 L678.32,638.55 L678.07,638.59 L677.82,638.63 L677.57,638.68 L677.32,638.75 L677.06,638.81 L676.81,638.89 L676.56,638.97 L676.31,639.06 L676.06,639.15 L675.81,639.24 L675.56,639.34 L675.31,639.45 L675.06,639.55 L674.81,639.66 L674.55,639.77 L674.30,639.88 L674.05,639.99 L673.80,640.10 L673.55,640.21 L673.30,640.32 L673.05,640.43 L672.80,640.53 L672.55,640.63 L672.30,640.73 L672.04,640.82 L671.79,640.91 L671.54,640.99 L671.29,641.07 L671.04,641.15 L670.79,641.23 L670.54,641.31 L670.29,641.40 L670.04,641.49 L669.79,641.58 L669.53,641.67 L669.28,641.75 L669.03,641.84 L668.78,641.93 L668.53,642.01 L668.28,642.09 L668.03,642.17 L667.78,642.24 L667.53,642.31 L667.27,642.38 L667.02,642.44 L666.77,642.50 L666.52,642.55 L666.27,642.59 L666.02,642.63 L665.77,642.66 L665.52,642.68 L665.27,642.69 L665.02,642.70 L664.76,642.70 L664.51,642.69 L664.26,642.68 L664.01,642.67 L663.76,642.66 L663.51,642.64 L663.26,642.62 L663.01,642.60 L662.76,642.57 L662.51,642.54 L662.25,642.52 L662.00,642.49 L661.75,642.46 L661.50,642.43 L661.25,642.40 L661.00,642.37 L660.75,642.34 L660.50,642.31 L660.25,642.28 L659.99,642.26 L659.74,642.23 L659.49,642.20 L659.24,642.18 L658.99,642.16 L658.74,642.14 L658.49,642.13 L658.24,642.12 L657.99,642.11 L657.74,642.10 L657.48,642.10 L657.23,642.10 L656.98,642.12 L656.73,642.13 L656.48,642.16 L656.23,642.18 L655.98,642.22 L655.73,642.25 L655.48,642.29 L655.23,642.33 L654.97,642.37 L654.72,642.41 L654.47,642.45 L654.22,642.49 L653.97,642.53 L653.72,642.57 L653.47,642.60 L653.22,642.63 L652.97,642.66 L652.71,642.68 L652.46,642.69 L652.21,642.70 L651.96,642.70 L651.71,642.69 L651.46,642.66 L651.21,642.63 L650.96,642.58 L650.71,642.53 L650.46,642.46 L650.20,642.39 L649.95,642.31 L649.70,642.23 L649.45,642.14 L649.20,642.05 L648.95,641.95 L648.70,641.85 L648.45,641.75 L648.20,641.64 L647.95,641.54 L647.69,641.44 L647.44,641.33 L647.19,641.23 L646.94,641.13 L646.69,641.03 L646.44,640.94 L646.19,640.84 L645.94,640.72 L645.69,640.61 L645.44,640.48 L645.18,640.35 L644.93,640.22 L644.68,640.09 L644.43,639.95 L644.18,639.81 L643.93,639.68 L643.68,639.54 L643.43,639.41 L643.18,639.28 L642.92,639.15 L642.67,639.03 L642.42,638.92 L642.17,638.82 L641.92,638.72 L641.67,638.63 L641.42,638.56 L641.17,638.49 L640.92,638.43 L640.67,638.37 L640.41,638.32 L640.16,638.26 L639.91,638.21 L639.66,638.16 L639.41,638.11 L639.16,638.06 L638.91,638.01 L638.66,637.97 L638.41,637.94 L638.16,637.90 L637.90,637.87 L637.65,637.85 L637.40,637.83 L637.15,637.81 L636.90,637.80Z" fill="#fff" stroke="#F55CEE" stroke-width="1.2" stroke-linejoin="round"/>
<path d="M634.70,705.60 L634.95,705.59 L635.20,705.58 L635.45,705.57 L635.70,705.55 L635.95,705.53 L636.20,705.51 L636.45,705.48 L636.71,705.46 L636.96,705.42 L637.21,705.39 L637.46,705.35 L637.71,705.31 L637.96,705.27 L638.21,705.23 L638.46,705.18 L638.71,705.13 L638.96,705.08 L639.21,705.03 L639.46,704.98 L639.71,704.93 L639.96,704.88 L640.21,704.82 L640.46,704.77 L640.72,704.71 L640.97,704.65 L641.22,704.60 L641.47,704.54 L641.72,704.47 L641.97,704.40 L642.22,704.33 L642.47,704.25 L642.72,704.17 L642.97,704.08 L643.22,703.99 L643.47,703.90 L643.72,703.80 L643.97,703.70 L644.22,703.59 L644.47,703.48 L644.73,703.37 L644.98,703.25 L645.23,703.13 L645.48,703.01 L645.73,702.88 L645.98,702.76 L646.23,702.62 L646.48,702.49 L646.73,702.35 L646.98,702.21 L647.23,702.07 L647.48,701.93 L647.73,701.78 L647.98,701.63 L648.23,701.46 L648.48,701.28 L648.74,701.09 L648.99,700.89 L649.24,700.68 L649.49,700.46 L649.74,700.24 L649.99,700.01 L650.24,699.77 L650.49,699.54 L650.74,699.30 L650.99,699.06 L651.24,698.82 L651.49,698.58 L651.74,698.34 L651.99,698.10 L652.24,697.86 L652.49,697.58 L652.75,697.28 L653.00,696.96 L653.25,696.62 L653.50,696.29 L653.75,695.97 L654.00,695.67 L654.25,695.39 L654.50,695.16 L654.75,694.98 L655.00,694.86 L655.25,694.80 L655.50,694.85 L655.75,695.04 L656.00,695.36 L656.25,695.77 L656.50,696.26 L656.75,696.81 L657.01,697.38 L657.26,697.97 L657.51,698.54 L657.76,699.07 L658.01,699.54 L658.26,699.93 L658.51,700.21 L658.76,700.43 L659.01,700.65 L659.26,700.85 L659.51,701.05 L659.76,701.24 L660.01,701.43 L660.26,701.60 L660.51,701.77 L660.76,701.93 L661.02,702.09 L661.27,702.24 L661.52,702.38 L661.77,702.51 L662.02,702.64 L662.27,702.75 L662.52,702.87 L662.77,702.97 L663.02,703.07 L663.27,703.17 L663.52,703.25 L663.77,703.33 L664.02,703.41 L664.27,703.48 L664.52,703.54 L664.77,703.60 L665.03,703.66 L665.28,703.71 L665.53,703.76 L665.78,703.81 L666.03,703.86 L666.28,703.90 L666.53,703.95 L666.78,703.99 L667.03,704.03 L667.28,704.07 L667.53,704.11 L667.78,704.14 L668.03,704.18 L668.28,704.22 L668.53,704.26 L668.78,704.30 L669.04,704.34 L669.29,704.38 L669.54,704.42 L669.79,704.46 L670.04,704.51 L670.29,704.56 L670.54,704.61 L670.79,704.66 L671.04,704.71 L671.29,704.77 L671.54,704.82 L671.79,704.88 L672.04,704.94 L672.29,704.99 L672.54,705.05 L672.79,705.11 L673.05,705.17 L673.30,705.23 L673.55,705.29 L673.80,705.35 L674.05,705.41 L674.30,705.47 L674.55,705.54 L674.80,705.60 L674.80,705.60 L674.55,705.66 L674.30,705.73 L674.05,705.79 L673.80,705.85 L673.55,705.91 L673.30,705.97 L673.05,706.03 L672.79,706.09 L672.54,706.15 L672.29,706.21 L672.04,706.26 L671.79,706.32 L671.54,706.38 L671.29,706.43 L671.04,706.49 L670.79,706.54 L670.54,706.59 L670.29,706.64 L670.04,706.69 L669.79,706.74 L669.54,706.78 L669.29,706.82 L669.04,706.86 L668.78,706.90 L668.53,706.94 L668.28,706.98 L668.03,707.02 L667.78,707.06 L667.53,707.09 L667.28,707.13 L667.03,707.17 L666.78,707.21 L666.53,707.25 L666.28,707.30 L666.03,707.34 L665.78,707.39 L665.53,707.44 L665.28,707.49 L665.03,707.54 L664.77,707.60 L664.52,707.66 L664.27,707.72 L664.02,707.79 L663.77,707.87 L663.52,707.95 L663.27,708.03 L663.02,708.13 L662.77,708.23 L662.52,708.33 L662.27,708.45 L662.02,708.56 L661.77,708.69 L661.52,708.82 L661.27,708.96 L661.02,709.11 L660.76,709.27 L660.51,709.43 L660.26,709.60 L660.01,709.77 L659.76,709.96 L659.51,710.15 L659.26,710.35 L659.01,710.55 L658.76,710.77 L658.51,710.99 L658.26,711.27 L658.01,711.66 L657.76,712.13 L657.51,712.66 L657.26,713.23 L657.01,713.82 L656.75,714.39 L656.50,714.94 L656.25,715.43 L656.00,715.84 L655.75,716.16 L655.50,716.35 L655.25,716.40 L655.00,716.34 L654.75,716.22 L654.50,716.04 L654.25,715.81 L654.00,715.53 L653.75,715.23 L653.50,714.91 L653.25,714.58 L653.00,714.24 L652.75,713.92 L652.49,713.62 L652.24,713.34 L651.99,713.10 L651.74,712.86 L651.49,712.62 L651.24,712.38 L650.99,712.14 L650.74,711.90 L650.49,711.66 L650.24,711.43 L649.99,711.19 L649.74,710.96 L649.49,710.74 L649.24,710.52 L648.99,710.31 L648.74,710.11 L648.48,709.92 L648.23,709.74 L647.98,709.57 L647.73,709.42 L647.48,709.27 L647.23,709.13 L646.98,708.99 L646.73,708.85 L646.48,708.71 L646.23,708.58 L645.98,708.44 L645.73,708.32 L645.48,708.19 L645.23,708.07 L644.98,707.95 L644.73,707.83 L644.47,707.72 L644.22,707.61 L643.97,707.50 L643.72,707.40 L643.47,707.30 L643.22,707.21 L642.97,707.12 L642.72,707.03 L642.47,706.95 L642.22,706.87 L641.97,706.80 L641.72,706.73 L641.47,706.66 L641.22,706.60 L640.97,706.55 L640.72,706.49 L640.46,706.43 L640.21,706.38 L639.96,706.32 L639.71,706.27 L639.46,706.22 L639.21,706.17 L638.96,706.12 L638.71,706.07 L638.46,706.02 L638.21,705.97 L637.96,705.93 L637.71,705.89 L637.46,705.85 L637.21,705.81 L636.96,705.78 L636.71,705.74 L636.45,705.72 L636.20,705.69 L635.95,705.67 L635.70,705.65 L635.45,705.63 L635.20,705.62 L634.95,705.61 L634.70,705.60Z" fill="#fff" stroke="#F55CEE" stroke-width="1.2" stroke-linejoin="round"/>
<path d="M642.40,796.00 L642.65,796.00 L642.90,795.99 L643.15,795.98 L643.40,795.96 L643.66,795.94 L643.91,795.92 L644.16,795.89 L644.41,795.86 L644.66,795.82 L644.91,795.78 L645.16,795.74 L645.41,795.69 L645.66,795.64 L645.92,795.59 L646.17,795.54 L646.42,795.48 L646.67,795.42 L646.92,795.35 L647.17,795.29 L647.42,795.22 L647.67,795.15 L647.92,795.08 L648.18,795.01 L648.43,794.92 L648.68,794.80 L648.93,794.66 L649.18,794.49 L649.43,794.30 L649.68,794.09 L649.93,793.87 L650.18,793.64 L650.44,793.40 L650.69,793.15 L650.94,792.91 L651.19,792.66 L651.44,792.42 L651.69,792.19 L651.94,791.97 L652.19,791.76 L652.44,791.57 L652.70,791.38 L652.95,791.18 L653.20,790.97 L653.45,790.76 L653.70,790.54 L653.95,790.33 L654.20,790.12 L654.45,789.92 L654.70,789.73 L654.96,789.54 L655.21,789.37 L655.46,789.22 L655.71,789.09 L655.96,788.97 L656.21,788.88 L656.46,788.82 L656.71,788.79 L656.96,788.75 L657.22,788.72 L657.47,788.70 L657.72,788.67 L657.97,788.64 L658.22,788.62 L658.47,788.60 L658.72,788.58 L658.97,788.56 L659.22,788.55 L659.48,788.53 L659.73,788.52 L659.98,788.51 L660.23,788.51 L660.48,788.50 L660.73,788.50 L660.98,788.50 L661.23,788.52 L661.48,788.55 L661.74,788.60 L661.99,788.65 L662.24,788.72 L662.49,788.79 L662.74,788.88 L662.99,788.98 L663.24,789.08 L663.49,789.19 L663.74,789.31 L664.00,789.43 L664.25,789.56 L664.50,789.69 L664.75,789.82 L665.00,789.96 L665.25,790.10 L665.50,790.24 L665.75,790.38 L666.00,790.52 L666.26,790.66 L666.51,790.79 L666.76,790.93 L667.01,791.05 L667.26,791.18 L667.51,791.33 L667.76,791.48 L668.01,791.65 L668.26,791.82 L668.52,792.01 L668.77,792.20 L669.02,792.39 L669.27,792.58 L669.52,792.78 L669.77,792.97 L670.02,793.16 L670.27,793.34 L670.52,793.52 L670.78,793.68 L671.03,793.84 L671.28,793.98 L671.53,794.10 L671.78,794.21 L672.03,794.30 L672.28,794.37 L672.53,794.43 L672.78,794.47 L673.04,794.51 L673.29,794.56 L673.54,794.59 L673.79,794.63 L674.04,794.66 L674.29,794.70 L674.54,794.73 L674.79,794.76 L675.04,794.78 L675.30,794.81 L675.55,794.83 L675.80,794.86 L676.05,794.88 L676.30,794.90 L676.55,794.92 L676.80,794.95 L677.05,794.97 L677.30,794.99 L677.56,795.01 L677.81,795.03 L678.06,795.05 L678.31,795.07 L678.56,795.09 L678.81,795.11 L679.06,795.14 L679.31,795.16 L679.56,795.19 L679.82,795.21 L680.07,795.24 L680.32,795.26 L680.57,795.29 L680.82,795.32 L681.07,795.34 L681.32,795.37 L681.57,795.40 L681.82,795.42 L682.08,795.45 L682.33,795.47 L682.58,795.50 L682.83,795.52 L683.08,795.55 L683.33,795.58 L683.58,795.60 L683.83,795.63 L684.08,795.65 L684.34,795.68 L684.59,795.70 L684.84,795.73 L685.09,795.75 L685.34,795.78 L685.59,795.80 L685.84,795.83 L686.09,795.85 L686.34,795.88 L686.60,795.90 L686.85,795.93 L687.10,795.95 L687.35,795.98 L687.60,796.00 L687.60,796.00 L687.35,796.02 L687.10,796.05 L686.85,796.07 L686.60,796.10 L686.34,796.12 L686.09,796.15 L685.84,796.17 L685.59,796.20 L685.34,796.22 L685.09,796.25 L684.84,796.27 L684.59,796.30 L684.34,796.32 L684.08,796.35 L683.83,796.37 L683.58,796.40 L683.33,796.42 L683.08,796.45 L682.83,796.48 L682.58,796.50 L682.33,796.53 L682.08,796.55 L681.82,796.58 L681.57,796.60 L681.32,796.63 L681.07,796.66 L680.82,796.68 L680.57,796.71 L680.32,796.74 L680.07,796.76 L679.82,796.79 L679.56,796.81 L679.31,796.84 L679.06,796.86 L678.81,796.89 L678.56,796.91 L678.31,796.93 L678.06,796.95 L677.81,796.97 L677.56,796.99 L677.30,797.01 L677.05,797.03 L676.80,797.05 L676.55,797.08 L676.30,797.10 L676.05,797.12 L675.80,797.14 L675.55,797.17 L675.30,797.19 L675.04,797.22 L674.79,797.24 L674.54,797.27 L674.29,797.30 L674.04,797.34 L673.79,797.37 L673.54,797.41 L673.29,797.44 L673.04,797.49 L672.78,797.53 L672.53,797.57 L672.28,797.63 L672.03,797.70 L671.78,797.79 L671.53,797.90 L671.28,798.02 L671.03,798.16 L670.78,798.32 L670.52,798.48 L670.27,798.66 L670.02,798.84 L669.77,799.03 L669.52,799.22 L669.27,799.42 L669.02,799.61 L668.77,799.80 L668.52,799.99 L668.26,800.18 L668.01,800.35 L667.76,800.52 L667.51,800.67 L667.26,800.82 L667.01,800.95 L666.76,801.07 L666.51,801.21 L666.26,801.34 L666.00,801.48 L665.75,801.62 L665.50,801.76 L665.25,801.90 L665.00,802.04 L664.75,802.18 L664.50,802.31 L664.25,802.44 L664.00,802.57 L663.74,802.69 L663.49,802.81 L663.24,802.92 L662.99,803.02 L662.74,803.12 L662.49,803.21 L662.24,803.28 L661.99,803.35 L661.74,803.40 L661.48,803.45 L661.23,803.48 L660.98,803.50 L660.73,803.50 L660.48,803.50 L660.23,803.49 L659.98,803.49 L659.73,803.48 L659.48,803.47 L659.22,803.45 L658.97,803.44 L658.72,803.42 L658.47,803.40 L658.22,803.38 L657.97,803.36 L657.72,803.33 L657.47,803.30 L657.22,803.28 L656.96,803.25 L656.71,803.21 L656.46,803.18 L656.21,803.12 L655.96,803.03 L655.71,802.91 L655.46,802.78 L655.21,802.63 L654.96,802.46 L654.70,802.27 L654.45,802.08 L654.20,801.88 L653.95,801.67 L653.70,801.46 L653.45,801.24 L653.20,801.03 L652.95,800.82 L652.70,800.62 L652.44,800.43 L652.19,800.24 L651.94,800.03 L651.69,799.81 L651.44,799.58 L651.19,799.34 L650.94,799.09 L650.69,798.85 L650.44,798.60 L650.18,798.36 L649.93,798.13 L649.68,797.91 L649.43,797.70 L649.18,797.51 L648.93,797.34 L648.68,797.20 L648.43,797.08 L648.18,796.99 L647.92,796.92 L647.67,796.85 L647.42,796.78 L647.17,796.71 L646.92,796.65 L646.67,796.58 L646.42,796.52 L646.17,796.46 L645.92,796.41 L645.66,796.36 L645.41,796.31 L645.16,796.26 L644.91,796.22 L644.66,796.18 L644.41,796.14 L644.16,796.11 L643.91,796.08 L643.66,796.06 L643.40,796.04 L643.15,796.02 L642.90,796.01 L642.65,796.00 L642.40,796.00Z" fill="#fff" stroke="#F55CEE" stroke-width="1.2" stroke-linejoin="round"/>
<line x1="655.50" y1="533.1" x2="655.50" y2="877.2" stroke="#2a2a2a" stroke-width="1.2"/>
<circle cx="661.0" cy="637.80" r="2.85" fill="#F55CEE"/>
<circle cx="654.8" cy="705.60" r="2.85" fill="#F55CEE"/>
<circle cx="661.6" cy="796.00" r="2.85" fill="#F55CEE"/>
<line x1="619.8" y1="533.1" x2="619.8" y2="877.2" stroke="#3a3a3a" stroke-width="1.2"/>
<line x1="741.60" y1="533.1" x2="741.60" y2="877.2" stroke="#8a8a8a" stroke-width="1.9"/>
<line x1="618.9499999999999" y1="877.2" x2="742.45" y2="877.2" stroke="#262626" stroke-width="1.4"/>
<rect x="619.8" y="515.6" width="121.80" height="17.50" fill="#fff" stroke="#1a1a1a" stroke-width="1.5"/>
<text transform="translate(680.70,528.20) scale(1,1.06)" text-anchor="middle" class="st">Social Stressor Groups</text>
<line x1="655.50" y1="877.2" x2="655.50" y2="879.4000000000001" stroke="#222" stroke-width="1.1"/>
<text transform="translate(655.50,888.80)" text-anchor="middle" class="bnum">1</text>
<line x1="694.90" y1="877.2" x2="694.90" y2="879.4000000000001" stroke="#222" stroke-width="1.1"/>
<text transform="translate(694.90,888.80)" text-anchor="middle" class="bnum">2</text>
<line x1="734.30" y1="877.2" x2="734.30" y2="879.4000000000001" stroke="#222" stroke-width="1.1"/>
<text transform="translate(734.30,888.80)" text-anchor="middle" class="bnum faint">3</text>
<line x1="105.2" y1="547.40" x2="108.0" y2="547.40" stroke="#333" stroke-width="1.5"/>
<text transform="translate(103.00,550.50) scale(1,1.08)" text-anchor="end" class="bax">Toxic Gases</text>
<line x1="105.2" y1="570.00" x2="108.0" y2="570.00" stroke="#333" stroke-width="1.5"/>
<text transform="translate(103.00,573.10) scale(1,1.08)" text-anchor="end" class="bax">Toxic Elements</text>
<line x1="105.2" y1="592.60" x2="108.0" y2="592.60" stroke="#333" stroke-width="1.5"/>
<text transform="translate(103.00,595.70) scale(1,1.08)" text-anchor="end" class="bax">Substance Use</text>
<line x1="105.2" y1="615.20" x2="108.0" y2="615.20" stroke="#333" stroke-width="1.5"/>
<text transform="translate(103.00,618.30) scale(1,1.08)" text-anchor="end" class="bax">Socio-Economic</text>
<line x1="105.2" y1="637.80" x2="108.0" y2="637.80" stroke="#333" stroke-width="1.5"/>
<text transform="translate(103.00,640.90) scale(1,1.08)" text-anchor="end" class="bax">Social Interaction</text>
<line x1="105.2" y1="660.40" x2="108.0" y2="660.40" stroke="#333" stroke-width="1.5"/>
<text transform="translate(103.00,663.50) scale(1,1.08)" text-anchor="end" class="bax">Sleep</text>
<line x1="105.2" y1="683.00" x2="108.0" y2="683.00" stroke="#333" stroke-width="1.5"/>
<text transform="translate(103.00,686.10) scale(1,1.08)" text-anchor="end" class="bax">Maternal Health</text>
<line x1="105.2" y1="705.60" x2="108.0" y2="705.60" stroke="#333" stroke-width="1.5"/>
<text transform="translate(103.00,708.70) scale(1,1.08)" text-anchor="end" class="bax">Home/Family Lifestyle</text>
<line x1="105.2" y1="728.20" x2="108.0" y2="728.20" stroke="#333" stroke-width="1.5"/>
<text transform="translate(103.00,731.30) scale(1,1.08)" text-anchor="end" class="bax">Endocrine Active</text>
<line x1="105.2" y1="750.80" x2="108.0" y2="750.80" stroke="#333" stroke-width="1.5"/>
<text transform="translate(103.00,753.90) scale(1,1.08)" text-anchor="end" class="bax">Diet</text>
<line x1="105.2" y1="773.40" x2="108.0" y2="773.40" stroke="#333" stroke-width="1.5"/>
<text transform="translate(103.00,776.50) scale(1,1.08)" text-anchor="end" class="bax">Child Health</text>
<line x1="105.2" y1="796.00" x2="108.0" y2="796.00" stroke="#333" stroke-width="1.5"/>
<text transform="translate(103.00,799.10) scale(1,1.08)" text-anchor="end" class="bax">Child Care</text>
<line x1="105.2" y1="818.60" x2="108.0" y2="818.60" stroke="#333" stroke-width="1.5"/>
<text transform="translate(103.00,821.70) scale(1,1.08)" text-anchor="end" class="bax">Breastfeeding</text>
<line x1="105.2" y1="841.20" x2="108.0" y2="841.20" stroke="#333" stroke-width="1.5"/>
<text transform="translate(103.00,844.30) scale(1,1.08)" text-anchor="end" class="bax">Birth Outcomes</text>
<line x1="105.2" y1="863.80" x2="108.0" y2="863.80" stroke="#333" stroke-width="1.5"/>
<text transform="translate(103.00,866.90) scale(1,1.08)" text-anchor="end" class="bax">Anthropometry</text>
<text transform="translate(424.90,901.80)" text-anchor="middle" class="bti">Odds Ratio (OR)</text>
<text transform="translate(13.90,705.50) rotate(-90)" text-anchor="middle" class="bti">Stressors</text>
<rect x="747" y="890" width="2" height="20" fill="#3a3a3a"/>
</g></svg>
</div></body></html>
